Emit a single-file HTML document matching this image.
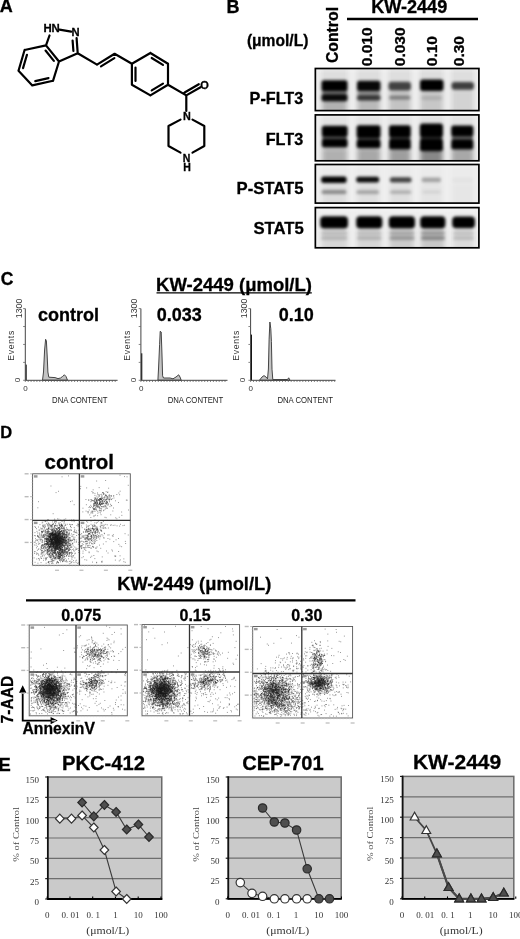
<!DOCTYPE html><html><head><meta charset="utf-8"><style>html,body{margin:0;padding:0;background:#fff;}svg{display:block;filter:blur(0.3px)}</style></head><body>
<svg width="520" height="939" viewBox="0 0 520 939">
<text x="-0.2" y="12.4" font-family="&quot;Liberation Sans&quot;, sans-serif" font-size="18" font-weight="bold" stroke="#000" stroke-width="0.3" text-anchor="start" fill="#000">A</text>
<path d="M24.6,50L46,45.4M46,45.4L59,61.5M59,61.5L53,80.8M53,80.8L32.3,85.4M32.3,85.4L18.5,70.8M18.5,70.8L24.6,50M23.05,68.07L26.96,54.76M48.49,78.11L35.25,81.06M45.54,50.56L53.86,60.86M46,45.4L49.5,35.5M59.5,29.6L71.2,31.6M76.6,38.2L77.7,53.2M72.6,40.5L73.4,51.0M77.7,53.2L59,61.5M77.7,53.2L97,64.6M97,64.6L114.6,53.8M100.99,66.37L114.37,58.16M114.6,53.8L131.9,63.7M131.9,63.7L150.4,53M150.4,53L168,63.7M168,63.7L168,84.8M168,84.8L150.4,95.4M150.4,95.4L131.9,84.8M131.9,84.8L131.9,63.7M135.5,81.0L135.5,67.5M151.7,58.0L162.96,64.85M162.97,83.62L151.71,90.41M168,84.8L186.3,95.4M186.3,95.4L200.5,87.2M184.6,92.46L198.8,84.26M186.3,95.4L186.3,111M180.5,119.6L168.5,126M168.5,126L168.5,146M168.5,146L180.5,152.6M192.5,119.6L204.3,126M204.3,126L204.3,146M204.3,146L192.5,152.6" stroke="#000" stroke-width="2.2" fill="none" stroke-linecap="round"/>
<text x="43.4" y="32.2" font-family="&quot;Liberation Sans&quot;, sans-serif" font-size="11.4" font-weight="bold" stroke="#000" stroke-width="0.3" text-anchor="start" fill="#000">HN</text>
<text x="71.5" y="36.3" font-family="&quot;Liberation Sans&quot;, sans-serif" font-size="11.2" font-weight="bold" stroke="#000" stroke-width="0.3" text-anchor="start" fill="#000">N</text>
<text x="200.3" y="88.5" font-family="&quot;Liberation Sans&quot;, sans-serif" font-size="11" font-weight="bold" stroke="#000" stroke-width="0.3" text-anchor="start" fill="#000">O</text>
<text x="183" y="119.9" font-family="&quot;Liberation Sans&quot;, sans-serif" font-size="10.8" font-weight="bold" stroke="#000" stroke-width="0.3" text-anchor="start" fill="#000">N</text>
<text x="182.7" y="161.5" font-family="&quot;Liberation Sans&quot;, sans-serif" font-size="10.5" font-weight="bold" stroke="#000" stroke-width="0.3" text-anchor="start" fill="#000">N</text>
<text x="183.2" y="171.1" font-family="&quot;Liberation Sans&quot;, sans-serif" font-size="10.5" font-weight="bold" stroke="#000" stroke-width="0.3" text-anchor="start" fill="#000">H</text>
<text x="226.5" y="12.6" font-family="&quot;Liberation Sans&quot;, sans-serif" font-size="18" font-weight="bold" stroke="#000" stroke-width="0.3" text-anchor="start" fill="#000">B</text>
<text x="246.9" y="45.6" font-family="&quot;Liberation Sans&quot;, sans-serif" font-size="15.6" font-weight="bold" stroke="#000" stroke-width="0.3" text-anchor="start" fill="#000">(&#956;mol/L)</text>
<text x="338.2" y="63.1" font-family="&quot;Liberation Sans&quot;, sans-serif" font-size="15.8" font-weight="bold" stroke="#000" stroke-width="0.3" text-anchor="start" fill="#000" transform="rotate(-90 338.2 63.1)">Control</text>
<text x="371.9" y="66.2" font-family="&quot;Liberation Sans&quot;, sans-serif" font-size="15.5" font-weight="bold" stroke="#000" stroke-width="0.3" text-anchor="start" fill="#000" transform="rotate(-90 371.9 66.2)">0.010</text>
<text x="405.4" y="66.2" font-family="&quot;Liberation Sans&quot;, sans-serif" font-size="15.5" font-weight="bold" stroke="#000" stroke-width="0.3" text-anchor="start" fill="#000" transform="rotate(-90 405.4 66.2)">0.030</text>
<text x="436.9" y="66.2" font-family="&quot;Liberation Sans&quot;, sans-serif" font-size="15.5" font-weight="bold" stroke="#000" stroke-width="0.3" text-anchor="start" fill="#000" transform="rotate(-90 436.9 66.2)">0.10</text>
<text x="464.0" y="66.2" font-family="&quot;Liberation Sans&quot;, sans-serif" font-size="15.5" font-weight="bold" stroke="#000" stroke-width="0.3" text-anchor="start" fill="#000" transform="rotate(-90 464.0 66.2)">0.30</text>
<text x="371.2" y="13.3" font-family="&quot;Liberation Sans&quot;, sans-serif" font-size="18.1" font-weight="bold" stroke="#000" stroke-width="0.3" text-anchor="start" fill="#000">KW-2449</text>
<line x1="347" y1="19.0" x2="478" y2="19.0" stroke="#000" stroke-width="2.6"/>
<text x="249.6" y="103.5" font-family="&quot;Liberation Sans&quot;, sans-serif" font-size="16.2" font-weight="bold" stroke="#000" stroke-width="0.3" text-anchor="start" fill="#000">P-FLT3</text>
<text x="265.7" y="144.9" font-family="&quot;Liberation Sans&quot;, sans-serif" font-size="16.2" font-weight="bold" stroke="#000" stroke-width="0.3" text-anchor="start" fill="#000">FLT3</text>
<text x="236.5" y="193.5" font-family="&quot;Liberation Sans&quot;, sans-serif" font-size="16.7" font-weight="bold" stroke="#000" stroke-width="0.3" text-anchor="start" fill="#000">P-STAT5</text>
<text x="253.4" y="233.9" font-family="&quot;Liberation Sans&quot;, sans-serif" font-size="16.7" font-weight="bold" stroke="#000" stroke-width="0.3" text-anchor="start" fill="#000">STAT5</text>
<defs><filter id="bl" x="-20%" y="-60%" width="140%" height="220%"><feGaussianBlur stdDeviation="1.5"/></filter><filter id="bl2" x="-30%" y="-30%" width="160%" height="160%"><feGaussianBlur stdDeviation="2.4"/></filter><filter id="bl3" x="-30%" y="-30%" width="160%" height="160%"><feGaussianBlur stdDeviation="0.8"/></filter></defs>
<svg x="315.35" y="68.5" width="163.54999999999995" height="42.099999999999994" viewBox="315.35 68.5 163.54999999999995 42.099999999999994" overflow="hidden">
<rect x="315.35" y="68.5" width="163.54999999999995" height="42.099999999999994" fill="#dedede"/>
<rect x="311.85" y="63.5" width="9.149999999999977" height="52.099999999999994" fill="#efefef" filter="url(#bl2)"/>
<rect x="348.0" y="63.5" width="8.5" height="52.099999999999994" fill="#efefef" filter="url(#bl2)"/>
<rect x="381.0" y="63.5" width="7.0" height="52.099999999999994" fill="#efefef" filter="url(#bl2)"/>
<rect x="411.5" y="63.5" width="8" height="52.099999999999994" fill="#efefef" filter="url(#bl2)"/>
<rect x="444.0" y="63.5" width="7.0" height="52.099999999999994" fill="#efefef" filter="url(#bl2)"/>
<rect x="474.5" y="63.5" width="7.899999999999977" height="52.099999999999994" fill="#efefef" filter="url(#bl2)"/>
<rect x="315.35" y="62.5" width="163.54999999999995" height="8" fill="#fafafa" opacity="0.5" filter="url(#bl2)"/>
<g filter="url(#bl2)">
<rect x="322.5" y="90" width="24.0" height="24.599999999999994" fill="#000" fill-opacity="0.2"/>
<rect x="358" y="90" width="21.5" height="24.599999999999994" fill="#000" fill-opacity="0.17"/>
<rect x="389.5" y="90" width="20.5" height="24.599999999999994" fill="#000" fill-opacity="0.12"/>
<rect x="421" y="90" width="21.5" height="24.599999999999994" fill="#000" fill-opacity="0.1"/>
<rect x="452.5" y="90" width="20.5" height="24.599999999999994" fill="#000" fill-opacity="0.05"/>
</g>
<g filter="url(#bl)">
<rect x="322" y="90" width="25" height="5" rx="1" fill="#000" fill-opacity="0.35"/>
<rect x="357.5" y="90" width="22.5" height="5.5" rx="1" fill="#000" fill-opacity="0.25"/>
<rect x="321.5" y="80.2" width="26.0" height="11.0" rx="2.5" fill="#000" fill-opacity="1"/>
<rect x="321.5" y="94.2" width="26.0" height="7.0" rx="2.5" fill="#000" fill-opacity="0.95"/>
<rect x="357" y="80.8" width="23.5" height="10.200000000000003" rx="2.5" fill="#000" fill-opacity="0.97"/>
<rect x="357" y="95.2" width="23.5" height="5.200000000000003" rx="2" fill="#000" fill-opacity="0.72"/>
<rect x="388.5" y="81.8" width="22.5" height="8.799999999999997" rx="3" fill="#000" fill-opacity="0.7"/>
<rect x="389" y="95.8" width="21.5" height="3.799999999999997" rx="2" fill="#000" fill-opacity="0.38"/>
<rect x="420" y="79.6" width="23.5" height="11.400000000000006" rx="3" fill="#000" fill-opacity="1"/>
<rect x="421" y="96" width="21.5" height="4" rx="2" fill="#000" fill-opacity="0.12"/>
<rect x="451.5" y="82" width="22.5" height="7.799999999999997" rx="3" fill="#000" fill-opacity="0.72"/>
</g>
</svg>
<rect x="315.35" y="68.5" width="163.54999999999995" height="42.099999999999994" fill="none" stroke="#000" stroke-width="1.7"/>
<svg x="315.35" y="114.9" width="163.54999999999995" height="45.900000000000006" viewBox="315.35 114.9 163.54999999999995 45.900000000000006" overflow="hidden">
<rect x="315.35" y="114.9" width="163.54999999999995" height="45.900000000000006" fill="#e2e2e2"/>
<rect x="311.85" y="109.9" width="9.149999999999977" height="55.900000000000006" fill="#efefef" filter="url(#bl2)"/>
<rect x="348.5" y="109.9" width="7.5" height="55.900000000000006" fill="#efefef" filter="url(#bl2)"/>
<rect x="381.5" y="109.9" width="6.5" height="55.900000000000006" fill="#efefef" filter="url(#bl2)"/>
<rect x="411.5" y="109.9" width="7.5" height="55.900000000000006" fill="#efefef" filter="url(#bl2)"/>
<rect x="444.0" y="109.9" width="6.5" height="55.900000000000006" fill="#efefef" filter="url(#bl2)"/>
<rect x="474.5" y="109.9" width="7.899999999999977" height="55.900000000000006" fill="#efefef" filter="url(#bl2)"/>
<rect x="315.35" y="108.9" width="163.54999999999995" height="8" fill="#fafafa" opacity="0.5" filter="url(#bl2)"/>
<g filter="url(#bl2)">
<rect x="322.5" y="148" width="24.5" height="16.80000000000001" fill="#000" fill-opacity="0.22"/>
<rect x="357.5" y="148" width="22.5" height="16.80000000000001" fill="#000" fill-opacity="0.26"/>
<rect x="389.5" y="148" width="20.5" height="16.80000000000001" fill="#000" fill-opacity="0.3"/>
<rect x="420.5" y="148" width="22.0" height="16.80000000000001" fill="#000" fill-opacity="0.4"/>
<rect x="452" y="148" width="21" height="16.80000000000001" fill="#000" fill-opacity="0.26"/>
</g>
<g filter="url(#bl)">
<rect x="321.8" y="125.8" width="25.80000000000001" height="11.000000000000014" rx="2.5" fill="#000" fill-opacity="1"/>
<rect x="321.8" y="138.8" width="25.80000000000001" height="8.599999999999994" rx="2.5" fill="#000" fill-opacity="1"/>
<rect x="356.6" y="125.2" width="24.0" height="12.799999999999997" rx="2.5" fill="#000" fill-opacity="1"/>
<rect x="356.6" y="139.4" width="24.0" height="8.799999999999983" rx="2.5" fill="#000" fill-opacity="1"/>
<rect x="389" y="125.2" width="21.80000000000001" height="12.399999999999991" rx="2.5" fill="#000" fill-opacity="1"/>
<rect x="389" y="138.8" width="21.80000000000001" height="10.599999999999994" rx="2.5" fill="#000" fill-opacity="1"/>
<rect x="419.8" y="123.6" width="23.19999999999999" height="14.0" rx="3" fill="#000" fill-opacity="1"/>
<rect x="419.8" y="138.6" width="23.19999999999999" height="12.700000000000017" rx="3" fill="#000" fill-opacity="1"/>
<rect x="451.2" y="125.4" width="22.19999999999999" height="11.199999999999989" rx="2.5" fill="#000" fill-opacity="1"/>
<rect x="451.2" y="139.2" width="22.19999999999999" height="10.200000000000017" rx="2.5" fill="#000" fill-opacity="1"/>
<rect x="322" y="136" width="25" height="3.5" rx="0" fill="#000" fill-opacity="0.55"/>
<rect x="357" y="137.5" width="23" height="2.5" rx="0" fill="#000" fill-opacity="0.6"/>
<rect x="389.5" y="137" width="21.0" height="2.5" rx="0" fill="#000" fill-opacity="0.6"/>
<rect x="420" y="137" width="22.5" height="2" rx="0" fill="#000" fill-opacity="0.6"/>
<rect x="451.5" y="136.2" width="21.5" height="3.4000000000000057" rx="0" fill="#000" fill-opacity="0.55"/>
</g>
</svg>
<rect x="315.35" y="114.9" width="163.54999999999995" height="45.900000000000006" fill="none" stroke="#000" stroke-width="1.7"/>
<svg x="315.35" y="164.5" width="163.54999999999995" height="38.599999999999994" viewBox="315.35 164.5 163.54999999999995 38.599999999999994" overflow="hidden">
<rect x="315.35" y="164.5" width="163.54999999999995" height="38.599999999999994" fill="#ebebeb"/>
<rect x="311.85" y="159.5" width="9.149999999999977" height="48.599999999999994" fill="#efefef" filter="url(#bl2)"/>
<rect x="348.0" y="159.5" width="8.0" height="48.599999999999994" fill="#efefef" filter="url(#bl2)"/>
<rect x="380.5" y="159.5" width="8" height="48.599999999999994" fill="#efefef" filter="url(#bl2)"/>
<rect x="412.5" y="159.5" width="7.5" height="48.599999999999994" fill="#efefef" filter="url(#bl2)"/>
<rect x="443.0" y="159.5" width="8.0" height="48.599999999999994" fill="#efefef" filter="url(#bl2)"/>
<rect x="474.5" y="159.5" width="7.899999999999977" height="48.599999999999994" fill="#efefef" filter="url(#bl2)"/>
<rect x="315.35" y="158.5" width="163.54999999999995" height="8" fill="#fafafa" opacity="0.5" filter="url(#bl2)"/>
<g filter="url(#bl2)">
<rect x="322.5" y="184" width="24.0" height="23" fill="#000" fill-opacity="0.06"/>
<rect x="357.5" y="184" width="21.5" height="23" fill="#000" fill-opacity="0.05"/>
<rect x="390" y="184" width="21" height="23" fill="#000" fill-opacity="0.05"/>
<rect x="421.5" y="184" width="20.0" height="23" fill="#000" fill-opacity="0.03"/>
<rect x="452.5" y="184" width="20.5" height="23" fill="#000" fill-opacity="0.02"/>
</g>
<g filter="url(#bl)">
<rect x="321.2" y="176.4" width="25.400000000000034" height="6.599999999999994" rx="2.5" fill="#000" fill-opacity="1"/>
<rect x="321.6" y="190" width="24.799999999999955" height="4" rx="1.5" fill="#000" fill-opacity="0.38"/>
<rect x="356.2" y="176.8" width="23.0" height="5.799999999999983" rx="2.5" fill="#000" fill-opacity="0.95"/>
<rect x="356.4" y="190.2" width="22.600000000000023" height="3.8000000000000114" rx="1.5" fill="#000" fill-opacity="0.28"/>
<rect x="389.8" y="177.2" width="21.80000000000001" height="5.200000000000017" rx="2.5" fill="#000" fill-opacity="0.72"/>
<rect x="390" y="190.4" width="21.399999999999977" height="3.4000000000000057" rx="1.5" fill="#000" fill-opacity="0.24"/>
<rect x="421.6" y="177.6" width="19.399999999999977" height="4.599999999999994" rx="2" fill="#000" fill-opacity="0.3"/>
<rect x="422" y="190.6" width="19" height="3.0" rx="1.5" fill="#000" fill-opacity="0.08"/>
<rect x="452" y="178" width="21" height="4" rx="2" fill="#000" fill-opacity="0.04"/>
</g>
</svg>
<rect x="315.35" y="164.5" width="163.54999999999995" height="38.599999999999994" fill="none" stroke="#000" stroke-width="1.7"/>
<svg x="315.35" y="207.6" width="163.54999999999995" height="40.20000000000002" viewBox="315.35 207.6 163.54999999999995 40.20000000000002" overflow="hidden">
<rect x="315.35" y="207.6" width="163.54999999999995" height="40.20000000000002" fill="#eeeeee"/>
<rect x="311.85" y="202.6" width="8.149999999999977" height="50.20000000000002" fill="#efefef" filter="url(#bl2)"/>
<rect x="349.0" y="202.6" width="6.5" height="50.20000000000002" fill="#efefef" filter="url(#bl2)"/>
<rect x="383.0" y="202.6" width="5.0" height="50.20000000000002" fill="#efefef" filter="url(#bl2)"/>
<rect x="415.5" y="202.6" width="4" height="50.20000000000002" fill="#efefef" filter="url(#bl2)"/>
<rect x="446.0" y="202.6" width="5.5" height="50.20000000000002" fill="#efefef" filter="url(#bl2)"/>
<rect x="475.5" y="202.6" width="6.899999999999977" height="50.20000000000002" fill="#efefef" filter="url(#bl2)"/>
<rect x="315.35" y="201.6" width="163.54999999999995" height="8" fill="#fafafa" opacity="0.5" filter="url(#bl2)"/>
<g filter="url(#bl2)">
<rect x="321.5" y="229" width="26.0" height="22.80000000000001" fill="#000" fill-opacity="0.1"/>
<rect x="357" y="229" width="24.5" height="22.80000000000001" fill="#000" fill-opacity="0.1"/>
<rect x="389.5" y="229" width="24.5" height="22.80000000000001" fill="#000" fill-opacity="0.14"/>
<rect x="421" y="229" width="23.5" height="22.80000000000001" fill="#000" fill-opacity="0.16"/>
<rect x="453" y="229" width="21" height="22.80000000000001" fill="#000" fill-opacity="0.08"/>
</g>
<g filter="url(#bl)">
<rect x="320.2" y="216.2" width="27.80000000000001" height="12.400000000000006" rx="4" fill="#000" fill-opacity="1"/>
<rect x="356.2" y="216.2" width="26.100000000000023" height="12.400000000000006" rx="4" fill="#000" fill-opacity="1"/>
<rect x="388.8" y="216.2" width="26.19999999999999" height="12.400000000000006" rx="4" fill="#000" fill-opacity="1"/>
<rect x="420.2" y="216.2" width="25.19999999999999" height="12.400000000000006" rx="4" fill="#000" fill-opacity="1"/>
<rect x="452.2" y="216.6" width="22.80000000000001" height="11.599999999999994" rx="4" fill="#000" fill-opacity="1"/>
<rect x="321" y="231.5" width="26.5" height="3.0" rx="1.5" fill="#000" fill-opacity="0.16"/>
<rect x="357" y="231.5" width="24.5" height="3.0" rx="1.5" fill="#000" fill-opacity="0.15"/>
<rect x="389.5" y="231.5" width="25.0" height="3.0" rx="1.5" fill="#000" fill-opacity="0.24"/>
<rect x="421" y="231.5" width="24" height="3.0" rx="1.5" fill="#000" fill-opacity="0.3"/>
<rect x="453" y="231.5" width="21" height="3.0" rx="1.5" fill="#000" fill-opacity="0.15"/>
<rect x="321" y="236" width="26.5" height="4" rx="1.5" fill="#000" fill-opacity="0.15"/>
<rect x="357" y="236" width="24.5" height="4" rx="1.5" fill="#000" fill-opacity="0.16"/>
<rect x="389.5" y="236" width="25.0" height="4" rx="1.5" fill="#000" fill-opacity="0.26"/>
<rect x="421" y="236" width="24" height="4" rx="1.5" fill="#000" fill-opacity="0.32"/>
<rect x="453" y="236" width="21" height="4" rx="1.5" fill="#000" fill-opacity="0.14"/>
</g>
</svg>
<rect x="315.35" y="207.6" width="163.54999999999995" height="40.20000000000002" fill="none" stroke="#000" stroke-width="1.7"/>
<text x="0.7" y="284.8" font-family="&quot;Liberation Sans&quot;, sans-serif" font-size="17.5" font-weight="bold" stroke="#000" stroke-width="0.3" text-anchor="start" fill="#000">C</text>
<text x="156.1" y="291.3" font-family="&quot;Liberation Sans&quot;, sans-serif" font-size="18.5" font-weight="bold" stroke="#000" stroke-width="0.3" text-anchor="start" fill="#000">KW-2449 (&#956;mol/L)</text>
<line x1="156.5" y1="292.9" x2="311.8" y2="292.9" stroke="#000" stroke-width="1.4"/>
<text x="38.1" y="320.5" font-family="&quot;Liberation Sans&quot;, sans-serif" font-size="18" font-weight="bold" stroke="#000" stroke-width="0.3" text-anchor="start" fill="#000">control</text>
<path d="M42.5,380.2 L43.5,372 L44.6,350 L45.6,339.3 L46.4,341 L47.2,356 L47.9,372 L48.8,377.2 L55,377.6 L58,378.6 L60.5,378 L62.5,376.5 L64.4,374.8 L66,376.5 L67.5,380.2Z" fill="#c4c4c4" stroke="#333" stroke-width="0.9" stroke-linejoin="round"/>
<rect x="25.5" y="364.6" width="1.2" height="15.699999999999989" fill="#111"/>
<line x1="25.3" y1="308.6" x2="25.3" y2="380.3" stroke="#444" stroke-width="1"/>
<line x1="25.3" y1="380.3" x2="117.6" y2="380.3" stroke="#444" stroke-width="1"/>
<line x1="23.1" y1="308.6" x2="25.3" y2="308.6" stroke="#666" stroke-width="0.8"/>
<line x1="23.1" y1="326.52500000000003" x2="25.3" y2="326.52500000000003" stroke="#666" stroke-width="0.8"/>
<line x1="23.1" y1="344.45000000000005" x2="25.3" y2="344.45000000000005" stroke="#666" stroke-width="0.8"/>
<line x1="23.1" y1="362.375" x2="25.3" y2="362.375" stroke="#666" stroke-width="0.8"/>
<line x1="23.1" y1="380.3" x2="25.3" y2="380.3" stroke="#666" stroke-width="0.8"/>
<path d="M25.3,380.3v1.6M28.2,380.3v1.6M31.1,380.3v1.6M34.0,380.3v1.6M36.9,380.3v1.6M39.8,380.3v1.6M42.7,380.3v1.6M45.6,380.3v1.6M48.5,380.3v1.6M51.4,380.3v1.6M54.3,380.3v1.6M57.2,380.3v1.6M60.1,380.3v1.6M63.0,380.3v1.6M65.9,380.3v1.6M68.8,380.3v1.6M71.7,380.3v1.6M74.6,380.3v1.6M77.5,380.3v1.6M80.4,380.3v1.6M83.3,380.3v1.6M86.2,380.3v1.6M89.1,380.3v1.6M92.0,380.3v1.6M94.9,380.3v1.6M97.8,380.3v1.6M100.7,380.3v1.6M103.6,380.3v1.6M106.5,380.3v1.6M109.4,380.3v1.6M112.3,380.3v1.6M115.2,380.3v1.6" stroke="#555" stroke-width="0.8"/>
<text x="21.6" y="318.20000000000005" font-family="&quot;Liberation Sans&quot;, sans-serif" font-size="8.8" text-anchor="start" fill="#333" transform="rotate(-90 21.6 318.20000000000005)">1300</text>
<text x="14.0" y="360.8" font-family="&quot;Liberation Sans&quot;, sans-serif" font-size="8.6" text-anchor="start" fill="#333" transform="rotate(-90 14.0 360.8)" textLength="30" lengthAdjust="spacing">Events</text>
<text x="20.1" y="382.2" font-family="&quot;Liberation Sans&quot;, sans-serif" font-size="8" text-anchor="start" fill="#333" transform="rotate(-90 20.1 382.2)">0</text>
<text x="23.3" y="390.7" font-family="&quot;Liberation Sans&quot;, sans-serif" font-size="8" text-anchor="start" fill="#333">0</text>
<text x="52.1" y="403.1" font-family="&quot;Liberation Sans&quot;, sans-serif" font-size="8.6" text-anchor="start" fill="#222" textLength="55.5" lengthAdjust="spacingAndGlyphs">DNA CONTENT</text>
<text x="156.8" y="320.5" font-family="&quot;Liberation Sans&quot;, sans-serif" font-size="18" font-weight="bold" stroke="#000" stroke-width="0.3" text-anchor="start" fill="#000">0.033</text>
<path d="M157.9,380.2 L158.5,369 L159.6,344.6 L160.2,331.3 L161.2,332 L162,355 L162.6,375.8 L163.5,378 L170,378 L173,378.8 L176,377 L178.7,374.8 L180,377 L181.2,380.2Z" fill="#c4c4c4" stroke="#333" stroke-width="0.9" stroke-linejoin="round"/>
<rect x="141.1" y="353.3" width="1.2" height="27.0" fill="#111"/>
<line x1="140.9" y1="308.6" x2="140.9" y2="380.3" stroke="#444" stroke-width="1"/>
<line x1="140.9" y1="380.3" x2="227.5" y2="380.3" stroke="#444" stroke-width="1"/>
<line x1="138.70000000000002" y1="308.6" x2="140.9" y2="308.6" stroke="#666" stroke-width="0.8"/>
<line x1="138.70000000000002" y1="326.52500000000003" x2="140.9" y2="326.52500000000003" stroke="#666" stroke-width="0.8"/>
<line x1="138.70000000000002" y1="344.45000000000005" x2="140.9" y2="344.45000000000005" stroke="#666" stroke-width="0.8"/>
<line x1="138.70000000000002" y1="362.375" x2="140.9" y2="362.375" stroke="#666" stroke-width="0.8"/>
<line x1="138.70000000000002" y1="380.3" x2="140.9" y2="380.3" stroke="#666" stroke-width="0.8"/>
<path d="M140.9,380.3v1.6M143.8,380.3v1.6M146.7,380.3v1.6M149.6,380.3v1.6M152.5,380.3v1.6M155.4,380.3v1.6M158.3,380.3v1.6M161.2,380.3v1.6M164.1,380.3v1.6M167.0,380.3v1.6M169.9,380.3v1.6M172.8,380.3v1.6M175.7,380.3v1.6M178.6,380.3v1.6M181.5,380.3v1.6M184.4,380.3v1.6M187.3,380.3v1.6M190.2,380.3v1.6M193.1,380.3v1.6M196.0,380.3v1.6M198.9,380.3v1.6M201.8,380.3v1.6M204.7,380.3v1.6M207.6,380.3v1.6M210.5,380.3v1.6M213.4,380.3v1.6M216.3,380.3v1.6M219.2,380.3v1.6M222.1,380.3v1.6M225.0,380.3v1.6" stroke="#555" stroke-width="0.8"/>
<text x="137.20000000000002" y="318.20000000000005" font-family="&quot;Liberation Sans&quot;, sans-serif" font-size="8.8" text-anchor="start" fill="#333" transform="rotate(-90 137.20000000000002 318.20000000000005)">1300</text>
<text x="129.6" y="360.8" font-family="&quot;Liberation Sans&quot;, sans-serif" font-size="8.6" text-anchor="start" fill="#333" transform="rotate(-90 129.6 360.8)" textLength="30" lengthAdjust="spacing">Events</text>
<text x="135.70000000000002" y="382.2" font-family="&quot;Liberation Sans&quot;, sans-serif" font-size="8" text-anchor="start" fill="#333" transform="rotate(-90 135.70000000000002 382.2)">0</text>
<text x="138.9" y="390.7" font-family="&quot;Liberation Sans&quot;, sans-serif" font-size="8" text-anchor="start" fill="#333">0</text>
<text x="167.70000000000002" y="403.1" font-family="&quot;Liberation Sans&quot;, sans-serif" font-size="8.6" text-anchor="start" fill="#222" textLength="55.5" lengthAdjust="spacingAndGlyphs">DNA CONTENT</text>
<text x="278.7" y="320.5" font-family="&quot;Liberation Sans&quot;, sans-serif" font-size="18" font-weight="bold" stroke="#000" stroke-width="0.3" text-anchor="start" fill="#000">0.10</text>
<path d="M259.5,380.2 L262,377 L264,375.6 L266,377 L267.5,378.8 L268.4,369 L269.1,339.2 L269.9,322 L270.8,328.8 L271.4,341.5 L272,369.2 L272.8,379.6 L287.5,379.5 L288.7,377.8 L290,380.2Z" fill="#c4c4c4" stroke="#333" stroke-width="0.9" stroke-linejoin="round"/>
<rect x="250.79999999999998" y="334.6" width="1.2" height="45.69999999999999" fill="#111"/>
<line x1="250.6" y1="308.6" x2="250.6" y2="380.3" stroke="#444" stroke-width="1"/>
<line x1="250.6" y1="380.3" x2="335.5" y2="380.3" stroke="#444" stroke-width="1"/>
<line x1="248.4" y1="308.6" x2="250.6" y2="308.6" stroke="#666" stroke-width="0.8"/>
<line x1="248.4" y1="326.52500000000003" x2="250.6" y2="326.52500000000003" stroke="#666" stroke-width="0.8"/>
<line x1="248.4" y1="344.45000000000005" x2="250.6" y2="344.45000000000005" stroke="#666" stroke-width="0.8"/>
<line x1="248.4" y1="362.375" x2="250.6" y2="362.375" stroke="#666" stroke-width="0.8"/>
<line x1="248.4" y1="380.3" x2="250.6" y2="380.3" stroke="#666" stroke-width="0.8"/>
<path d="M250.6,380.3v1.6M253.5,380.3v1.6M256.4,380.3v1.6M259.3,380.3v1.6M262.2,380.3v1.6M265.1,380.3v1.6M268.0,380.3v1.6M270.9,380.3v1.6M273.8,380.3v1.6M276.7,380.3v1.6M279.6,380.3v1.6M282.5,380.3v1.6M285.4,380.3v1.6M288.3,380.3v1.6M291.2,380.3v1.6M294.1,380.3v1.6M297.0,380.3v1.6M299.9,380.3v1.6M302.8,380.3v1.6M305.7,380.3v1.6M308.6,380.3v1.6M311.5,380.3v1.6M314.4,380.3v1.6M317.3,380.3v1.6M320.2,380.3v1.6M323.1,380.3v1.6M326.0,380.3v1.6M328.9,380.3v1.6M331.8,380.3v1.6M334.7,380.3v1.6" stroke="#555" stroke-width="0.8"/>
<text x="246.9" y="318.20000000000005" font-family="&quot;Liberation Sans&quot;, sans-serif" font-size="8.8" text-anchor="start" fill="#333" transform="rotate(-90 246.9 318.20000000000005)">1300</text>
<text x="239.29999999999998" y="360.8" font-family="&quot;Liberation Sans&quot;, sans-serif" font-size="8.6" text-anchor="start" fill="#333" transform="rotate(-90 239.29999999999998 360.8)" textLength="30" lengthAdjust="spacing">Events</text>
<text x="245.4" y="382.2" font-family="&quot;Liberation Sans&quot;, sans-serif" font-size="8" text-anchor="start" fill="#333" transform="rotate(-90 245.4 382.2)">0</text>
<text x="248.6" y="390.7" font-family="&quot;Liberation Sans&quot;, sans-serif" font-size="8" text-anchor="start" fill="#333">0</text>
<text x="277.4" y="403.1" font-family="&quot;Liberation Sans&quot;, sans-serif" font-size="8.6" text-anchor="start" fill="#222" textLength="55.5" lengthAdjust="spacingAndGlyphs">DNA CONTENT</text>
<text x="0.35" y="438.2" font-family="&quot;Liberation Sans&quot;, sans-serif" font-size="16.5" font-weight="bold" stroke="#000" stroke-width="0.3" text-anchor="start" fill="#000">D</text>
<text x="44.5" y="468.6" font-family="&quot;Liberation Sans&quot;, sans-serif" font-size="20.5" font-weight="bold" stroke="#000" stroke-width="0.3" text-anchor="start" fill="#000">control</text>
<text x="117.2" y="589.9" font-family="&quot;Liberation Sans&quot;, sans-serif" font-size="18.3" font-weight="bold" stroke="#000" stroke-width="0.3" text-anchor="start" fill="#000">KW-2449 (&#956;mol/L)</text>
<line x1="26" y1="600.4" x2="355.5" y2="600.4" stroke="#000" stroke-width="2.4"/>
<text x="61.2" y="620.5" font-family="&quot;Liberation Sans&quot;, sans-serif" font-size="16" font-weight="bold" stroke="#000" stroke-width="0.3" text-anchor="start" fill="#000">0.075</text>
<text x="179.5" y="620.5" font-family="&quot;Liberation Sans&quot;, sans-serif" font-size="16" font-weight="bold" stroke="#000" stroke-width="0.3" text-anchor="start" fill="#000">0.15</text>
<text x="291.2" y="620.5" font-family="&quot;Liberation Sans&quot;, sans-serif" font-size="16" font-weight="bold" stroke="#000" stroke-width="0.3" text-anchor="start" fill="#000">0.30</text>
<text x="13.0" y="723.4" font-family="&quot;Liberation Sans&quot;, sans-serif" font-size="15.6" font-weight="bold" stroke="#000" stroke-width="0.3" text-anchor="start" fill="#000" transform="rotate(-90 13.0 723.4)">7-AAD</text>
<text x="22.5" y="734.1" font-family="&quot;Liberation Sans&quot;, sans-serif" font-size="15.7" font-weight="bold" stroke="#000" stroke-width="0.3" text-anchor="start" fill="#000">AnnexinV</text>
<path d="M22.7,692 V720.6 H51" stroke="#000" stroke-width="1.8" fill="none"/>
<path d="M22.7,685.2 L19,692.8 L26.4,692.8Z M57.8,720.6 L50.6,716.9 L50.6,724.3Z" fill="#000"/>
<path transform="scale(0.1)" d="M0 0m1196 4752h9m-524 7h9m-74 9h9m615-2h9m17 2h9m-223 37h9m-99 5h9m307 43h9m-782 7h9m289 4h9m50 15h9m116-3h9m86 6h9m-290 5h9m117 11h9m-356 15h9m608-1h9m-291 3h9m96 10h9m28-8h9m4 7h9m-4-3h9m-528 5h9m360 4h9m-8-3h9m10 7h9m16-5h9m47-2h9m-4 2h9m144 1h9m-221 12h9m31 1h9m7-5h9m-6 6h9m-4-8h9m-100 18h9m27-5h9m-1 5h9m-2-9h9m41 3h9m-5 3h9m-3 4h9m-7-3h9m21-2h9m-8 2h9m66-7h9m19 2h9m-237 14h9m16 2h9m16-3h9m-7 0h9m28-1h9m-2 2h9m10-1h9m3 3h9m1-4h9m1 1h9m-9-1h9m12 2h9m-8-4h9m-193 17h9m21-4h9m20 2h9m23-3h9m-4 3h9m12 0h9m-6-6h9m-6 6h9m-142 8h9m18 0h9m-6 3h9m24 1h9m-1-2h9m-4 2h9m-6-5h9m-7 4h9m3-5h9m2 1h9m10 3h9m2 0h9m4-7h9m6 5h9m25 0h9m-289 15h9m78-1h9m-4-5h9m-6 0h9m-9-1h9m3 6h9m-8-3h9m18 3h9m-6-5h9m-9-4h9m-6 4h9m-9 4h9m-6-7h9m-8 7h9m-5-8h9m-1 10h9m7 0h9m-1-2h9m-8-1h9m9 1h9m-4 2h9m2-7h9m5-2h9m-4 8h9m-8-1h9m17-7h9m-243 17h9m-9-5h9m13-2h9m-6 2h9m0 5h9m7 2h9m1-5h9m9 2h9m-8 2h9m2-9h9m-2 0h9m-9 7h9m-9-3h9m4 6h9m-8-7h9m-5-3h9m-2 2h9m-5-1h9m-9 0h9m33 3h9m-2-3h9m8 1h9m0-1h9m14 0h9m-8-1h9m142 6h9m-1 1h9m-558 8h9m185-1h9m-1-3h9m2 4h9m2 1h9m-5-3h9m5 3h9m-7-2h9m-7 2h9m-3 1h9m-6-7h9m4 1h9m-4 2h9m-7 2h9m10-1h9m1-4h9m-8 1h9m4 2h9m-5 5h9m4-7h9m-3 5h9m-1 4h9m13-8h9m53 1h9m-780 9h9m312-1h9m194 1h9m29 1h9m-8 2h9m-4 5h9m-7-5h9m-6 4h9m0-5h9m22 0h9m-7 4h9m-5-6h9m-7 6h9m-6-6h9m-5 4h9m1-5h9m-6 0h9m-1 4h9m2-4h9m6 6h9m-4-2h9m-6 0h9m-5 4h9m-7 0h9m13-6h9m81 7h9m-260 9h9m-1 0h9m-5-3h9m-4-2h9m-6 1h9m-7 5h9m0-3h9m-6-5h9m-6 6h9m-7-3h9m-8-4h9m-9 6h9m9 0h9m-7 0h9m-6 1h9m-9-6h9m8 7h9m3-8h9m-4 6h9m11-3h9m0 6h9m3-6h9m-134 9h9m-6 0h9m10 5h9m-7-2h9m-8-1h9m8 3h9m-8 0h9m-4-7h9m-5 5h9m-9 3h9m-7-7h9m2 0h9m-4 4h9m-8 1h9m-8-1h9m-8-3h9m-6 0h9m-5-1h9m-2-2h9m-4 4h9m13-3h9m-9 2h9m-9 1h9m8-1h9m-2 3h9m10 2h9m-372 4h9m113 0h9m35 6h9m19-5h9m-8 6h9m-7-6h9m-1 5h9m-7-1h9m-8 1h9m0-3h9m-2-4h9m-4 9h9m6-6h9m6-1h9m-6-1h9m-9 8h9m-7-8h9m56 2h9m1 2h9m23 3h9m-158 4h9m-2 4h9m-7-2h9m-1-2h9m-3 6h9m19 1h9m9 0h9m1-7h9m0 6h9m-6-8h9m53 2h9m-236 17h9m-3-8h9m9-1h9m12-1h9m-3 2h9m5 6h9m-2-5h9m1 2h9m-7-1h9m-1 3h9m-1-1h9m0-4h9m12 0h9m0 1h9m2 3h9m5-2h9m2 1h9m26-4h9m-730 12h9m442 4h9m67-6h9m13 0h9m-6 5h9m0 4h9m4-2h9m31-4h9m-6-2h9m3 6h9m0 0h9m43 0h9m-5 0h9m54-3h9m-208 6h9m-4 6h9m-4-5h9m-4 6h9m-1 1h9m-3-3h9m24-4h9m46 2h9m-170 11h9m33-4h9m-3 2h9m-3-1h9m7 7h9m27-3h9m8-1h9m16 0h9m235 0h9m-433 11h9m52-2h9m19 6h9m16-3h9m9-7h9m4 2h9m-3 5h9m15-5h9m84 3h9m-309 9h9m39-1h9m0 0h9m17 3h9m0-2h9m-6 1h9m-2-4h9m51 5h9m217-1h9m-344 9h9m19 3h9m9 0h9m42 0h9m18-3h9m-483 8h9m357 12h9m34 6h9m6-3h9m46-5h9m88 1h9m102 6h9m-251 3h9m-77 18h9m22-9h9m101 7h9m134 0h9m-140 4h9m87 1h9m-620 13h9m20-2h9m4 2h9m44 3h9m7-5h9m502-1h9m-699 10h9m-6-1h9m50 6h9m2 0h9m47-2h9m81 2h9m9-3h9m1 4h9m4-7h9m202 3h9m56 5h9m52-1h9m-667 2h9m16 4h9m24-1h9m60 4h9m-1 2h9m53-5h9m2 1h9m85 0h9m64-4h9m-7 7h9m61-1h9m37-2h9m64 1h9m-565 9h9m17-6h9m-3 1h9m58 3h9m24 0h9m-3-1h9m66 2h9m-6-3h9m89-1h9m126 5h9m87 3h9m52-9h9m-692 18h9m62-4h9m52 0h9m55-3h9m1 9h9m20-4h9m6-4h9m339 1h9m7 3h9m38-5h9m-8 2h9m-2 2h9m-562 7h9m6 4h9m-2-4h9m-4 6h9m24 1h9m-9-1h9m-3 0h9m-7-6h9m50 2h9m13 0h9m16-1h9m7 5h9m7 0h9m13 0h9m75-3h9m-2 4h9m116-1h9m91-3h9m38 4h9m139-1h9m-815 3h9m20 5h9m3-1h9m2-1h9m14-2h9m8 4h9m1 0h9m1-2h9m-9 6h9m6-4h9m14 3h9m-1 0h9m-9-4h9m7 4h9m9-8h9m-7 7h9m0-4h9m0-1h9m-5-1h9m-9 5h9m-8-2h9m-3 2h9m-5 0h9m14 3h9m-2-1h9m37-8h9m6 1h9m-1-1h9m35 9h9m1-6h9m75 1h9m51 5h9m-3-5h9m4-1h9m-3 4h9m67 0h9m7-4h9m23-1h9m25 5h9m-3-5h9m10 6h9m9-2h9m85 1h9m-903 12h9m71-9h9m-6 8h9m8-5h9m19 0h9m-5-2h9m12 0h9m-1 2h9m-2-2h9m-8 3h9m17-2h9m-8 1h9m6-4h9m1 10h9m14-9h9m-4 5h9m-4 1h9m-6 1h9m1-8h9m-8 6h9m-6-3h9m-7 1h9m-5 5h9m70-1h9m-9-1h9m74-6h9m18 3h9m56 0h9m-8 5h9m2-8h9m29 7h9m8-4h9m-5 1h9m43 0h9m3-4h9m15 1h9m122 1h9m17 3h9m24-5h9m-883 19h9m21-5h9m34-1h9m0 0h9m0 4h9m0-5h9m22 3h9m-7 3h9m3-6h9m-1 0h9m-1 2h9m-6-5h9m0 6h9m9-5h9m-5 6h9m58-2h9m13 1h9m-7-2h9m62 6h9m60-9h9m76 2h9m54-2h9m3 1h9m10 1h9m-7 5h9m2-1h9m20-6h9m-5 7h9m17-5h9m-634 13h9m1 4h9m18-3h9m29 3h9m-4-1h9m23-5h9m10 3h9m0-5h9m21 3h9m-9 2h9m-3-3h9m-9 0h9m-7 1h9m-8 0h9m-4 3h9m-5-6h9m-8-1h9m-6 3h9m2 4h9m-3-4h9m-8-2h9m-1 6h9m4 0h9m-9-7h9m17 2h9m69-2h9m70 1h9m36 0h9m11 5h9m8 1h9m12-6h9m-6 7h9m22-1h9m54-3h9m3 2h9m-2-1h9m3-6h9m-3 9h9m16-4h9m-727 7h9m52 1h9m31 2h9m-6 4h9m2-2h9m-7 1h9m-7-8h9m1 5h9m2 3h9m-2-3h9m-3 4h9m2-7h9m-8 5h9m-1 0h9m-5-3h9m8-4h9m-7 2h9m-9 0h9m-5 1h9m-4 4h9m14-3h9m-4 4h9m-9 0h9m2-4h9m1-2h9m3 3h9m0-4h9m-8 0h9m19 9h9m-7-3h9m28 2h9m30-1h9m89-1h9m-5 0h9m10 2h9m4-1h9m-8-3h9m-5-1h9m-2 2h9m15-4h9m-4 1h9m-7-3h9m-5 2h9m-7 3h9m-3 0h9m-7 1h9m1-2h9m-6 1h9m6-4h9m-6 8h9m-6-7h9m-9 7h9m-5-7h9m16 4h9m-621 10h9m-4 0h9m8-3h9m11 2h9m-1 5h9m2-8h9m13 0h9m32 6h9m-7 0h9m-3-7h9m-5 4h9m-9 3h9m-8-3h9m2 2h9m-2-1h9m-8 0h9m-5 0h9m10-3h9m-8-2h9m-5 1h9m3 7h9m-8 0h9m-1-8h9m-8 8h9m-8-1h9m-7-7h9m20 8h9m0 0h9m-2-8h9m-3 6h9m-9-2h9m-4 0h9m-2 4h9m6-5h9m-1 3h9m-2-1h9m-8 1h9m13 1h9m65 0h9m-4-3h9m58 1h9m-9 4h9m-4-6h9m-9-1h9m-1 4h9m0-3h9m3-1h9m2 3h9m-6-1h9m-9 5h9m-8-1h9m17-4h9m-4-3h9m-7 1h9m15 6h9m-6-8h9m-7 4h9m-8-2h9m-3 4h9m-6 0h9m18 0h9m-8 2h9m-5-1h9m-653 11h9m40 0h9m7 0h9m12-3h9m-8-5h9m-8 7h9m12-3h9m-8 4h9m-8-3h9m-6-4h9m-2 7h9m19-1h9m1-1h9m-5-1h9m-2-3h9m-8-1h9m1 6h9m-6-7h9m-7 7h9m-8-2h9m-6-2h9m-4 1h9m-2-3h9m0 7h9m-8 1h9m-9-9h9m7 8h9m-8-1h9m-5 2h9m0-2h9m-9-2h9m-6 1h9m-9-4h9m-6-1h9m-5 4h9m-9 3h9m5-7h9m-8 7h9m-5-6h9m-6 2h9m-3 4h9m51-8h9m28 6h9m-9-3h9m10 0h9m97 5h9m1-1h9m-3-1h9m2-2h9m29-4h9m6 6h9m-4-2h9m17 3h9m21-2h9m-4 1h9m-612 4h9m-4 2h9m-6-3h9m-8 6h9m-9-1h9m11-2h9m16-2h9m-7 3h9m-8 6h9m-3-7h9m-5 7h9m-2-9h9m-8 5h9m2-4h9m9 6h9m-5 2h9m-7-4h9m-8 2h9m-5-1h9m-9-6h9m-5 8h9m-4-5h9m-8-3h9m3-1h9m-9 4h9m-6 4h9m-4-5h9m2 7h9m-7-3h9m-8-5h9m-5 0h9m-9 1h9m-1-2h9m-4 7h9m-7 0h9m-8-5h9m-8 5h9m-6-5h9m-2-3h9m-8 8h9m-6-5h9m-8-1h9m13 4h9m-5-2h9m4 0h9m-8 5h9m6-6h9m-5 7h9m-9-3h9m-9-2h9m-8 5h9m-7-7h9m11 2h9m34-2h9m7 5h9m3 2h9m62-5h9m-6 1h9m10-2h9m-6 1h9m-9-2h9m2 2h9m-1 1h9m-8-4h9m3-1h9m3 5h9m-2-1h9m-5 0h9m5 5h9m-6-7h9m1 0h9m2 0h9m-6 4h9m-8-1h9m4 3h9m-5-4h9m-3-3h9m-638 9h9m18 4h9m7-1h9m16 0h9m-5-3h9m23 0h9m-6 3h9m2 1h9m1 1h9m-4-1h9m4 2h9m-1 1h9m-5-2h9m-7 0h9m-7-3h9m-6 5h9m-8 1h9m-2-2h9m-8-3h9m-5-2h9m-6 0h9m-9 7h9m-8-5h9m4-2h9m-5 6h9m-7 0h9m-8 1h9m-4-5h9m-9 2h9m-8-3h9m-5-2h9m-7 7h9m-4-4h9m-8 2h9m-8-3h9m-8 4h9m-8 0h9m1-4h9m-9-2h9m-8 5h9m-8 1h9m0-3h9m-8 5h9m-8-6h9m-9-1h9m-3 6h9m-6-8h9m1 9h9m-6-4h9m-3-1h9m-7 0h9m-8-2h9m-9-1h9m-8 9h9m-6-2h9m-7 2h9m-2-7h9m-7 1h9m22 4h9m11-2h9m-8 2h9m49-7h9m9 5h9m116 3h9m-5 0h9m2-5h9m6-4h9m-8 9h9m8-8h9m-3 5h9m-1 0h9m12-3h9m6-3h9m41 7h9m-654 7h9m11 2h9m22-2h9m7-1h9m0-2h9m-3 3h9m-6 1h9m0 0h9m-9-3h9m-5 3h9m-6-5h9m-8 7h9m-6-6h9m-8 6h9m-7-1h9m-9-3h9m-6 2h9m-7 4h9m-8-2h9m-8-2h9m-9 0h9m-8 1h9m-9 2h9m-8 0h9m-4-8h9m-8 9h9m-9-6h9m-8-3h9m-9 9h9m-7-9h9m-8 7h9m-9-6h9m-7 2h9m-5 4h9m-8-4h9m-9 1h9m-8 3h9m-8-1h9m-9 3h9m-7 0h9m-5-2h9m-8 1h9m-8-2h9m-7-2h9m-8 6h9m-8-7h9m-7 1h9m-8 1h9m-8 3h9m-9-2h9m-6 4h9m-9 0h9m-8-8h9m-8 7h9m-9-6h9m-7-1h9m-4 7h9m-5-1h9m-9-3h9m-7 1h9m-7-1h9m-7 3h9m-4-4h9m-5 3h9m-8-4h9m-7 4h9m-9 1h9m-8 0h9m-8-6h9m-8 3h9m-7 0h9m-8-4h9m-5 6h9m-9 0h9m-7-4h9m-8 0h9m-7 1h9m-8-1h9m-9-2h9m-8 1h9m-8 2h9m-7 3h9m-8 0h9m2-5h9m-5 7h9m-6-6h9m-5 5h9m-4 1h9m-8-3h9m-8 2h9m-3-2h9m-8-5h9m-4 0h9m-8 4h9m-4 2h9m-7 1h9m3-1h9m-8-3h9m7-1h9m-2 3h9m-8 4h9m15-6h9m93-3h9m58 4h9m-7-1h9m-8 2h9m-6-6h9m-6 4h9m-9 1h9m23 2h9m19-5h9m32 0h9m43 0h9m196 0h9m-882 16h9m9-3h9m7-3h9m10 7h9m-6-3h9m-6-1h9m-6-3h9m-6 0h9m3-2h9m-2 4h9m-7 3h9m6 1h9m-7-5h9m2-1h9m-8 1h9m-4 3h9m-7-5h9m-6 3h9m-6 6h9m-9 0h9m-7-2h9m-2-4h9m-6 1h9m-7-3h9m-8 7h9m-9-1h9m-9-2h9m-7-2h9m-8 4h9m-9 1h9m-6-6h9m-8 6h9m-9-6h9m-6 6h9m-5-4h9m-8 2h9m-8-5h9m-8 1h9m-8 6h9m-9-2h9m-8-2h9m-6 4h9m-9 0h9m-8-1h9m-9-5h9m-7 1h9m-7-2h9m-8 0h9m-8 0h9m-6 3h9m-8 1h9m-8-4h9m-8-2h9m-6 5h9m-6 1h9m-6 2h9m-8-5h9m-9 5h9m-9 2h9m-8 0h9m-6-3h9m-4 1h9m-6-1h9m-8 1h9m-9 1h9m-8-8h9m-8 8h9m-8-5h9m-8 4h9m-9 1h9m-9-8h9m-8 3h9m-4 5h9m-3-7h9m-8 6h9m-6-6h9m-8 5h9m-8 0h9m-4-3h9m-6 0h9m-5-2h9m5 5h9m-7 1h9m-6-4h9m-7 0h9m3 2h9m-8-3h9m-6-2h9m-3 1h9m-7 7h9m-3-8h9m-8 6h9m-2 0h9m-8-4h9m-1 5h9m-6-3h9m7 3h9m20-4h9m1-4h9m39 0h9m-4 6h9m7-5h9m36 5h9m10-2h9m-4 5h9m17-8h9m2 6h9m9 0h9m-8 1h9m-6-6h9m3 5h9m-2 2h9m9-8h9m26 6h9m3-6h9m50 4h9m3-1h9m34-2h9m140 3h9m-946 6h9m0 2h9m11 4h9m-8-2h9m-4 0h9m20-2h9m-4 0h9m4 2h9m2-3h9m-3 8h9m-7-7h9m1 0h9m-4-1h9m5 0h9m-7 8h9m-8-5h9m-1-5h9m-6 6h9m-8-1h9m-7 0h9m-2 1h9m-8 3h9m-7-9h9m-6 5h9m-8 1h9m-8-4h9m-7 7h9m-6-2h9m-3-6h9m-8 6h9m-9-4h9m-2 3h9m-6-2h9m-9-4h9m-9 9h9m-8 1h9m-6-5h9m-5 0h9m-7 2h9m0-4h9m-8 4h9m-9-3h9m-7 0h9m-7-2h9m-9-2h9m-7 6h9m-9 3h9m-6-6h9m-8 5h9m-8-2h9m-9 1h9m-8-4h9m-9 1h9m-8 1h9m-9 1h9m-8 2h9m-7-2h9m-4-1h9m-5 4h9m-7-7h9m-9 7h9m-6-9h9m-9 8h9m-9-5h9m-9 3h9m-9-6h9m-9 8h9m-8-2h9m-9-5h9m-8 3h9m-9 2h9m-4 4h9m-5-6h9m-6 3h9m-9-7h9m-7 8h9m-8-2h9m-7 3h9m-6-6h9m-3 1h9m-8 0h9m-7 0h9m-8 4h9m-6-4h9m-6 4h9m-7 0h9m-9-2h9m-8 0h9m-4 2h9m-9 1h9m-9-2h9m-5-2h9m-8-5h9m5 7h9m-9-1h9m-6 0h9m2-2h9m-2 0h9m-5 3h9m0 2h9m33-3h9m37-6h9m46 4h9m-8 5h9m5-6h9m4 0h9m7-1h9m2-2h9m-2 4h9m15 3h9m-7 0h9m-3-5h9m-9 1h9m-5 7h9m9-3h9m-5-3h9m7-1h9m-2 1h9m-5 3h9m10-3h9m-9-2h9m-5 6h9m29-4h9m85-2h9m-2 6h9m-756 6h9m-5-3h9m-6 6h9m9-1h9m6-2h9m-1-1h9m-8 6h9m-5-4h9m-7 1h9m15 0h9m-3-2h9m6-1h9m-9 0h9m-6 3h9m-6-2h9m-8-4h9m-6 0h9m-8 9h9m-8-6h9m-9 0h9m-7-2h9m-6 2h9m-8-1h9m-9 1h9m-8 2h9m-6-1h9m-9 4h9m-8-2h9m-6 3h9m-2-6h9m-2 3h9m-5-4h9m-9 8h9m-7-4h9m-9 2h9m-8-3h9m-7 4h9m-8-4h9m-4 1h9m-9-1h9m-8 2h9m-9 2h9m-8-3h9m-7 0h9m-7 4h9m-9-3h9m-7-7h9m-8 7h9m-8-7h9m-9 8h9m-9-5h9m-5-1h9m-7 5h9m-8-2h9m-9 4h9m-9-1h9m-8-6h9m-7 2h9m-9 2h9m-7 3h9m-8-1h9m-9 1h9m-7-4h9m-7-2h9m-9 0h9m-9-3h9m-7 2h9m-8 7h9m-8-3h9m-6-4h9m-9 8h9m-6-2h9m-7-8h9m-8 0h9m-9 1h9m-7 4h9m-6 0h9m-8 5h9m-7-8h9m1 2h9m-9-2h9m-7 5h9m-5 2h9m-9-6h9m-8 6h9m-8-7h9m-8 4h9m-7-3h9m-7 4h9m-8-5h9m-6 7h9m-2-7h9m-7 2h9m-8-1h9m-7 1h9m-8 3h9m-2-3h9m-8 4h9m-5 0h9m-6-3h9m-7 0h9m-6 0h9m-6 1h9m-6 0h9m-2-3h9m-8 2h9m-6-3h9m-8 8h9m0-9h9m5 4h9m24-4h9m4 5h9m6 1h9m34 1h9m36-2h9m-8 0h9m5 3h9m13-8h9m-2 1h9m-9 3h9m-7-3h9m9 1h9m5-2h9m8 8h9m8-2h9m-9-2h9m5 4h9m-3-5h9m1-1h9m19-1h9m-625 9h9m1 6h9m12-7h9m17 4h9m0 6h9m-4-5h9m2-3h9m-1 8h9m-2-6h9m-7 0h9m-2-4h9m-8 3h9m-7 1h9m-5 5h9m-8-9h9m-9 5h9m-7-3h9m-7 6h9m-9-5h9m-3 1h9m-3 3h9m-7 1h9m-9-6h9m-6 4h9m-6-4h9m-8 2h9m-7 0h9m-9 2h9m-8-1h9m-8-1h9m-8 4h9m-9-6h9m-3 0h9m-9 6h9m-6-6h9m-7 1h9m-6 0h9m-7 4h9m-8-6h9m-8 4h9m-7 4h9m-9-5h9m-8 0h9m-9 3h9m-8-2h9m-8 4h9m-7-8h9m-6 0h9m-8 2h9m-7 3h9m-9-4h9m-9-1h9m-8 1h9m-5 7h9m-8-9h9m-8 9h9m-9-3h9m-8 4h9m-8-3h9m-9 2h9m-9-2h9m-8 3h9m-9-2h9m-8-4h9m-9 2h9m-9 0h9m-5-2h9m-9 5h9m-9-8h9m-8 7h9m-8-3h9m-8-4h9m-7 2h9m-7-2h9m-5 9h9m-8-4h9m-9 2h9m-8-8h9m-8 3h9m-9 3h9m-9-3h9m-7 6h9m-8-6h9m-9 5h9m-8 0h9m-9-3h9m-7 4h9m-7 1h9m-3-3h9m-9-4h9m-8-3h9m-9 9h9m-9-8h9m-9 6h9m-8 2h9m-8 0h9m-4-8h9m-7 0h9m-7 8h9m-6-1h9m-7-7h9m-6-1h9m-4 7h9m-6-2h9m-5-1h9m-6-3h9m-8 9h9m-8-10h9m-8 0h9m-3 4h9m-6 4h9m-7-5h9m-2 1h9m-7-4h9m-7 6h9m2-5h9m4 5h9m-3-5h9m-8-1h9m101 9h9m-9-3h9m3-5h9m21 7h9m2-2h9m-7-6h9m-4 9h9m-7-4h9m-5 4h9m-9-7h9m30 3h9m-9-1h9m-5-4h9m8 9h9m-3-3h9m17 0h9m11-5h9m41 1h9m-6 4h9m30 4h9m97 0h9m-839 2h9m26 6h9m8 0h9m1-2h9m18-5h9m-1 4h9m-9-3h9m-8 6h9m4-6h9m-9 6h9m-8 1h9m-9-7h9m-7-2h9m-8 4h9m-6 0h9m-6-3h9m-7 1h9m-6 1h9m-4-1h9m-9 6h9m-5 1h9m-8-6h9m-7 5h9m-8-2h9m-4 3h9m-4-8h9m-9 6h9m-8 1h9m-9-1h9m-9 1h9m-8-3h9m-8-1h9m-8 4h9m-7-2h9m-9 1h9m-7 3h9m-6-6h9m-8 4h9m-9-3h9m-8-2h9m-9-2h9m-8 6h9m-8 2h9m-8 0h9m-7 1h9m-8-3h9m-8-3h9m-9 3h9m-7-1h9m-6 2h9m-7-3h9m-8-4h9m-9 8h9m-9-3h9m-8-4h9m-8 6h9m-6 1h9m-8-8h9m-5 4h9m-8 1h9m-9-5h9m-8 0h9m-9 7h9m-9-2h9m-8 2h9m-7 0h9m-8-3h9m-8-2h9m-8 4h9m-9-3h9m-9-4h9m-7 7h9m-8 2h9m-6-4h9m-8-1h9m-8 5h9m-9-5h9m-8-4h9m-7 1h9m-8 1h9m-9 3h9m-7 1h9m-9-1h9m-9-1h9m-7-1h9m-8 7h9m-7-9h9m-7 5h9m-8 0h9m-9 2h9m-7-5h9m-8 1h9m-9 4h9m-7-4h9m-8 4h9m-9-7h9m-8 8h9m-8-2h9m-7 0h9m-8 1h9m-8 0h9m-6 2h9m-9-7h9m-8-1h9m-9 1h9m-8 3h9m-4 2h9m-8 0h9m-8-3h9m-8-3h9m-7 4h9m-7-1h9m-9 1h9m-3 4h9m-6-8h9m-7 1h9m-8 3h9m-8 2h9m-8-8h9m-7 1h9m-5 6h9m-8 1h9m-9-6h9m-5 2h9m-9 0h9m-7 4h9m-8-4h9m-6 5h9m-8-8h9m-7 3h9m3-4h9m-9 9h9m1-5h9m-7 5h9m11-6h9m-4 1h9m7-3h9m21 7h9m-1-4h9m-7 3h9m-3 2h9m35-5h9m44 3h9m-2-5h9m-5 7h9m-3-5h9m16 4h9m-6-7h9m-9 7h9m1-1h9m-7-5h9m-9 1h9m-1 5h9m-8-7h9m3 7h9m26 0h9m-3-7h9m26 4h9m92 2h9m-740 6h9m-5 7h9m-4-5h9m18-2h9m5 1h9m-1 3h9m13-6h9m8 0h9m-9 5h9m-2-2h9m-9-1h9m-9 2h9m-3 4h9m-8-9h9m-7 4h9m-4-1h9m-8 1h9m-7 4h9m1 1h9m-3-5h9m-7-3h9m-7 3h9m-6-3h9m-9 0h9m-6 4h9m-9 1h9m-8 1h9m-6 2h9m-6-8h9m-8 7h9m-9-6h9m-7 4h9m-7-3h9m-4-2h9m-7 1h9m-9-1h9m-8 2h9m-8-2h9m-2 0h9m-8 7h9m-6-7h9m-8 2h9m-4 5h9m-9 0h9m-8-8h9m-5 3h9m-9 1h9m-6 4h9m-9 1h9m-7-4h9m-9-1h9m-8 1h9m-7-5h9m-8 7h9m-7 2h9m-9 1h9m-8-5h9m-9-3h9m-8 3h9m-6-5h9m-8 4h9m-7 0h9m-9 4h9m-6-4h9m-8 1h9m-8-1h9m-9 5h9m-8-3h9m-9-4h9m-8 5h9m-7-1h9m-4-3h9m-7 3h9m-9-2h9m-8 5h9m-7-1h9m-8 1h9m-7-6h9m-8 4h9m-8-2h9m-8 4h9m-9 0h9m-8-9h9m-8 9h9m-5-1h9m-8-6h9m-8-2h9m-8 6h9m-7 0h9m-5 2h9m-7-7h9m-9 1h9m-7 4h9m-6-4h9m-6 3h9m-9 3h9m-6-3h9m-9-4h9m-8 4h9m-8-2h9m-7-3h9m-9 7h9m-7-3h9m-8-1h9m-8 4h9m-9-5h9m-8 2h9m-5 5h9m-9-3h9m-5-4h9m-9 0h9m-5 1h9m-5 6h9m-9-2h9m-5-3h9m-8 6h9m-1-2h9m-3-5h9m-3-1h9m-4 8h9m-9-9h9m-8 2h9m-1 0h9m-7 4h9m-1-1h9m-8 0h9m-2 1h9m0-1h9m-5 4h9m29-5h9m98 2h9m-4-6h9m5 8h9m-9-5h9m16 3h9m19-6h9m210 2h9m-813 10h9m37 1h9m16-1h9m10 2h9m-5 3h9m-8-1h9m0-2h9m-6 5h9m-8-3h9m-9 2h9m-8 0h9m-3-5h9m-5 4h9m-3 1h9m-6-6h9m-2 3h9m-9-4h9m-7 3h9m-9-5h9m-8 10h9m-5-8h9m-9 6h9m-9 1h9m-6-3h9m-9 2h9m-7 1h9m-5-8h9m-7 8h9m-9-8h9m-5 8h9m-9-7h9m-8 6h9m-9 2h9m-8-2h9m-9-8h9m-9 7h9m-8-6h9m-8 3h9m-9-3h9m-7 4h9m-8-2h9m-8 2h9m-9-3h9m-8-2h9m-7 2h9m-9 0h9m-6 3h9m-8 4h9m-8-1h9m-4-2h9m-7-3h9m-9 3h9m-6 3h9m-4-6h9m-9-3h9m-6 3h9m-8-3h9m-9 4h9m-7 0h9m-9 0h9m-9-3h9m-8 1h9m-9 0h9m-9 1h9m-7 6h9m-9-4h9m-8 1h9m-8-4h9m-8 2h9m-9-2h9m-8 6h9m-8-2h9m-9-6h9m-8 3h9m-9 4h9m-9 2h9m-7 1h9m-9-1h9m-8 1h9m-9 0h9m-4-9h9m-8 8h9m-9-2h9m-9-6h9m-8 5h9m-9-6h9m-8 4h9m-8-4h9m-8 8h9m-7-5h9m-9 6h9m-8 0h9m-8-8h9m-8 0h9m-9 8h9m-8-4h9m-9 1h9m-8 0h9m-8-4h9m-8 7h9m-9-5h9m-8 0h9m-8 3h9m-7-6h9m-7 9h9m-9-5h9m-9 5h9m-9-6h9m-8-2h9m-8 2h9m-9 4h9m-9-3h9m-7-2h9m-4-2h9m-9 2h9m-9 3h9m-8 0h9m-8-4h9m-9 2h9m-8-2h9m-6 2h9m-8-1h9m-7-2h9m-8 8h9m-8-3h9m-5-3h9m-9 2h9m-7 1h9m-5-2h9m-7-3h9m-9 8h9m-8-3h9m-7 0h9m1 2h9m-6-3h9m-7 4h9m-4-7h9m-7 0h9m-2 5h9m-1-3h9m-8-3h9m-9 7h9m-7-3h9m-4-5h9m12 10h9m-6-2h9m7-5h9m-4-1h9m22 1h9m66 3h9m29 1h9m-5 1h9m4 2h9m17-3h9m7-6h9m-6 0h9m0 8h9m3-8h9m-2 6h9m-1 0h9m5-7h9m276 9h9m-920 9h9m0-1h9m22-2h9m27 2h9m-5-5h9m13 5h9m14-4h9m-9 2h9m-5 2h9m0-2h9m-8-1h9m-7 2h9m-3-3h9m-7 5h9m-6-8h9m-9 6h9m-2 1h9m-4 0h9m-9-5h9m-7 6h9m-6-4h9m-9 2h9m-5 1h9m-8-5h9m-9 5h9m-6 3h9m-7-8h9m-7 7h9m-8-7h9m-8 1h9m-6 5h9m-4 1h9m-8 0h9m-9-9h9m-6 4h9m-5 2h9m-9 1h9m-7 2h9m-9-9h9m-6 1h9m-5 8h9m-9-2h9m-9-3h9m-8 2h9m-8-3h9m-7 0h9m-9-1h9m-9 2h9m-8 2h9m-9-3h9m-8 2h9m-9 3h9m-7-7h9m-8 1h9m-9 5h9m-8 1h9m-9-1h9m-9-5h9m-8 7h9m-9-8h9m-7 0h9m-9 6h9m-8-2h9m-6-2h9m-9 3h9m-8-1h9m-9 2h9m-7 3h9m-9-5h9m-7 5h9m-8-6h9m-8-1h9m-2 2h9m-8 5h9m-8-6h9m-7 6h9m-9-6h9m-8-1h9m-8 5h9m-8-3h9m-7 2h9m-8-5h9m-8 3h9m-8 2h9m-9 1h9m-8 0h9m-7-8h9m-9 7h9m-9-1h9m-5 3h9m-9-6h9m-8 7h9m-8-8h9m-7-2h9m-9 1h9m-4 3h9m-8 2h9m-7 1h9m-7-5h9m-8 1h9m-8 0h9m-4-1h9m-9 3h9m-8 1h9m-9 1h9m-9-2h9m-8 3h9m-7-2h9m-9-1h9m-6 3h9m-8 0h9m-6-1h9m-5-3h9m-8-1h9m-9 2h9m-6 1h9m-5 4h9m-8-6h9m-6 1h9m-7-3h9m-7-2h9m-9 5h9m-1 3h9m-9 2h9m-2-3h9m-8-1h9m-7-5h9m-4 3h9m-9 6h9m2-8h9m15 2h9m22 3h9m11-1h9m-6-3h9m14 6h9m-2-4h9m-3 3h9m0-8h9m13 0h9m-2 8h9m4-5h9m2-3h9m37 9h9m143-7h9m68-1h9m-748 18h9m20-8h9m12 9h9m4-1h9m-8 0h9m-2 1h9m-7 0h9m-6-10h9m-9 1h9m-5-1h9m-9 6h9m-9 3h9m-7-2h9m-3 1h9m-8-5h9m-6 7h9m3-1h9m-5 0h9m-8-6h9m-5 1h9m-7-3h9m-8 4h9m-7 2h9m-9 0h9m-7-6h9m-9 4h9m-9 0h9m-8-2h9m-9 6h9m-7-4h9m-8 2h9m-7 3h9m-8-10h9m-8 9h9m-9-1h9m-8-4h9m-7 3h9m-9-4h9m-9 2h9m-4 0h9m-8-2h9m-9 3h9m-8-2h9m-8 0h9m-7-3h9m-8 7h9m-8-2h9m-9-6h9m-8 8h9m-8-4h9m-8 4h9m-2-6h9m-8 6h9m-9-5h9m-8-1h9m-8 7h9m-8 0h9m-8-8h9m-9 2h9m-9-2h9m-8 8h9m-8-6h9m-9 0h9m-8 3h9m-8-4h9m-8 3h9m-7 4h9m-8-4h9m-6-4h9m-7 8h9m-7-8h9m-9 4h9m-8 2h9m-9-3h9m-9 0h9m-8-2h9m-9 0h9m-8 3h9m-6-1h9m-9 3h9m-9-4h9m-5 6h9m-9-9h9m-8 1h9m-9 4h9m-7 1h9m-6 2h9m-8-6h9m-8-1h9m-7-1h9m-9 9h9m-5-6h9m-9-2h9m-9 9h9m-7-3h9m-9-2h9m-7-3h9m-9 0h9m-9 7h9m-8-5h9m-4 1h9m-8 1h9m-9 2h9m-6-5h9m-8 3h9m-8 2h9m-6-7h9m-8 8h9m-7 1h9m-7-9h9m1 8h9m-7 1h9m-5-8h9m-6 4h9m-6-3h9m-8-1h9m-2 4h9m-8-3h9m-1 7h9m-9-4h9m-8-1h9m-7 5h9m-2-1h9m8-7h9m-8 0h9m1 5h9m-9 2h9m20-1h9m-7 1h9m135-4h9m12-4h9m19 9h9m9-6h9m-2 5h9m-6-5h9m299 6h9m-903 1h9m12 6h9m-2-4h9m26 7h9m7-1h9m-5-4h9m-6 1h9m-3-1h9m-8-3h9m-3 7h9m-7-3h9m-9 1h9m-6-2h9m-4 2h9m-8 1h9m-8-3h9m-7 0h9m-5 1h9m-7 1h9m3 1h9m-4-4h9m-9 2h9m-7 1h9m-7-4h9m-8 5h9m-6-3h9m-7-2h9m-8 6h9m-8-5h9m-9 4h9m-7 0h9m-9-1h9m-7 2h9m-5-9h9m-8 6h9m-7-4h9m-8 2h9m-8 4h9m-8-1h9m-7-2h9m-9 5h9m-8-1h9m-5-7h9m-7 5h9m-6-7h9m-9 3h9m-8-1h9m-7 8h9m-9-3h9m-8 0h9m-9 0h9m-7-4h9m-6 1h9m-2 2h9m-9-3h9m-6-2h9m-7 4h9m-8-2h9m-7-2h9m-8 2h9m-9-1h9m-9 4h9m-8-4h9m-8-1h9m-8 1h9m-9 4h9m-4-1h9m-8-2h9m-6 2h9m-6 3h9m-8-3h9m-9-1h9m-9 0h9m-9 1h9m-5 3h9m-8 0h9m-8-5h9m-9 6h9m-7-7h9m-5 4h9m-9 1h9m-6 2h9m-8-3h9m-7-4h9m-8 7h9m-8-2h9m-8-6h9m-8 0h9m-9 3h9m-8 1h9m-3-4h9m-7 6h9m-6-6h9m-6 3h9m-7-2h9m-7 0h9m-9 2h9m-8 4h9m-5-3h9m-9-5h9m-5 4h9m3 5h9m2-3h9m-8-6h9m-2 3h9m-8 6h9m-1-6h9m3 3h9m-7 1h9m-8-7h9m0 9h9m2-6h9m-2 4h9m9 0h9m47 1h9m30-6h9m27 0h9m0 2h9m-5-3h9m13 1h9m14 0h9m4 4h9m95-1h9m146 4h9m-851 6h9m6 2h9m45 1h9m-4-2h9m-3 2h9m5-8h9m-9 4h9m-1-2h9m0 4h9m-1 1h9m-3-4h9m-1-1h9m-7 4h9m-6 2h9m-8-6h9m-5 3h9m-9-3h9m-8 2h9m0-4h9m-4 5h9m-6-1h9m-9 6h9m-7-4h9m-3-2h9m-4 0h9m-7 5h9m-4-2h9m-9-6h9m-3 7h9m-8 0h9m-8-3h9m-9 4h9m-9-9h9m-8 9h9m-8 0h9m-8-7h9m-8-2h9m-7 1h9m-8 6h9m-5-3h9m-7 1h9m-9-4h9m-9 4h9m-6-5h9m-8 6h9m-6-1h9m-7-5h9m-7 9h9m-8-3h9m-8-1h9m-7 3h9m-9-2h9m-8 0h9m-8-6h9m-9 9h9m-8-6h9m-7 3h9m-8-3h9m-6 2h9m-8 4h9m-8-2h9m-8-1h9m-8 1h9m-6-6h9m-8 4h9m-8 2h9m-8 1h9m-9 1h9m-6-1h9m-6-6h9m-8-1h9m-8 7h9m-6-5h9m-9-1h9m-8 1h9m-6 3h9m-7-2h9m-5-1h9m-8 7h9m-7-9h9m-8 2h9m-9-1h9m-5-1h9m-9 9h9m-6-3h9m-6-1h9m-8 3h9m-5 1h9m-8-9h9m-7 1h9m-8 3h9m-8 0h9m-9 4h9m-5-9h9m-5 9h9m-6-1h9m1-2h9m-3 0h9m-9 0h9m3-3h9m-5 0h9m-6 6h9m18-2h9m-1-4h9m-9 3h9m114-6h9m18 6h9m21 3h9m97-3h9m-630 13h9m36-1h9m-7-7h9m-6 5h9m2-2h9m-7 0h9m2 6h9m-7-8h9m-1 7h9m6-3h9m4 1h9m-9-6h9m1 9h9m-6-6h9m-9 5h9m-5-1h9m-9-5h9m-5 7h9m-7-9h9m-8 5h9m-8-5h9m-3 7h9m-8-2h9m-8 1h9m2-3h9m-7 1h9m-8-4h9m-9-1h9m-8 6h9m-7 3h9m-8-3h9m-9 0h9m-6-5h9m-8 2h9m-4 3h9m-8 3h9m-7-3h9m-1-1h9m-9 5h9m-7-1h9m-9-7h9m-8 7h9m-8-9h9m-9 10h9m-9-3h9m-6 1h9m-4-5h9m-7-2h9m-8 0h9m-6 1h9m-8 2h9m-6 5h9m-6-7h9m-6 5h9m-9-3h9m-7 2h9m-2-4h9m-8-1h9m-9 8h9m-2-1h9m-7-6h9m-8 6h9m-2-5h9m8-2h9m-5 8h9m-7-8h9m-2 7h9m-8-2h9m-7-2h9m-9 2h9m-6-5h9m6-1h9m0 8h9m-6-4h9m-7 3h9m0-7h9m2 1h9m-8 0h9m-6 0h9m22 3h9m65-1h9m0 0h9m-4-2h9m-9 3h9m49-1h9m-8 1h9m14-2h9m15 7h9m265-3h9m-797 7h9m-7 4h9m21-4h9m0 6h9m-1 1h9m6-7h9m-7 0h9m-8 7h9m2-5h9m-9-2h9m-8-2h9m-6 2h9m-9-2h9m-7 6h9m-8 2h9m-9-7h9m-9 1h9m-7 5h9m-4-2h9m-8-4h9m-7 1h9m-4 0h9m-5 3h9m-3-1h9m-8 0h9m-5-3h9m-9-1h9m-9 1h9m-7 5h9m-5 2h9m-7-5h9m-9-2h9m-7 6h9m-7-4h9m-3 1h9m-8 1h9m-8 0h9m-8-1h9m-5 2h9m-7 3h9m-9-4h9m-8-4h9m-9 6h9m-4 1h9m-6-5h9m-6-2h9m-9-1h9m-8-1h9m-8 8h9m-4-1h9m-8-6h9m-8-1h9m-9 4h9m-8 4h9m-9-7h9m-6 4h9m-8 3h9m-8-1h9m-6 2h9m-4-3h9m-7-2h9m-8 5h9m-8-7h9m-5 8h9m-9 0h9m-7-9h9m-8 4h9m-9-4h9m-8-1h9m-8 5h9m-8 1h9m-2-5h9m-6 4h9m-5-4h9m-7-1h9m-9 8h9m-8-5h9m-9 5h9m-8-3h9m-6 4h9m5-6h9m8 3h9m12-5h9m-1 2h9m-5 1h9m-8 6h9m8-3h9m-6-1h9m-3-2h9m-5 4h9m20-3h9m52-3h9m-8 1h9m17 7h9m12-5h9m6 4h9m4 0h9m35-7h9m-4 3h9m-6 2h9m25-3h9m237-2h9m-860 11h9m38-3h9m-1 10h9m1-4h9m-5-4h9m-6 5h9m-7-5h9m8 6h9m-5-1h9m-2-2h9m6 4h9m-2-7h9m-7 8h9m-8-2h9m-7-3h9m3-5h9m-6 9h9m-8-4h9m-2-4h9m-4 9h9m1-9h9m-4-1h9m-2 10h9m-7-3h9m-6-3h9m-6-3h9m-8 8h9m-6-4h9m-8-3h9m-6 6h9m-9 2h9m-6-9h9m-7 1h9m-6 1h9m-9 2h9m-9 1h9m-8 0h9m-6 4h9m-7-7h9m-8 5h9m-8-3h9m-7 3h9m-6-3h9m-4 0h9m-6-3h9m-9 7h9m-4-9h9m-9 6h9m-7 2h9m-8 0h9m-8-4h9m-7 1h9m-8 5h9m-5-7h9m-6 4h9m-7 1h9m3-5h9m-5-3h9m8 5h9m-7-3h9m-8 1h9m4 1h9m-7 1h9m-7 1h9m0 1h9m-9-2h9m-8 0h9m-8 3h9m8 0h9m59-3h9m45-1h9m-2 0h9m16-3h9m4 3h9m28-4h9m5 5h9m-7 2h9m34-1h9m0 0h9m35 2h9m-633 10h9m-4-4h9m8 3h9m3-7h9m15 6h9m28 2h9m0-2h9m-9-1h9m-4 1h9m10 4h9m-2-9h9m-9 6h9m-7-5h9m0 3h9m-7-2h9m-2 2h9m-7-4h9m-8-1h9m-5 9h9m-5-3h9m-9-4h9m-6 5h9m-9-3h9m-6 3h9m-8-5h9m-7 3h9m-7-3h9m-8 1h9m-7 5h9m-7 1h9m-9-6h9m-4 4h9m-6 0h9m-7 1h9m-5-3h9m-9 0h9m-8 3h9m-9-4h9m-6 2h9m-4-3h9m-8 4h9m-7 1h9m1 0h9m-6 2h9m-9-2h9m-8-6h9m-9 1h9m-6-2h9m-9-1h9m-4 7h9m-6-3h9m-6 5h9m-9-2h9m-4 0h9m-8 2h9m-8-1h9m-5 1h9m-7-1h9m5-2h9m-7-2h9m-4 0h9m-3 4h9m-4 2h9m-8-8h9m-8 3h9m-5 2h9m-6 0h9m6-3h9m-6 1h9m-8-3h9m-1 7h9m-6-1h9m10 2h9m3-5h9m18 5h9m-9-4h9m2-3h9m8-2h9m16 0h9m18 1h9m-477 16h9m29-3h9m-3 4h9m0-1h9m11-1h9m-4 1h9m-4 1h9m-2-5h9m-3 1h9m-5 4h9m-8-4h9m-7-5h9m-7 1h9m3 6h9m-4 0h9m4 0h9m-7-2h9m-8-5h9m-4 6h9m-6 2h9m-7-5h9m-8-1h9m5 6h9m-1 1h9m-8-5h9m-6 4h9m-8-1h9m-7 0h9m-4-6h9m-9 2h9m-5 3h9m-6 1h9m9-5h9m-6 0h9m1-1h9m-7 8h9m0-7h9m-6 4h9m-9-3h9m-5-1h9m-3 3h9m-7 3h9m-9-5h9m12 3h9m-8-4h9m-8 7h9m-3 0h9m-7-6h9m-5 0h9m18 3h9m-8 4h9m-4-9h9m-8 7h9m-4-1h9m33 2h9m5-2h9m89-7h9m261 4h9m-713 10h9m-1 2h9m46 0h9m-8 0h9m-8 0h9m-8-4h9m-8 6h9m0 1h9m-7-2h9m-8-3h9m-1-3h9m-6 6h9m1-5h9m-5 5h9m-4-5h9m-9 5h9m-3-4h9m-7-2h9m-5 5h9m4-3h9m-7 6h9m-7-4h9m-7-3h9m-8-1h9m23-1h9m-3 2h9m-7 1h9m-7-3h9m-9 9h9m-7-8h9m-8 8h9m-7-7h9m-6 4h9m-6-5h9m-3 5h9m-7 3h9m-7 1h9m-4-1h9m-9-7h9m-9 3h9m-9 0h9m-3 1h9m-9-5h9m-8 3h9m-2-2h9m-6 8h9m-7-2h9m-7-6h9m-1 8h9m-9-1h9m-5-8h9m-1 7h9m16-7h9m15 4h9m64-5h9m1 8h9m25-2h9m19-6h9m102 5h9m87 0h9m51 0h9m52 5h9m-849 3h9m-5-2h9m59 7h9m7-5h9m-4 2h9m-6-4h9m10 0h9m3 9h9m-2-5h9m-9 2h9m20 2h9m-1-9h9m-3 4h9m-1 6h9m-1-3h9m-7-6h9m-9 9h9m-7-2h9m-8-6h9m-3-1h9m-8 9h9m-5-5h9m7 1h9m-8 3h9m-9-7h9m-4 0h9m-7 0h9m-9 1h9m-6 2h9m-1 2h9m-4 2h9m-6-5h9m0 6h9m0-4h9m-1-3h9m-4 4h9m-4 2h9m-8-3h9m-2-1h9m-3 2h9m-9 1h9m4-3h9m-7 4h9m-1-8h9m-6 4h9m-3 0h9m-8-4h9m7 9h9m35-8h9m37 8h9m94-6h9m82-2h9m-644 18h9m12-6h9m35 3h9m-4 0h9m-1-5h9m-5 2h9m33-1h9m-8 3h9m21-5h9m-7 3h9m3 5h9m-2-6h9m-1-2h9m-2 7h9m-8-6h9m-8 2h9m-4 5h9m-5-2h9m-5-1h9m-7-6h9m-7 6h9m-6 2h9m4-6h9m-4 5h9m-1-5h9m-8 8h9m-7-2h9m-9-5h9m-3-1h9m-9 2h9m0 1h9m-7 4h9m-7-2h9m-8-2h9m-5-1h9m-7-4h9m-2 2h9m-8 4h9m-7-5h9m-4-1h9m-1 7h9m-1-3h9m-3-1h9m-2 3h9m-7-1h9m-7 0h9m-1-3h9m-3 0h9m7 2h9m-4-1h9m-6 2h9m-6-3h9m2-1h9m-7 6h9m-5-1h9m-5 1h9m21 0h9m66 0h9m53-5h9m180 3h9m-725 12h9m0-5h9m3 4h9m36 1h9m12 0h9m9-5h9m-2 4h9m-8 3h9m0-4h9m-7 3h9m-5-1h9m-6 0h9m-7-6h9m-3 2h9m-1 5h9m1 1h9m-8-3h9m-6-6h9m-7 10h9m-6-4h9m3-5h9m9 4h9m-8-3h9m-9 7h9m-9-1h9m6-2h9m-4-5h9m-2 7h9m-9-7h9m-9 6h9m0-2h9m-8 5h9m-7-3h9m-6-7h9m-8 6h9m0-4h9m1 3h9m-3-2h9m-6 5h9m-6-6h9m-5-1h9m4 8h9m8-6h9m-6 6h9m-6-7h9m6-1h9m-7 4h9m-7-1h9m43 0h9m41-3h9m-418 17h9m15-7h9m74-1h9m7 10h9m4 0h9m-6-10h9m-5 7h9m20-7h9m-9 7h9m-3-3h9m4 5h9m-3-6h9m-5-2h9m-5 4h9m-3-4h9m-9 1h9m-5 5h9m-4-6h9m-7 6h9m-4-2h9m-9 4h9m-5 0h9m-8-3h9m-7 0h9m-7-1h9m1 4h9m2-3h9m-6-6h9m18 3h9m6 3h9m17-5h9m-302 17h9m-4-7h9m7 2h9m31 1h9m0-4h9m-1 3h9m0-3h9m-8 9h9m15-6h9m-7 5h9m-7-3h9m-6 3h9m6-5h9m-4-1h9m-3 7h9m-6-6h9m-2 5h9m-1-3h9m-7-3h9m-8-1h9m1 9h9m-7-9h9m-8 4h9m0-4h9m-7 0h9m7 1h9m24 7h9m-6-8h9m-7 1h9m12 7h9m-6-2h9m3-2h9m8-4h9m3 6h9m-4-7h9m172 7h9m12-7h9m200 5h9m-3 2h9m-5-1h9m34-3h9m-801 10h9m54 7h9m13-6h9m-4 3h9m-7-7h9m-1 7h9m-6 2h9m0-8h9m2 1h9m-7 5h9m5 3h9m-5-6h9m10-1h9m2 0h9m-5-2h9m-6 0h9m-6 1h9m-5 2h9m-8-3h9m-7 4h9m-9 3h9m-6-3h9m-8-1h9m-7 1h9m-6 3h9m-8-3h9m5 2h9m-6-7h9m-1 7h9m-4-3h9m-2 0h9m-8-3h9m61-1h9m2 7h9m97-5h9m64 6h9m107-4h9m-690 10h9m35 6h9m15-5h9m20 2h9m9-1h9m-6 1h9m-5 0h9m33-6h9m-5 5h9m15-1h9m-1 3h9m1-1h9m-7-7h9m-9 1h9m-2 2h9m0-1h9m-1 0h9m-6 6h9m-6-6h9m-2 0h9m-7 6h9m-8 1h9m-8-7h9m13 6h9m2-5h9m-8 5h9m13 2h9m58-6h9m22 0h9m62-2h9m-461 13h9m17 0h9m13-5h9m37 3h9m41 5h9m-3 1h9m-2-7h9m-6 7h9m7-8h9m-1-1h9m-6 4h9m3 1h9m5-4h9m-8 1h9m-2-1h9m-5 4h9m-9-2h9m1-1h9m-5 5h9m3-2h9m-5 0h9m1 4h9m43-6h9m26 5h9m220-7h9m281 3h9m-854 12h9m32 2h9m13-2h9m-5-5h9m79 3h9m40 5h9m-8-4h9m-7 4h9m3-8h9m13 6h9m-2-6h9m-9 2h9m14 3h9m90 1h9m76-5h9m10 4h9m277 0h9m41-2h9m-701 13h9m-1-3h9m-5-1h9m-2-2h9m-8 1h9m-1 1h9m26 6h9m30-9h9m2 3h9m-7 5h9m3-5h9m-8 3h9m13-5h9m24 8h9m4-2h9m18-6h9m14 5h9m255 1h9m162-3h9m-851 14h9m122 1h9m-7-3h9m-5-5h9m-5 0h9m8 1h9m3 0h9m37 5h9m2-4h9m18 0h9m11-1h9m20-1h9m3 2h9m3 0h9m27 7h9m-2-8h9m196 4h9m32 2h9m40-5h9m-4 4h9m209-5h9m5 6h9m-882 9h9m22-6h9m42 6h9m17-7h9m20 9h9m-2-5h9m-2 4h9m26 0h9m0-7h9m2 1h9m-9 0h9m113 5h9m23-6h9m13 0h9m4 7h9m3-4h9m171-1h9m-484 10h9m193 0h9" stroke="#1a1a1a" stroke-opacity="0.55" stroke-width="9" fill="none"/>
<rect x="32.6" y="473.8" width="97.70000000000002" height="91.49999999999994" fill="none" stroke="#555" stroke-width="0.9"/>
<line x1="79.4" y1="473.8" x2="79.4" y2="565.3" stroke="#333" stroke-width="1.3"/>
<line x1="32.6" y1="520.3" x2="130.3" y2="520.3" stroke="#333" stroke-width="1.3"/>
<rect x="24.6" y="473.1" width="4" height="1.4" fill="#bbb"/>
<line x1="30.1" y1="473.8" x2="32.6" y2="473.8" stroke="#888" stroke-width="0.6"/>
<rect x="24.6" y="495.975" width="4" height="1.4" fill="#bbb"/>
<line x1="30.1" y1="496.675" x2="32.6" y2="496.675" stroke="#888" stroke-width="0.6"/>
<rect x="24.6" y="518.8499999999999" width="4" height="1.4" fill="#bbb"/>
<line x1="30.1" y1="519.55" x2="32.6" y2="519.55" stroke="#888" stroke-width="0.6"/>
<rect x="24.6" y="541.7249999999999" width="4" height="1.4" fill="#bbb"/>
<line x1="30.1" y1="542.425" x2="32.6" y2="542.425" stroke="#888" stroke-width="0.6"/>
<rect x="55.025000000000006" y="569.5999999999999" width="4" height="1.4" fill="#c4c4c4"/>
<rect x="79.45000000000002" y="569.5999999999999" width="4" height="1.4" fill="#c4c4c4"/>
<rect x="103.875" y="569.5999999999999" width="4" height="1.4" fill="#c4c4c4"/>
<rect x="128.3" y="569.5999999999999" width="4" height="1.4" fill="#c4c4c4"/>
<path d="M31.2,473.8h1.4M31.2,476.7h1.4M31.2,479.5h1.4M31.2,482.4h1.4M31.2,485.2h1.4M31.2,488.1h1.4M31.2,491.0h1.4M31.2,493.8h1.4M31.2,496.7h1.4M31.2,499.5h1.4M31.2,502.4h1.4M31.2,505.3h1.4M31.2,508.1h1.4M31.2,511.0h1.4M31.2,513.8h1.4M31.2,516.7h1.4M31.2,519.5h1.4M31.2,522.4h1.4M31.2,525.3h1.4M31.2,528.1h1.4M31.2,531.0h1.4M31.2,533.8h1.4M31.2,536.7h1.4M31.2,539.6h1.4M31.2,542.4h1.4M31.2,545.3h1.4M31.2,548.1h1.4M31.2,551.0h1.4M31.2,553.9h1.4M31.2,556.7h1.4M31.2,559.6h1.4M31.2,562.4h1.4M31.2,565.3h1.4" stroke="#ccc" stroke-width="0.4"/>
<path d="M32.6,565.3v1.4M35.7,565.3v1.4M38.7,565.3v1.4M41.8,565.3v1.4M44.8,565.3v1.4M47.9,565.3v1.4M50.9,565.3v1.4M54.0,565.3v1.4M57.0,565.3v1.4M60.1,565.3v1.4M63.1,565.3v1.4M66.2,565.3v1.4M69.2,565.3v1.4M72.3,565.3v1.4M75.3,565.3v1.4M78.4,565.3v1.4M81.5,565.3v1.4M84.5,565.3v1.4M87.6,565.3v1.4M90.6,565.3v1.4M93.7,565.3v1.4M96.7,565.3v1.4M99.8,565.3v1.4M102.8,565.3v1.4M105.9,565.3v1.4M108.9,565.3v1.4M112.0,565.3v1.4M115.0,565.3v1.4M118.1,565.3v1.4M121.1,565.3v1.4M124.2,565.3v1.4M127.2,565.3v1.4M130.3,565.3v1.4" stroke="#ccc" stroke-width="0.4"/>
<rect x="33.9" y="475.20000000000005" width="3.6" height="2.4" fill="#999"/>
<rect x="80.7" y="475.20000000000005" width="3.6" height="2.4" fill="#999"/>
<rect x="33.9" y="521.6999999999999" width="3.6" height="2.4" fill="#999"/>
<rect x="80.7" y="521.6999999999999" width="3.6" height="2.4" fill="#999"/>
<path transform="scale(0.1)" d="M0 0m1060 6261h9m-628 13h9m643 2h9m104 12h9m-551 10h9m468 26h9m-122 9h9m-411 2h9m572 5h9m-627 10h9m518-5h9m-323 12h9m-23 12h9m114 1h9m-7 8h9m144 3h9m-161 10h9m152-1h9m-217 12h9m10-6h9m191 2h9m-177 14h9m-3-7h9m132 0h9m63 7h9m-198 10h9m-40 5h9m13 6h9m-6 1h9m13-3h9m162-4h9m-261 14h9m39-2h9m9 5h9m75-3h9m64-1h9m-262 14h9m-3-4h9m83 3h9m17-4h9m90 0h9m-4-2h9m-320 11h9m37 1h9m12-1h9m0 2h9m44 4h9m40 1h9m-6-8h9m54 4h9m-86 10h9m-5 0h9m13-4h9m71 6h9m0-3h9m27-3h9m152 7h9m-521 8h9m22-3h9m34-1h9m47 6h9m-2-5h9m1-2h9m9 1h9m12 4h9m-2-7h9m39 3h9m48 4h9m0-4h9m49 1h9m-706 10h9m436 5h9m21-2h9m33 3h9m-9-4h9m-8-3h9m5 4h9m-5 1h9m-7 2h9m7-2h9m12-3h9m11-4h9m12 2h9m9 7h9m2-4h9m-7 3h9m13-1h9m140 0h9m-413 5h9m11 6h9m19-2h9m-7-6h9m-5 0h9m-5 2h9m11 5h9m-7-2h9m-3-4h9m-3-1h9m3 3h9m7 1h9m-8 2h9m-6-1h9m6-4h9m3 5h9m-7-5h9m-1 6h9m-6-6h9m-2-1h9m-7 2h9m-7-3h9m-7 9h9m-1-7h9m-8 4h9m-6-1h9m-8 2h9m-8-2h9m-4 2h9m12 1h9m-413 2h9m221 10h9m6-2h9m15-7h9m-4 6h9m-4-2h9m-1-2h9m-5-1h9m-7 0h9m0 3h9m-7-2h9m-9 5h9m4-2h9m3-3h9m-3 2h9m-8-3h9m-2 0h9m28-2h9m8 3h9m-6 1h9m-6-2h9m-7 8h9m-3-5h9m53 2h9m6-5h9m-821 13h9m425 1h9m-3 2h9m52 0h9m26 0h9m-9-5h9m1 0h9m-1 2h9m-5-2h9m5-2h9m7 8h9m-3-4h9m-8 2h9m1-6h9m-8 0h9m-7 4h9m-5-1h9m5-3h9m9 6h9m-4-1h9m2-3h9m3 4h9m7-1h9m-4-5h9m-3 3h9m-7 4h9m-2-3h9m-3 0h9m-1 2h9m22-1h9m-4-6h9m-2 2h9m2 4h9m34-2h9m-6-2h9m66-1h9m-354 15h9m5 2h9m-2-3h9m3 4h9m1-3h9m1-1h9m-3-2h9m-5-2h9m0 2h9m-4 4h9m-2 2h9m-4-3h9m-3 0h9m0-5h9m6 5h9m4-1h9m-1 3h9m-7 1h9m-2-1h9m-4-2h9m3 2h9m0 1h9m-1-1h9m-4 2h9m-5-1h9m-1-6h9m-6-1h9m-4 1h9m-205 15h9m-8-6h9m-9 6h9m3 2h9m2-2h9m4-4h9m-6 2h9m5-4h9m-7 5h9m2 2h9m0 1h9m-8-3h9m-7 1h9m2 0h9m7 1h9m-6-7h9m7 0h9m-2 8h9m20-6h9m26 2h9m11-2h9m85-3h9m-379 11h9m34 8h9m-7-1h9m-5-1h9m19-3h9m-8 2h9m-3-5h9m1 7h9m7-5h9m8 1h9m-5-3h9m-5 8h9m-8-1h9m-5-7h9m-8 2h9m7 2h9m-6 1h9m-6-3h9m-9-1h9m-6 2h9m0 0h9m-3-2h9m10 4h9m45-2h9m-247 9h9m1 6h9m32-3h9m5-4h9m16 3h9m-8-2h9m-1 1h9m-2 1h9m-3-1h9m-8 4h9m1-4h9m-3 2h9m-6-2h9m2-2h9m-7 4h9m-5 3h9m-3-3h9m-5-2h9m-6-1h9m2 0h9m-3-1h9m-5 3h9m2 3h9m17-3h9m7-4h9m-2 4h9m56-2h9m-350 9h9m15 7h9m3-10h9m32 6h9m11 0h9m10-2h9m12-4h9m15 5h9m4 2h9m29-5h9m-8-1h9m-8 2h9m1 3h9m83-6h9m22 0h9m-845 16h9m505-2h9m-5 1h9m30-1h9m26 1h9m6 0h9m9-5h9m24 5h9m4-4h9m1 4h9m0 2h9m-8 2h9m24-6h9m-8 2h9m-5-5h9m15 1h9m-216 16h9m8-3h9m-4 0h9m17 6h9m14-4h9m-8-5h9m1 8h9m-3-9h9m-5 5h9m32 1h9m-1 1h9m-1-6h9m37 5h9m17-5h9m-5 6h9m-5-4h9m-4 6h9m-249 9h9m14-5h9m20 5h9m-4-7h9m23-1h9m32 2h9m-4 1h9m3-1h9m-8 8h9m-3-1h9m123-1h9m45 2h9m-277 0h9m46 2h9m25 6h9m19-6h9m-220 14h9m63-5h9m-4 3h9m-3 4h9m33-8h9m32 9h9m76-3h9m-155 9h9m14 1h9m20-2h9m-529 7h9m498 3h9m-7 4h9m5-1h9m36-2h9m-608 12h9m431 5h9m8 7h9m0-8h9m98 9h9m-706 4h9m254 3h9m66 9h9m283-4h9m-478 8h9m386 2h9m-538 13h9m828-4h9m-694 18h9m46-5h9m60 1h9m391-2h9m-4 2h9m-651 9h9m21 3h9m-4 0h9m120-1h9m26 3h9m37-4h9m24 4h9m56 0h9m247-2h9m-1-5h9m7 7h9m110-4h9m-765 5h9m62 10h9m5-9h9m-1 9h9m11-9h9m4 8h9m9-6h9m5 3h9m-9-4h9m7 3h9m271-5h9m18 7h9m1-6h9m123 7h9m19-4h9m1-1h9m7 3h9m-9-4h9m113 0h9m83 7h9m-8 0h9m-838 10h9m1-1h9m-8-7h9m19-1h9m17 4h9m-8 0h9m-2 2h9m1 2h9m5-1h9m43-4h9m47 1h9m62 6h9m-7-7h9m148-3h9m49 1h9m27 2h9m1 5h9m0 1h9m-3-7h9m8 3h9m-3-4h9m70 4h9m-739 8h9m5-2h9m52 1h9m-2-2h9m6 0h9m1 5h9m-8-4h9m5 8h9m16-7h9m-7 4h9m-6-1h9m5-3h9m13 3h9m72 3h9m89-4h9m139-4h9m8 2h9m3-2h9m30 10h9m0-2h9m-9-4h9m3-4h9m6 9h9m1-3h9m-5-3h9m9 5h9m-3 1h9m43 0h9m179-8h9m-921 14h9m19-3h9m-4 0h9m-1 8h9m-5-9h9m-7 8h9m11-7h9m11-2h9m-2 3h9m-7 6h9m14-5h9m-9 4h9m-8-2h9m18 0h9m-3 2h9m-6-7h9m-8 4h9m10 0h9m-3-1h9m5 1h9m-2 4h9m-6-6h9m3 7h9m15-9h9m43 2h9m9 3h9m195-1h9m98 4h9m-5-3h9m-1-5h9m-1 3h9m-8-3h9m-4 4h9m-2 2h9m8 0h9m6-2h9m-8 0h9m-6-2h9m10-1h9m-1 0h9m187-1h9m-870 10h9m8 4h9m12-2h9m6 6h9m18-4h9m-7 1h9m0-2h9m-7 2h9m-5-1h9m-8-1h9m-8-3h9m44 4h9m-7-1h9m-7 1h9m0 2h9m7 3h9m8-3h9m-5 2h9m-7 1h9m-1-4h9m-4-1h9m5-5h9m-6 9h9m132-4h9m99-1h9m48 3h9m4-6h9m-9 3h9m-2-1h9m-2-3h9m33 4h9m20-1h9m-722 14h9m-7 2h9m1-6h9m39-1h9m24 3h9m-6 4h9m9 1h9m8-10h9m-5 5h9m2-3h9m-8 0h9m0 2h9m-8 2h9m-1 1h9m-6-4h9m-9 3h9m-8-4h9m4 3h9m4 1h9m-6 1h9m-6 2h9m-8-3h9m-9-2h9m-8 3h9m-9-5h9m-7 5h9m-3 2h9m-4 0h9m-6 0h9m-2-5h9m-8-2h9m5 5h9m-5-4h9m9 5h9m14-8h9m2 3h9m37 3h9m73 0h9m60 3h9m-1-3h9m63 3h9m0-3h9m6-2h9m-7-3h9m-8 3h9m-3 4h9m-8-4h9m2-3h9m-7 6h9m4-6h9m-5 7h9m6-7h9m-4 0h9m-1 1h9m-8-1h9m2 7h9m-666 4h9m19 1h9m16 0h9m-2 5h9m37-1h9m2 0h9m-6 2h9m-8-1h9m-2-1h9m-1-5h9m-8-2h9m-6 9h9m-3-5h9m-6 5h9m-8 0h9m-4-6h9m-9-2h9m-9 5h9m-6-4h9m-7-2h9m-8 5h9m-3 1h9m-7 3h9m-1-8h9m-7 0h9m-6 8h9m9-7h9m-4 6h9m-1 1h9m-8-3h9m-8 2h9m-4 1h9m-4-7h9m-8 7h9m5 1h9m7-5h9m3-1h9m-3-1h9m6-1h9m-8 2h9m111 2h9m134-4h9m5 8h9m-6-3h9m21-1h9m0-4h9m38 4h9m52 3h9m-757 8h9m8 1h9m14 0h9m-2 2h9m16-7h9m-7-1h9m-2 0h9m-3 6h9m-5-4h9m5 2h9m1 1h9m-3-1h9m-1 0h9m1-5h9m9 6h9m-8-7h9m-7 4h9m-8 4h9m-8 1h9m-2-5h9m-8 1h9m-6-5h9m-8 8h9m-9 0h9m-9 0h9m0 1h9m-9-1h9m-8-1h9m-8-7h9m-6 7h9m-8-5h9m-7 5h9m-8-3h9m-8 6h9m-6-7h9m-9 2h9m-8 3h9m-6-4h9m-8 2h9m-7-1h9m-6 2h9m-4-1h9m-8-1h9m-8-2h9m-6 3h9m-8 0h9m-6 0h9m-8 3h9m-1-6h9m-5 6h9m-5-5h9m-8 4h9m-6 0h9m-9 2h9m-8-7h9m-8 4h9m-4-5h9m-4 8h9m-7-9h9m-6 1h9m10-1h9m13 8h9m-3-1h9m-6-7h9m0 0h9m-4 7h9m20-2h9m0-3h9m41 5h9m13-5h9m9-2h9m100 2h9m-5-2h9m5 0h9m3 0h9m-5 7h9m5-3h9m-8-4h9m-8-1h9m-8 6h9m-8-4h9m3 8h9m-2-2h9m2-2h9m-7-5h9m-3 2h9m-8 0h9m-9 3h9m0 2h9m8-2h9m2 1h9m-1 1h9m-1-8h9m-1 5h9m1 5h9m-4-3h9m-700 7h9m-8 6h9m17-7h9m11 6h9m-9-9h9m11 6h9m-5 3h9m-3-4h9m-9 2h9m-5-1h9m-8 4h9m-5-7h9m-8 0h9m-7-2h9m-7 6h9m-6-5h9m-8-1h9m-3 7h9m0-8h9m-8 8h9m0-5h9m-9-1h9m-9 1h9m-8 7h9m-6-3h9m-2-6h9m-8 0h9m-8 4h9m-8 1h9m-8-5h9m-9 2h9m-7-2h9m-9 5h9m-9 3h9m-4-5h9m-5 2h9m-5-3h9m-6 3h9m-8 1h9m-7-6h9m-7 0h9m-7 0h9m-1 0h9m-7-1h9m-7 0h9m-3 9h9m-9 0h9m-6-2h9m-9-2h9m-7-2h9m-8 2h9m-8 3h9m-7-1h9m-9-3h9m-8-4h9m-7 9h9m-4-7h9m-3 2h9m-9 0h9m-4 2h9m-2 3h9m-5-9h9m1 9h9m-8-9h9m-2 5h9m-7 2h9m-7 1h9m-5-6h9m15 4h9m-2 2h9m9-2h9m-1-2h9m22-1h9m88 6h9m29 0h9m7-6h9m0 1h9m55-4h9m-1 8h9m1-6h9m1 4h9m-8 2h9m-4-7h9m1 3h9m-8 4h9m-6-1h9m-7-5h9m-5 6h9m-7-6h9m-5-2h9m-2 2h9m-7 0h9m-7 2h9m-2 2h9m-9 3h9m-5-2h9m-8-6h9m9 1h9m0 7h9m2-5h9m1-1h9m52 6h9m21-3h9m-817 6h9m-7 0h9m-5 2h9m-3 4h9m13-2h9m5-1h9m-6 3h9m-2-6h9m-9 1h9m-1-3h9m-3 7h9m14-3h9m0 0h9m8 1h9m-1-1h9m-4-1h9m-8-2h9m-8 1h9m-6-2h9m-8 7h9m-2-4h9m-8 4h9m-4 3h9m-8-4h9m-7-6h9m-7 3h9m-7 0h9m-7 6h9m-5-3h9m-5 3h9m-7 1h9m-8-7h9m-3-1h9m-7 2h9m-3-4h9m-9 0h9m-5 4h9m-8 2h9m-9 2h9m-9-1h9m-6-5h9m-5 0h9m-9 2h9m-4-2h9m-8 8h9m-7 0h9m-5-8h9m-5 2h9m-7 5h9m-9-4h9m-8-3h9m-5 0h9m-3 0h9m-9 0h9m-1 0h9m-3 0h9m1 4h9m-8 0h9m-4-5h9m-9 4h9m-9 3h9m-8-6h9m-3 6h9m-9-7h9m-6 2h9m-5 1h9m-1 3h9m-3-5h9m-4 1h9m3-1h9m7 4h9m20 0h9m46 1h9m41-5h9m-7 2h9m55 1h9m-3 4h9m1 0h9m28 0h9m-7 0h9m-6-3h9m-1 3h9m-7 0h9m-6-4h9m-1-4h9m-9 2h9m-8-2h9m-6 3h9m-8 0h9m-9-1h9m-5 5h9m-9-5h9m-9-2h9m5 2h9m-8 5h9m11 1h9m-8-6h9m7-1h9m-9 4h9m-7-5h9m-6 4h9m11 4h9m17 0h9m5-8h9m106 7h9m91-3h9m0-2h9m-953 11h9m-1 0h9m-4-4h9m1 7h9m14-2h9m0-4h9m17 7h9m-9 1h9m7-9h9m-6 0h9m-7 8h9m-6-2h9m-9-5h9m-4 5h9m-6-6h9m-8 3h9m-1 6h9m-5 0h9m-9-4h9m-3 1h9m-5 4h9m-8-9h9m-8 8h9m-6-2h9m-5-1h9m-8-5h9m-7 3h9m-8-1h9m-9-3h9m-7 9h9m-8-6h9m-6 0h9m-3-2h9m-5 3h9m-9-3h9m-9 4h9m-7-3h9m-4 4h9m-8 4h9m-7-1h9m-7-8h9m-8 4h9m-6 1h9m-9 4h9m-6-5h9m-7-1h9m-9 0h9m-2-1h9m-6 1h9m-9-3h9m-6 7h9m-7-5h9m-8 5h9m-9 2h9m-8-8h9m-6-1h9m-8 1h9m-3 2h9m-1-1h9m-7-3h9m-8 4h9m-6-2h9m-8 2h9m-9 6h9m-8-7h9m4-1h9m-4-1h9m-9 2h9m-9 7h9m-2-2h9m-6-6h9m-8 4h9m0 2h9m-7 0h9m-6-7h9m-9 3h9m-7-2h9m12 6h9m-9 0h9m2 1h9m15-7h9m-1-1h9m8 7h9m55-8h9m60 7h9m-1 2h9m17-6h9m7 5h9m-3-6h9m-8 6h9m-6 1h9m-6-8h9m-4 9h9m7-8h9m0-1h9m3 7h9m1-7h9m-8 4h9m-6-2h9m-6 3h9m-4-3h9m-5 1h9m-1 6h9m-9-3h9m-3-5h9m-3 4h9m-8 3h9m2 0h9m-5-6h9m-6-2h9m-8 2h9m5 4h9m-2-3h9m-3-1h9m0 3h9m-4 3h9m-7-5h9m-3 0h9m-5 3h9m3 2h9m-4-4h9m57-3h9m-1 0h9m-801 14h9m5-2h9m-5 0h9m7-3h9m2 0h9m2 6h9m-9-7h9m-4 4h9m0 0h9m-3-1h9m-9 3h9m-3-2h9m-1-2h9m-6 6h9m-9-5h9m-7-1h9m-8 4h9m-6 4h9m-5 0h9m-5-5h9m-9-4h9m-7 2h9m-5-1h9m-7 0h9m-6 2h9m-7 5h9m-3-3h9m-7 2h9m-7-4h9m-7-2h9m-8 0h9m-8 0h9m-4-1h9m-7 3h9m-5 1h9m-9 0h9m-8-3h9m-6 7h9m-7 0h9m-9-3h9m-4 3h9m-8 0h9m-8-8h9m-7 9h9m-9-7h9m-8-1h9m-8 5h9m-9-5h9m-7 6h9m-7 0h9m-9 0h9m-8-3h9m-7 1h9m-7-4h9m-9 7h9m-7-5h9m-9-3h9m-9 8h9m-8-5h9m-8 3h9m-9-1h9m-7-1h9m-8 3h9m-7-1h9m-5 0h9m-9 0h9m-7-1h9m-8-3h9m1 3h9m-9-2h9m-7 1h9m-7-3h9m-8 7h9m-3-4h9m-8-4h9m-2 5h9m-8 0h9m-8-6h9m-8 9h9m-7-2h9m-8-1h9m-7 2h9m-7 1h9m-8-1h9m-9-2h9m-7-1h9m-6 2h9m-8-6h9m-9 1h9m-7 5h9m-7 0h9m-9-2h9m-5-2h9m-2-3h9m5 4h9m-4 0h9m-5 4h9m-9-2h9m-7-5h9m-7 4h9m-4 2h9m-1 1h9m-6-3h9m15-2h9m-7-1h9m11 4h9m5-2h9m-5-3h9m-1 2h9m-1 0h9m62-3h9m30 8h9m0 2h9m11 0h9m13-6h9m-8-3h9m-5 8h9m-8-6h9m2 1h9m6-2h9m-2 5h9m-4-6h9m-6-1h9m-5 1h9m-2 3h9m-7-2h9m-8-2h9m-5 6h9m1 0h9m7-3h9m2 0h9m-8 0h9m-3 1h9m-6-1h9m9 6h9m1-5h9m-698 14h9m-6-6h9m35 6h9m-6-2h9m33 2h9m-7-6h9m0 4h9m-7-1h9m-2-5h9m-7 9h9m-9-6h9m-8-2h9m-1 0h9m-2 9h9m-4-4h9m-4 0h9m-8 1h9m-7-4h9m-8-1h9m-9 8h9m-6-7h9m-6-1h9m-6 3h9m-6 1h9m1-3h9m-9 2h9m-8-5h9m-7 3h9m-9-2h9m-7 0h9m-8 8h9m-8 0h9m-9-6h9m-8 5h9m-9-3h9m-9 0h9m-8 4h9m-9 0h9m-9-2h9m-6-3h9m-9 4h9m-9-1h9m-8 3h9m-8-5h9m-9-2h9m-7-1h9m-9 1h9m-7 6h9m-8-6h9m-8 4h9m-6 2h9m-8-2h9m-7-1h9m-9-1h9m-8 4h9m-9-3h9m-8-5h9m-8-1h9m-8 7h9m-9 3h9m-8-4h9m-9 0h9m-6-4h9m-9 7h9m-9-1h9m-7-3h9m-9-4h9m-6 4h9m-2 3h9m-9-4h9m-8 2h9m-5-1h9m-5-5h9m-4 5h9m-6 4h9m-9 0h9m-4-5h9m-8-4h9m-5 1h9m-8 4h9m-5-5h9m-9 1h9m-8 4h9m-6 0h9m-4-2h9m-4 2h9m-8-4h9m-9 5h9m-9-1h9m-1 4h9m5-9h9m-6 10h9m-3-1h9m-5-8h9m-1 7h9m-8 1h9m43 1h9m0-3h9m-6 0h9m1-7h9m-1 4h9m-5-4h9m8 6h9m22-1h9m73-3h9m3 2h9m-6-1h9m13 6h9m-1-8h9m1 6h9m-1-2h9m-1 4h9m-5-1h9m-8-5h9m-9 0h9m1 6h9m5-4h9m-7-3h9m-9-1h9m-9 0h9m0 8h9m4 0h9m0-2h9m-7 2h9m-9-8h9m-6 0h9m28 6h9m-9-3h9m8-2h9m52 6h9m124 0h9m-872 11h9m-5-3h9m4 2h9m-7-1h9m18-6h9m-7 8h9m-9-1h9m-8-3h9m-2-4h9m-8 0h9m-5 0h9m-5 5h9m-5-3h9m-7 6h9m-8-5h9m-3 3h9m-8-2h9m-6 4h9m-4-1h9m-6 2h9m-5-5h9m-8 0h9m-8 3h9m-9-7h9m-8 4h9m-9 3h9m-7 1h9m-8-1h9m-6 2h9m-8-3h9m-9-5h9m-8-1h9m-5 5h9m-9-6h9m-7 4h9m-9 3h9m-5-3h9m-9 0h9m-8 2h9m-7-5h9m-8 9h9m-8-5h9m-6 4h9m-9-7h9m-9 8h9m-8-3h9m-7-1h9m-9 3h9m-9-5h9m-7 3h9m-9-2h9m-9-2h9m-9 4h9m-7 1h9m-7-5h9m-6-1h9m-6 4h9m-9-3h9m-6 2h9m-8 2h9m-9-4h9m-8 7h9m-7-7h9m-8 5h9m-9 2h9m-8-6h9m-8-1h9m-9 5h9m-8 0h9m-5 1h9m-8 1h9m-6-10h9m-8 4h9m-8 1h9m-9 1h9m-8-1h9m-9-1h9m-8 3h9m-8-2h9m-9 4h9m-7 0h9m-9-5h9m-8 5h9m-8-8h9m-9 2h9m-7 5h9m-8-6h9m-8 5h9m-7-2h9m-7 0h9m-9 0h9m-8 2h9m-9-1h9m-6-1h9m-8 4h9m-8-3h9m-8-3h9m-8 4h9m-7-2h9m-9 1h9m-8 2h9m-9 1h9m-7-8h9m-8 4h9m-6-3h9m-7 6h9m-8 1h9m-6 1h9m-5-4h9m-8-2h9m-9 0h9m-8 0h9m-5 3h9m-7-1h9m-9-1h9m-7-4h9m-7 8h9m-9-1h9m-7-3h9m-8 2h9m-8-7h9m-8 6h9m-8-4h9m-7 0h9m-9 0h9m-8 3h9m-2 4h9m-6-5h9m-6-1h9m-6 1h9m-7 3h9m-9-2h9m-8 2h9m-8-4h9m-7 5h9m-8-6h9m-9 5h9m-2 2h9m-7 0h9m-7-4h9m-4 1h9m-3 3h9m-7 0h9m-8-3h9m4-2h9m0-1h9m-2 2h9m40 1h9m-7 3h9m33-4h9m-4 0h9m-9 2h9m12-4h9m48 3h9m34-4h9m-3 5h9m-9-2h9m11-4h9m-4 0h9m-6 8h9m7-1h9m-8-8h9m-7 5h9m-9-4h9m-6 1h9m5-1h9m-5 6h9m0-7h9m-3 9h9m-5-1h9m-7-5h9m-4 2h9m-8 0h9m12 3h9m-5-7h9m39 6h9m198-2h9m-913 7h9m4-1h9m-6 8h9m-6-3h9m-8-4h9m-7 6h9m10-8h9m-8 8h9m2-8h9m-8 5h9m-8 0h9m0-3h9m-3-1h9m-7 8h9m-4-2h9m-9-1h9m-9-2h9m-5 0h9m-8 0h9m-8 4h9m-9-8h9m-6 7h9m-7 3h9m-9-8h9m-7 1h9m-9 5h9m-8 1h9m-7-6h9m-9 2h9m-5-1h9m-8 6h9m-7-7h9m0 7h9m-6-1h9m-9-7h9m-8 3h9m-9-1h9m-6 0h9m-5-1h9m-5 2h9m-8 0h9m-8-1h9m-9-2h9m-8 0h9m-6 6h9m-8-1h9m-9 1h9m-8-7h9m-7 6h9m-5 3h9m-6-3h9m-8-5h9m-5 0h9m-9-2h9m-7 2h9m-9 8h9m-8-4h9m-9 0h9m-8-2h9m-9 3h9m-8-1h9m-9-3h9m-9 4h9m-7-5h9m-7 3h9m-9-2h9m-7 3h9m-7 1h9m-9 0h9m-6-2h9m-8 2h9m-8-3h9m-7 2h9m-9 0h9m-7-1h9m-9-1h9m-9 5h9m-8-2h9m-9 1h9m-8-6h9m-8 0h9m-9 0h9m-9 1h9m-6 1h9m-8 5h9m-9-2h9m-8-2h9m-9 3h9m-7-1h9m-9-4h9m-9-1h9m-5 5h9m-8-6h9m-9 6h9m-8-5h9m-9 1h9m-7 4h9m-9-1h9m-9 1h9m-6-4h9m-9-2h9m-5 3h9m-8 2h9m-7-4h9m-9 1h9m-8 1h9m-7 4h9m-7-1h9m-6-5h9m-8 0h9m-8 8h9m-7-8h9m-8 8h9m-8-8h9m-1 2h9m-8 5h9m-8-2h9m-7-5h9m-4 0h9m-7 2h9m-2 0h9m1 2h9m9 2h9m-7-4h9m7 1h9m1 3h9m10-4h9m0 2h9m7-3h9m81 0h9m22 7h9m-1-2h9m0-1h9m10-4h9m14 0h9m-9 3h9m-6-5h9m5 5h9m-1 2h9m0-6h9m-4 0h9m4 1h9m-3 4h9m-3 2h9m5 0h9m-5 0h9m-7-7h9m-1 1h9m28 3h9m-3-2h9m-698 14h9m1-2h9m32-2h9m-5-2h9m-1 4h9m-8-6h9m-6 8h9m-2-4h9m6 1h9m-6 4h9m-7 1h9m-9-4h9m-8 0h9m-9-5h9m-3-1h9m-8 4h9m-8 1h9m5 3h9m0-8h9m-5 6h9m-9 1h9m-8-1h9m-8-5h9m-8 4h9m-7-2h9m-8 5h9m-4-4h9m-8-2h9m-9-1h9m-8 4h9m-9-4h9m-8 8h9m-7-4h9m-9 0h9m-4 3h9m-7 0h9m-9-1h9m-3-2h9m-9-1h9m-9-1h9m-7 1h9m-8 2h9m-9 3h9m-8-5h9m-7-1h9m-8 6h9m-9-5h9m-9 4h9m-8-8h9m-9 9h9m-8 1h9m-9-9h9m-9 5h9m-7 1h9m-7-1h9m-8 1h9m-7 3h9m-9-3h9m-9-2h9m-8 3h9m-7-2h9m-8-2h9m-8 3h9m-8 0h9m-8-2h9m-9 4h9m-8-3h9m-9-2h9m-8 3h9m-9-2h9m-8-3h9m-6 0h9m-6 1h9m-7 6h9m-8-8h9m-4 8h9m-8-4h9m-4 5h9m-5-4h9m-9 1h9m-8-5h9m-9-2h9m-8 3h9m-9-1h9m-8 8h9m-9-4h9m-9-2h9m-7 5h9m-9-1h9m-8-8h9m-9 7h9m-8 0h9m-8-3h9m-8-1h9m-8 1h9m-7 3h9m-7-3h9m-8 3h9m-8-1h9m-9-4h9m-9 8h9m-7-4h9m-8-2h9m-8 5h9m-8-4h9m-8-3h9m-3 0h9m-8-1h9m-5 7h9m-5-7h9m-9 6h9m-7-1h9m-8 0h9m-6 1h9m-9 0h9m-7-2h9m-7 4h9m-8-6h9m-9-1h9m-8 5h9m-6-5h9m-9 2h9m-8 0h9m-8 6h9m-9-6h9m-8 0h9m-8 4h9m-9-6h9m-4 0h9m-9 1h9m-7-2h9m-5 8h9m-4-8h9m-6 6h9m-7 3h9m-9-8h9m-6 5h9m-7-7h9m-8 5h9m-5 1h9m-7-2h9m1 4h9m-7 0h9m3 0h9m6-4h9m-7 4h9m19-1h9m12 2h9m62 0h9m63-6h9m6 4h9m-4 3h9m0-1h9m1-2h9m30-3h9m-7-3h9m1 6h9m-4 3h9m2-9h9m-8 2h9m-7 1h9m9 4h9m-3-7h9m192-1h9m-820 15h9m-3 5h9m25-4h9m-5-6h9m-7 4h9m-3 0h9m-8-3h9m-7 4h9m-2 4h9m-8-6h9m-1 0h9m-2-1h9m-9 1h9m-9 6h9m-5-4h9m-8 2h9m-8-2h9m-8 3h9m-9 1h9m-8-5h9m-9 4h9m-8-5h9m-3 2h9m-9-2h9m-9 4h9m-4-5h9m-8 5h9m-8-5h9m-9 3h9m-8-3h9m-9 7h9m-7-8h9m-8 3h9m-9 3h9m-9-1h9m-8 3h9m-9-6h9m-7-2h9m-6-1h9m-8 7h9m-9-4h9m-8 2h9m-7-4h9m-8 0h9m-8 5h9m-8 0h9m-7 3h9m-6-3h9m-8-4h9m-9 0h9m-8 3h9m-7-5h9m-7 6h9m-8-4h9m-9 6h9m-6-3h9m-9-1h9m-9-2h9m-8 5h9m-9-6h9m-7 4h9m-8 2h9m-9 2h9m-9-8h9m-8 5h9m-9 0h9m-7-4h9m-7-2h9m-8 7h9m-8-4h9m-9 5h9m-9-1h9m-7-6h9m-9 3h9m-9 5h9m-9-6h9m-8 4h9m-5 0h9m-9 2h9m-2-7h9m-9 7h9m-9-6h9m-8 5h9m-9 0h9m-6-8h9m-8 6h9m-8-6h9m-8 3h9m-9 3h9m-9 3h9m-6-4h9m-9-2h9m-9-2h9m-9 7h9m-7 0h9m-7 1h9m-9 1h9m-7-6h9m-8 1h9m-9-4h9m-5 0h9m-9 8h9m-9-3h9m-7-3h9m-8 0h9m-7 2h9m-9 2h9m-8-1h9m-6-5h9m-7 0h9m-9 5h9m-9-3h9m-8 6h9m-8-8h9m-7 1h9m-7 6h9m-7-1h9m-3 2h9m-8-6h9m-9-2h9m-4 8h9m-7-1h9m-8-6h9m-9-2h9m-7 4h9m-8-1h9m-8 3h9m-7 1h9m-9-3h9m-1 0h9m-4-2h9m-5 3h9m-5 3h9m0-4h9m-5 5h9m16-1h9m0-2h9m-1 1h9m5 2h9m5-6h9m51-1h9m13 3h9m74-1h9m8-3h9m-8 2h9m-7 1h9m27 0h9m-8 4h9m-4 0h9m6-7h9m-2 5h9m7 2h9m-1 0h9m-3-5h9m30-3h9m1 10h9m-9-1h9m12-4h9m79-2h9m-804 13h9m-2 2h9m-2-8h9m-4 2h9m-1 1h9m0-3h9m-2 1h9m-8 1h9m0 6h9m-4 0h9m-7-7h9m6 2h9m-5 3h9m-7-4h9m-9 4h9m-5-4h9m-8-1h9m0 6h9m-4-3h9m0-2h9m-8 1h9m-9 3h9m-7 3h9m-4-6h9m-4-1h9m-7 3h9m-5-2h9m-7-3h9m-9 0h9m-7 2h9m-8 6h9m-8-3h9m-6 2h9m-5-2h9m-9-2h9m-8 3h9m-8 1h9m-8 2h9m-7-6h9m-9 0h9m-8-2h9m-7 2h9m-8 5h9m-9-7h9m-8-1h9m-6 7h9m-9-4h9m-7 6h9m-9-6h9m-8 0h9m-8 1h9m-8 0h9m-9-1h9m-9-3h9m-8 0h9m-8 7h9m-7-4h9m-9 6h9m-6-8h9m-9 3h9m-8 2h9m-8 0h9m-9-2h9m-8 4h9m-8-2h9m-9 3h9m-7-8h9m-9 0h9m-8 4h9m-9 1h9m-7-5h9m-8 6h9m-9 1h9m-9-7h9m-8 9h9m-8-4h9m-7-6h9m-9 0h9m-8 0h9m-8 8h9m-9-6h9m-9 3h9m-8 0h9m-8 2h9m-9 0h9m-5-3h9m-9 6h9m-9-6h9m-7 1h9m-8 4h9m-8-6h9m-9-2h9m-5 0h9m-9 0h9m-8 5h9m-7-6h9m-8 5h9m-8-2h9m-8 6h9m-7-7h9m-7 5h9m-8-7h9m-2 7h9m-6 0h9m-9 2h9m-8-6h9m-8 5h9m-7-5h9m-7-1h9m-8 4h9m-9-4h9m-8 6h9m-8 1h9m-6-8h9m-8 3h9m-8 1h9m-5-4h9m-1 4h9m-4 2h9m-9-6h9m-7 6h9m-8 3h9m-8-1h9m-2-8h9m-8 3h9m-7-1h9m-9 6h9m-7-6h9m-8-3h9m-6 5h9m-8 4h9m-3 1h9m-4-5h9m17-2h9m-3 7h9m-9-4h9m-9-2h9m41-1h9m-4-3h9m28 6h9m60 0h9m58 3h9m3-9h9m14 1h9m7 7h9m20-1h9m38-2h9m-8-2h9m229-2h9m-903 18h9m17-2h9m-7-4h9m-8 3h9m2-1h9m13-1h9m-6-2h9m-8 2h9m-5 5h9m-5-6h9m-4 5h9m-6 2h9m-5-1h9m-7-9h9m-3 7h9m-8-6h9m-6 4h9m-9 3h9m-5-3h9m-8-3h9m-4-1h9m-7 7h9m-6 2h9m-7-8h9m-8 6h9m-7 2h9m-8-3h9m-8-7h9m-6 7h9m-9 1h9m-6-6h9m-5 2h9m-9 1h9m-7-2h9m-8-1h9m-6 7h9m-8 0h9m-9-4h9m-7-4h9m-9 0h9m-4 6h9m-9-4h9m-8 4h9m-8-2h9m-8 3h9m-9 0h9m-4 2h9m-8-4h9m-8-2h9m-8-2h9m-6 6h9m-6-8h9m-7 3h9m-9 5h9m-7 1h9m-9-7h9m-9 5h9m-7-1h9m-6 3h9m-9-6h9m-9 5h9m-8-3h9m-9 3h9m-8 0h9m-9-6h9m-4 0h9m-7-1h9m-6 9h9m-8-4h9m-8-2h9m-9-1h9m-5-2h9m-7 5h9m-8-3h9m-6 5h9m-9-6h9m-9 4h9m-7-4h9m-8-1h9m-7 8h9m-8-7h9m-8 1h9m-7 3h9m-4 4h9m-7-8h9m-8 2h9m-8-2h9m-9-2h9m-1 4h9m-8-2h9m-8 6h9m-8-6h9m-6 6h9m-5 0h9m-4-4h9m-5 2h9m-5-6h9m-6 5h9m-5-3h9m-8 5h9m-7-2h9m-5-2h9m-8 3h9m-7 3h9m-8-3h9m-8 2h9m-8-3h9m-3 2h9m-5-5h9m4 4h9m-6 0h9m-6-2h9m3-3h9m2 0h9m6 0h9m133 6h9m53 0h9m48-5h9m5 5h9m9 2h9m-648 10h9m4 0h9m-6-7h9m-1 4h9m1 1h9m-8-3h9m-3-3h9m-8 5h9m-9 4h9m-6-8h9m14 6h9m-7 2h9m-7-2h9m-8-5h9m-3-1h9m-7 7h9m-8-1h9m-2-5h9m-7 0h9m-7 0h9m-1 6h9m-9-6h9m-6 1h9m-6-1h9m-2 0h9m-3 2h9m-9-5h9m-8 2h9m-3 2h9m-5 5h9m-4-3h9m-6-5h9m-8 2h9m-6 0h9m-8-2h9m-9 1h9m-5 1h9m-8 4h9m-5-2h9m-9-4h9m-9 1h9m-8 0h9m-8 3h9m-4-2h9m-8-1h9m-9-1h9m-6 0h9m-5 8h9m-5 1h9m-8-7h9m-8 0h9m-7 6h9m-9-1h9m-8 0h9m-6-3h9m-9 2h9m-9-6h9m-7 0h9m-8 8h9m-9-8h9m-8 5h9m-8 2h9m-8-4h9m-9 3h9m-6-2h9m-9 4h9m-9-4h9m-7-3h9m-6 1h9m-8 0h9m-1 0h9m-8 0h9m-3 4h9m-6-4h9m-8 0h9m-9 3h9m-7 4h9m-9-3h9m-6-4h9m-8 0h9m-9-3h9m-6 9h9m-7-3h9m0-2h9m-9 2h9m-7-6h9m-8 8h9m-6-6h9m-9 7h9m-6-6h9m-5 7h9m-6-1h9m-6-8h9m-5 7h9m-6-2h9m-8-2h9m-9 1h9m-9-4h9m-8 4h9m-7-2h9m-4 2h9m-8-3h9m-7 4h9m-8-6h9m-6 1h9m-5 0h9m-6 3h9m-4 0h9m-8 5h9m25-6h9m26 6h9m108-7h9m94 2h9m132 1h9m204 0h9m-949 9h9m-5-2h9m8 4h9m5 4h9m1-8h9m19 6h9m2-3h9m-6 3h9m-6-6h9m-8-1h9m-4 8h9m-6-8h9m-7 8h9m-9-1h9m-5-5h9m-6 6h9m-9-7h9m-8 4h9m-7 2h9m-7 0h9m-6-1h9m-7-6h9m-8 8h9m-7-3h9m-8 1h9m-9-6h9m-6-1h9m-8 1h9m-9 7h9m-6-7h9m-7 3h9m-9 4h9m-8-7h9m-5 2h9m-9 5h9m-7-2h9m-7 0h9m-9 2h9m-8-7h9m-6 0h9m-9 8h9m-6-7h9m-9 5h9m-8-3h9m-4 2h9m-7 3h9m-8-5h9m-8 5h9m-9-7h9m-9 2h9m-8-3h9m-9 1h9m-8 0h9m-8 6h9m-8 1h9m-4-1h9m-7-5h9m-9-3h9m-8 7h9m-5 0h9m-9-5h9m-7 2h9m-8 2h9m-9 3h9m-6 1h9m-9-3h9m-8 1h9m-8-3h9m-9 2h9m-8-2h9m-8-1h9m-8-2h9m-7 4h9m-6 3h9m-9-7h9m-7 3h9m-8 5h9m-7-8h9m-8 6h9m-8-5h9m-8 6h9m-7-2h9m-8 2h9m-8-5h9m-9-3h9m-8 0h9m-5 6h9m-7 2h9m-9-4h9m-7 3h9m-9-6h9m-9 3h9m-3 2h9m-8-4h9m-8 1h9m-8-1h9m-6 0h9m-9 3h9m-7-4h9m-8 7h9m-7 0h9m-8-6h9m-9-3h9m-8 10h9m-8-6h9m-9-1h9m-8-2h9m-9-1h9m-9 5h9m-8 2h9m-9-6h9m-9 2h9m-9 3h9m-8 1h9m-7-7h9m-6 1h9m-9 0h9m-8 2h9m-6 6h9m-3-2h9m-6 3h9m-7-9h9m-2 7h9m-8-5h9m-4-1h9m-7 0h9m-7 0h9m-1 1h9m8 4h9m-1 2h9m-2-2h9m-2-4h9m-7 1h9m-8 1h9m-4 2h9m-8-3h9m-2-2h9m-3 7h9m1-5h9m6-3h9m-4-1h9m81 4h9m119-3h9m-8 3h9m63-3h9m248 7h9m15 0h9m-887 11h9m-9 0h9m-1-3h9m-5-3h9m-8 7h9m-4-9h9m-5 0h9m-2 7h9m-8-5h9m-5-3h9m1 0h9m-7 8h9m-8 0h9m-8 1h9m-4 1h9m-8-4h9m-7 2h9m-6-2h9m-6-1h9m-8 5h9m-7-5h9m-6 0h9m-5-1h9m1 1h9m-7-3h9m-7 1h9m-7 4h9m-9-5h9m-5-1h9m-5 3h9m-8 5h9m-8-5h9m-9 5h9m-9-5h9m-7-1h9m-9 1h9m-6-3h9m-9 2h9m-5 1h9m-7 0h9m-7-1h9m-9 4h9m-8 1h9m-7-4h9m-9-1h9m-8-1h9m-6-1h9m-9 1h9m-7 4h9m-7-4h9m-5-1h9m-8 0h9m-7 5h9m-8-4h9m-8 8h9m-9-7h9m-6-1h9m-8-2h9m-4 9h9m-7-6h9m-9 1h9m-9 5h9m-8-7h9m-4 1h9m-8 4h9m-9-6h9m-7 7h9m-9-4h9m-8 3h9m-8-6h9m-8 2h9m-7 1h9m-8 2h9m-7-5h9m-8 2h9m-7 3h9m-8 2h9m-6-5h9m-6-1h9m-6 4h9m-9-1h9m-8 3h9m-8-8h9m-9 2h9m-7 5h9m-6-5h9m-5 8h9m-9-8h9m-8 4h9m-8-5h9m-6 4h9m-7 4h9m-6 0h9m-8 0h9m-6 0h9m-6-6h9m-7 3h9m-9 2h9m-9-4h9m-7 5h9m-4-7h9m-9 4h9m-5-5h9m-8 0h9m9 7h9m-8-3h9m-8-2h9m0 4h9m-5-6h9m4 8h9m-7-3h9m-7-2h9m9 5h9m7-9h9m52 7h9m53-1h9m94-2h9m10 5h9m5-2h9m52-2h9m-659 5h9m14 9h9m34-5h9m-8 3h9m-8-4h9m1-3h9m-6 2h9m-6 6h9m-7-2h9m-6-3h9m-4-2h9m-9 0h9m-6 7h9m-9-3h9m-7 1h9m-8 1h9m-3-5h9m-6 0h9m-5-2h9m-6 5h9m-3 3h9m-7-8h9m-6 8h9m-3-2h9m-5-2h9m-5 4h9m-9 0h9m-4-3h9m-8 4h9m-8-3h9m-7 1h9m-5-4h9m-9 4h9m-9-7h9m-7 2h9m-7 0h9m-9 8h9m-6-5h9m-4 2h9m-9 3h9m-8 0h9m-9-1h9m-7-5h9m-7 1h9m-9 1h9m-9-4h9m-8-1h9m-6 7h9m-5-6h9m-7 4h9m-8 0h9m-8-3h9m-8 4h9m-5 1h9m-8-7h9m-9 6h9m-7-6h9m-7 7h9m-8-1h9m-7-4h9m-7 4h9m-6-2h9m-8 2h9m-6-1h9m-4-2h9m-8 2h9m-1-3h9m-6 7h9m-9-1h9m2 0h9m-8-5h9m-5 3h9m-6-4h9m-6-1h9m-9 7h9m-7 0h9m6-5h9m-7 0h9m-4 6h9m-6 0h9m-7-8h9m-8 2h9m2 0h9m0 5h9m3-8h9m-8 1h9m-8 0h9m-9 2h9m-9 0h9m62-3h9m-6 3h9m119-3h9m-492 10h9m-6 6h9m-6-5h9m-5 8h9m-1-4h9m10-1h9m-3 3h9m-9-5h9m-8 6h9m-9-5h9m-5-2h9m-1 3h9m-3 1h9m-9-5h9m-8 1h9m-8 7h9m-8-2h9m-4-4h9m-6 1h9m-4-2h9m-6 3h9m-4 3h9m-9-1h9m-8-6h9m-6 2h9m-4 2h9m-8 2h9m1-4h9m-8 4h9m-8 0h9m-9-5h9m-9 7h9m-6-7h9m-2 7h9m-5-7h9m-9 7h9m-3-6h9m-8 6h9m-8-5h9m-9-2h9m-7 6h9m-4-7h9m-8 3h9m-9 5h9m-8-7h9m-7 6h9m-1-3h9m-8 5h9m-5-5h9m-8 3h9m-7-4h9m-9-2h9m-8 1h9m-8-2h9m-6 0h9m-9 7h9m-9-7h9m-8 0h9m-8 1h9m-3 7h9m-9 1h9m-4-9h9m-2 4h9m-3-4h9m-6 0h9m-7 0h9m-4 4h9m-9 3h9m1-6h9m-5 2h9m-5-1h9m-3-2h9m-8 1h9m-6 8h9m-4-6h9m-9 2h9m-1-5h9m-6 6h9m-8-3h9m4 2h9m-6 2h9m18 2h9m4-1h9m4-5h9m-8 6h9m12-2h9m25 1h9m150-5h9m56 5h9m239-5h9m-902 16h9m5-3h9m8-1h9m-6 1h9m-3 3h9m-2-7h9m3 1h9m-3 1h9m-3 0h9m14-1h9m-5 1h9m-2-2h9m-6 2h9m-1 4h9m-5-8h9m-9 6h9m-8-7h9m-2 5h9m0 2h9m-6-7h9m-9 7h9m-9 2h9m-2-6h9m-7-2h9m-8 7h9m-9 1h9m-8-2h9m-6 3h9m-8-5h9m-8 5h9m-4-7h9m-9 1h9m-6 6h9m-8-7h9m-8-3h9m-9 8h9m-8-3h9m-9-1h9m-7 3h9m-9 3h9m-8-4h9m-5-2h9m-9 0h9m-8 2h9m-9-3h9m-7 5h9m-6-3h9m-8 5h9m1-1h9m-6 0h9m2-4h9m-6 4h9m-3-9h9m-5 9h9m-8-7h9m-4 5h9m-3 0h9m-7-2h9m-4-1h9m-1-2h9m-7 1h9m-6-2h9m-1 6h9m4 0h9m1 0h9m-3 0h9m-9-7h9m-8 8h9m-7-3h9m-9-2h9m-8 1h9m13 2h9m-3-2h9m-3 1h9m-1-2h9m-8 1h9m219 0h9m297 2h9m-881 9h9m57 4h9m11 0h9m2-5h9m-6 4h9m2-4h9m-1 0h9m-2 1h9m-5 1h9m-9-5h9m-2 5h9m-9-3h9m4-2h9m4 5h9m-7-1h9m-5 0h9m-6-4h9m-8 5h9m-9-2h9m-9 3h9m-7-6h9m-9 4h9m-8-4h9m-4 5h9m-5-6h9m-7 3h9m-8 1h9m-8 4h9m-8 0h9m-9-1h9m-7-3h9m-8 5h9m-8-4h9m-9 3h9m-3-7h9m0 7h9m-5-6h9m-8 1h9m-8 0h9m-5-1h9m-4 1h9m-2 1h9m-6-3h9m-9 4h9m-2-1h9m-6 4h9m-7-4h9m-9-3h9m-6 2h9m-7 6h9m-9-4h9m-5 2h9m-2 3h9m-6 0h9m-8-8h9m-6-1h9m-5 4h9m-8 0h9m-4 4h9m-8-1h9m-9-7h9m1 7h9m0 1h9m5-6h9m-6 3h9m30 0h9m20-3h9m9-2h9m27 3h9m-447 11h9m16-3h9m17 1h9m6 1h9m-3-3h9m-2 8h9m0-1h9m18 0h9m-9-4h9m1-2h9m-5 3h9m-8 2h9m-8 1h9m-4-4h9m-5 3h9m-3-2h9m-8-2h9m-2 5h9m-3-2h9m-7 1h9m-7 0h9m10 0h9m-7 0h9m-3 3h9m-2-9h9m-7 0h9m-7-1h9m-9 8h9m-7-1h9m-6-3h9m-7 3h9m-6-4h9m-7 5h9m-9-4h9m-4 0h9m2 0h9m-7 2h9m11 3h9m0-1h9m-9-1h9m-8 2h9m-9-2h9m-2-6h9m2 3h9m-5-2h9m-7-1h9m-9 4h9m-4 5h9m9-6h9m-8 0h9m-7-2h9m13 0h9m2 0h9m4 3h9m253-3h9m17-1h9m-614 15h9m2-5h9m-3 3h9m-7 0h9m8 3h9m-6 0h9m12 3h9m-7-6h9m-4-3h9m-1 2h9m10 5h9m4-4h9m-4-3h9m-4 0h9m-6 3h9m-8 1h9m-6-1h9m-7-3h9m-9 9h9m-1-1h9m-8-4h9m-8-1h9m-2 2h9m-9-2h9m4 2h9m-7-1h9m-5 0h9m-8-2h9m8 2h9m-9 4h9m-8-8h9m-7 6h9m-6 2h9m-8 0h9m-8-3h9m-1 1h9m-7 1h9m3-2h9m-6-1h9m-4 0h9m-7 0h9m-5-3h9m-4 1h9m-5-3h9m-4 4h9m-6-3h9m-7 4h9m-7 4h9m14 1h9m-9-1h9m-8-6h9m12 5h9m54-3h9m105-3h9m218 8h9m105-5h9m39 1h9m-908 8h9m-5 0h9m15 0h9m19-2h9m-6 6h9m-3 2h9m13 0h9m1-5h9m9-2h9m2 0h9m-6 4h9m-8-3h9m-9 2h9m-9-4h9m-9 5h9m-7-3h9m-7-3h9m10 8h9m-9 1h9m-7-6h9m-2-4h9m-3 1h9m-8 2h9m-6-1h9m-9-1h9m-4 9h9m-8-3h9m-3-2h9m1 5h9m-6-1h9m-8-8h9m3 8h9m-3-8h9m-5 2h9m-8 2h9m2 2h9m-1 0h9m-3-2h9m-6 0h9m-1 4h9m-6-8h9m-7 1h9m-3 1h9m-3-2h9m1 8h9m2-3h9m347 3h9m-619 4h9m10 6h9m25-1h9m-6-8h9m10 1h9m5 8h9m-4-6h9m-3 4h9m2-3h9m-6 5h9m-5-9h9m0 3h9m-7 7h9m-9-4h9m-6-1h9m-3-5h9m7 9h9m-9-2h9m11 0h9m-5-2h9m-6 4h9m-7 1h9m-4-8h9m-8 0h9m8 7h9m-2-3h9m-3 4h9m10-9h9m-9 4h9m-8 4h9m11 0h9m15 0h9m36-4h9m466 5h9m-844 6h9m9-4h9m5-2h9m13 1h9m-2 4h9m15-1h9m8-1h9m-7 1h9m7-1h9m-1 1h9m-3 0h9m-5-4h9m-6 2h9m1 2h9m2 2h9m-6 1h9m-2-5h9m-4 4h9m-3 1h9m-6-4h9m-9 1h9m1-1h9m-8 7h9m-4-3h9m-6-1h9m-7-1h9m9 1h9m-1 4h9m-7-2h9m-6-1h9m7-2h9m-6-2h9m10-2h9m1 0h9m-5 9h9m4-5h9m-8-5h9m19 0h9m-5 5h9m-4-4h9m-8 1h9m-2 7h9m15-6h9m24 5h9m215 0h9m43 0h9m-693 3h9m45 1h9m-4 4h9m24-3h9m14 2h9m17-2h9m-6 1h9m-5 6h9m-6-4h9m-2 1h9m-5 0h9m-8-3h9m-8-2h9m-6 7h9m-8-5h9m-4 3h9m2-7h9m4 3h9m-7 5h9m-8-5h9m-8 4h9m-4-4h9m-9-2h9m-3 1h9m-3-1h9m-8 7h9m3-6h9m0 0h9m-9 0h9m-6-2h9m8 8h9m-5-2h9m-6 4h9m53-2h9m83-1h9m3-4h9m42 0h9m178 6h9m156 0h9m-851 10h9m58-6h9m-7 0h9m-5 3h9m21-4h9m24 3h9m1 2h9m-9 3h9m-7-3h9m3-6h9m5 1h9m-1 6h9m0-2h9m4 0h9m3 4h9m-3-9h9m-3 0h9m-8 3h9m32-2h9m-5 2h9m1 4h9m-2-2h9m-5 3h9m-5-9h9m1 3h9m40-2h9m77 1h9m-4 5h9m15 3h9m417-8h9m17 2h9m-851 15h9m11 0h9m0 0h9m-6 1h9m25-5h9m13-1h9m2 2h9m4-1h9m15-5h9m-8 1h9m7 4h9m-4 4h9m70-4h9m17 1h9m-6-1h9m1-2h9m159-1h9m11 5h9m101-6h9m122 4h9m-783 8h9m-6 5h9m31-5h9m26 2h9m54 0h9m-7-3h9m10-2h9m-1 2h9m-8 2h9m-9-3h9m0 2h9m-8 4h9m-5-2h9m-3 4h9m-5-7h9m0 2h9m-2 3h9m-2 2h9m0-6h9m-5-1h9m-4 7h9m1-6h9m20-1h9m9 6h9m50-5h9m62 1h9m2 6h9m46-2h9m68 2h9m279-8h9m-4 1h9m-877 8h9m8-1h9m2 5h9m17-2h9m-3 7h9m5-3h9m-6-1h9m-5 1h9m36-4h9m7-2h9m-2 8h9m30 0h9m0-3h9m6-3h9m2 6h9m2-8h9m-4 3h9m-7 0h9m22 0h9m31 1h9m66 0h9m301-1h9m58-3h9m43 7h9m-712 11h9m0-3h9m23 2h9m17-6h9m-1 3h9m19 4h9m3-1h9m8-6h9m9 3h9m-6-4h9m97 3h9m130 0h9m195 3h9m12 3h9m163-3h9m-888 10h9m27-5h9m39 0h9m-4 7h9m32-1h9m3-5h9m-2 5h9m3-7h9m17 7h9m44-6h9m-9 6h9m14-4h9m6 3h9m48 2h9m183-3h9m257 0h9m100-1h9m-948 6h9m12 3h9m-9-1h9m79-3h9m16 1h9m-2 6h9m15 2h9m29-4h9m-2 2h9m0-2h9m43-1h9m33-3h9m-2 5h9m-6 4h9m-1-4h9m85 2h9m-5-2h9m-2-4h9m55 1h9m161 4h9m53-3h9m-591 14h9m19-2h9m2 2h9m-8 0h9m7 1h9m16-8h9m7 0h9m157 3h9m28-3h9m7 4h9m333 5h9m-765 1h9m148 0h9m7 8h9m36-3h9m4 4h9m-5-1h9m27 1h9m60-5h9m49 0h9m-463 10h9m49-2h9m21-2h9m16-1h9m48 4h9m47-3h9m29 0h9m186 5h9m346 1h9" stroke="#1a1a1a" stroke-opacity="0.55" stroke-width="9" fill="none"/>
<rect x="29.2" y="625" width="98.1" height="90.79999999999995" fill="none" stroke="#555" stroke-width="0.9"/>
<line x1="76" y1="625" x2="76" y2="715.8" stroke="#333" stroke-width="1.3"/>
<line x1="29.2" y1="672" x2="127.3" y2="672" stroke="#333" stroke-width="1.3"/>
<rect x="21.2" y="624.3" width="4" height="1.4" fill="#bbb"/>
<line x1="26.7" y1="625.0" x2="29.2" y2="625.0" stroke="#888" stroke-width="0.6"/>
<rect x="21.2" y="647.0" width="4" height="1.4" fill="#bbb"/>
<line x1="26.7" y1="647.7" x2="29.2" y2="647.7" stroke="#888" stroke-width="0.6"/>
<rect x="21.2" y="669.6999999999999" width="4" height="1.4" fill="#bbb"/>
<line x1="26.7" y1="670.4" x2="29.2" y2="670.4" stroke="#888" stroke-width="0.6"/>
<rect x="21.2" y="692.3999999999999" width="4" height="1.4" fill="#bbb"/>
<line x1="26.7" y1="693.0999999999999" x2="29.2" y2="693.0999999999999" stroke="#888" stroke-width="0.6"/>
<rect x="51.724999999999994" y="720.0999999999999" width="4" height="1.4" fill="#c4c4c4"/>
<rect x="76.25" y="720.0999999999999" width="4" height="1.4" fill="#c4c4c4"/>
<rect x="100.77499999999999" y="720.0999999999999" width="4" height="1.4" fill="#c4c4c4"/>
<rect x="125.3" y="720.0999999999999" width="4" height="1.4" fill="#c4c4c4"/>
<path d="M27.8,625.0h1.4M27.8,627.8h1.4M27.8,630.7h1.4M27.8,633.5h1.4M27.8,636.4h1.4M27.8,639.2h1.4M27.8,642.0h1.4M27.8,644.9h1.4M27.8,647.7h1.4M27.8,650.5h1.4M27.8,653.4h1.4M27.8,656.2h1.4M27.8,659.0h1.4M27.8,661.9h1.4M27.8,664.7h1.4M27.8,667.6h1.4M27.8,670.4h1.4M27.8,673.2h1.4M27.8,676.1h1.4M27.8,678.9h1.4M27.8,681.8h1.4M27.8,684.6h1.4M27.8,687.4h1.4M27.8,690.3h1.4M27.8,693.1h1.4M27.8,695.9h1.4M27.8,698.8h1.4M27.8,701.6h1.4M27.8,704.4h1.4M27.8,707.3h1.4M27.8,710.1h1.4M27.8,713.0h1.4M27.8,715.8h1.4" stroke="#ccc" stroke-width="0.4"/>
<path d="M29.2,715.8v1.4M32.3,715.8v1.4M35.3,715.8v1.4M38.4,715.8v1.4M41.5,715.8v1.4M44.5,715.8v1.4M47.6,715.8v1.4M50.7,715.8v1.4M53.7,715.8v1.4M56.8,715.8v1.4M59.9,715.8v1.4M62.9,715.8v1.4M66.0,715.8v1.4M69.1,715.8v1.4M72.1,715.8v1.4M75.2,715.8v1.4M78.2,715.8v1.4M81.3,715.8v1.4M84.4,715.8v1.4M87.4,715.8v1.4M90.5,715.8v1.4M93.6,715.8v1.4M96.6,715.8v1.4M99.7,715.8v1.4M102.8,715.8v1.4M105.8,715.8v1.4M108.9,715.8v1.4M112.0,715.8v1.4M115.0,715.8v1.4M118.1,715.8v1.4M121.2,715.8v1.4M124.2,715.8v1.4M127.3,715.8v1.4" stroke="#ccc" stroke-width="0.4"/>
<rect x="30.5" y="626.4" width="3.6" height="2.4" fill="#999"/>
<rect x="77.3" y="626.4" width="3.6" height="2.4" fill="#999"/>
<rect x="30.5" y="673.4" width="3.6" height="2.4" fill="#999"/>
<rect x="77.3" y="673.4" width="3.6" height="2.4" fill="#999"/>
<path transform="scale(0.1)" d="M0 0m1440 6258h9m301 5h9m248 2h9m235 0h9m-733 18h9m540 4h9m235 2h9m-413 18h9m400 5h9m-851 7h9m148 1h9m555 8h9m116 21h9m-219 18h9m-584 15h9m627-6h9m-84 17h9m-653 4h9m449 1h9m166 2h9m-125 12h9m21 0h9m340 1h9m-407 9h9m-297 7h9m302 2h9m84-6h9m43 9h9m-184 1h9m43 9h9m0-2h9m37-6h9m-452 11h9m274-1h9m10 8h9m2-7h9m9 0h9m36 8h9m39-3h9m-3 2h9m44-3h9m-7 0h9m-161 14h9m33-5h9m13 2h9m9-4h9m-4 7h9m-124 0h9m4 8h9m33-5h9m17 4h9m-4-5h9m2-1h9m10 4h9m17-4h9m-197 10h9m94 9h9m-7-6h9m-6-4h9m-5 8h9m7-5h9m-8 4h9m3-1h9m-4 0h9m-2 2h9m-6-4h9m-9 3h9m-5 1h9m-6-2h9m14 1h9m3-5h9m5 2h9m249-3h9m-395 16h9m24 3h9m37-7h9m-7-2h9m-6 2h9m2 7h9m-1-5h9m5-1h9m-8 4h9m-7-6h9m0 7h9m0 0h9m28-5h9m-227 7h9m9 6h9m-6-4h9m5 5h9m6-6h9m5-2h9m-3 2h9m12 6h9m2-3h9m-5 2h9m14-2h9m-8 1h9m-8 2h9m-6-1h9m-9-7h9m-5 6h9m18 2h9m17-6h9m0 3h9m25 1h9m-240 10h9m12 4h9m36-6h9m-7-3h9m5 1h9m-8 0h9m-9 6h9m-5-3h9m-5-2h9m4 4h9m-2 3h9m7-4h9m-5 1h9m0 2h9m1 1h9m-7-7h9m-8 0h9m-7 1h9m22 5h9m40-5h9m-4 0h9m-239 10h9m14 5h9m34-5h9m0 1h9m6-4h9m-2 3h9m7 0h9m-9 0h9m-1 0h9m-3-3h9m-2 1h9m-2 3h9m7-3h9m-8 8h9m-3 0h9m11-1h9m53-2h9m-3-5h9m89 6h9m-481 7h9m120 0h9m35-4h9m-8 3h9m-6 3h9m2-1h9m6-6h9m-3 5h9m-5-3h9m-3 6h9m-5-7h9m-2 5h9m-9 0h9m-4-3h9m1 4h9m-4-2h9m7-2h9m-2 2h9m-3 1h9m30 2h9m-6-5h9m51 3h9m24 0h9m-322 12h9m66-8h9m21 6h9m1 0h9m-3 2h9m-7-1h9m4-2h9m-8-1h9m-6-2h9m3 4h9m-8 3h9m-4-6h9m-6 5h9m-8-7h9m-6 5h9m8 3h9m8-1h9m12 1h9m-5-6h9m2-1h9m16 5h9m-5-3h9m-198 15h9m3-1h9m-8-5h9m20-2h9m-6 4h9m7-4h9m30 0h9m6 1h9m73 4h9m10-3h9m163 4h9m-601 8h9m107-2h9m41 3h9m-7 0h9m33 4h9m4-9h9m-6 3h9m1 5h9m4-5h9m1-2h9m-7 7h9m-8-3h9m-9 2h9m-3-3h9m28-4h9m-6 2h9m41 5h9m-187 2h9m31 9h9m-2-8h9m20-1h9m5 4h9m4 4h9m-8-3h9m6 1h9m-1 3h9m64-1h9m-263 4h9m76 8h9m3-6h9m24-4h9m-3 4h9m-6-4h9m219 8h9m-358 6h9m3 0h9m34-2h9m19-2h9m18 5h9m10-1h9m22 2h9m43-4h9m-8 8h9m211-3h9m-895 7h9m467 1h9m117-3h9m-8-2h9m0 3h9m-117 7h9m60 10h9m26 0h9m64-5h9m-117 13h9m-1-6h9m6 1h9m52 0h9m-178 8h9m359 6h9m-334 8h9m322 4h9m-302 3h9m13 4h9m-339 8h9m178 6h9m38-2h9m163-6h9m-225 14h9m294-3h9m-282 8h9m175 6h9m39 3h9m-2 7h9m24-5h9m-778 12h9m210 2h9m82 3h9m176-3h9m145 2h9m119 0h9m11-5h9m-641 13h9m10-1h9m-3-1h9m6 2h9m2 2h9m278-4h9m83-1h9m24 2h9m39 0h9m13-1h9m24 3h9m0-7h9m-3 9h9m-9 1h9m9-4h9m-3 1h9m-762 12h9m36-5h9m29-3h9m49 5h9m-5 0h9m94 2h9m359-1h9m4 0h9m2 1h9m-2-1h9m-8 3h9m120-1h9m-781 4h9m105 4h9m-6-5h9m-6 2h9m2-1h9m2 6h9m33-2h9m-2-2h9m11-2h9m10 7h9m-2-6h9m119 0h9m72 2h9m126-5h9m8 5h9m23 3h9m0-1h9m4-1h9m17 1h9m-1-7h9m3 3h9m-7-2h9m-5-1h9m41 4h9m-714 7h9m-9 1h9m-4 2h9m11-5h9m11 2h9m22 3h9m6 0h9m2-4h9m-2 2h9m47 3h9m-3-2h9m14 1h9m-4 0h9m41-2h9m72 3h9m-8-5h9m159 8h9m3-7h9m48 4h9m-1-1h9m9 4h9m10-5h9m26 5h9m5 0h9m-4-2h9m22 2h9m2-7h9m-683 15h9m19 2h9m-3-4h9m21-1h9m-3 5h9m-4 0h9m11 0h9m-2-7h9m4-1h9m23 9h9m-3 0h9m2-9h9m-6 9h9m-7-1h9m-8-8h9m34 8h9m-3-6h9m60-1h9m99 5h9m21-1h9m10-2h9m-7 2h9m23-2h9m2 2h9m-3 1h9m-7 0h9m5-1h9m8-5h9m-7 4h9m-8 0h9m1 1h9m25 2h9m46-7h9m35 0h9m-711 15h9m-1 0h9m4 2h9m8 1h9m-7-1h9m-7-5h9m14 0h9m-6 6h9m2-2h9m-9-2h9m2-2h9m-4 2h9m6 3h9m-4-2h9m33 0h9m69-3h9m5 6h9m-3-1h9m13-7h9m0 2h9m18 4h9m102 0h9m34-5h9m25 5h9m-7 0h9m-3 1h9m-4-2h9m-2 1h9m21-5h9m4 4h9m8 4h9m6-7h9m18 6h9m14-1h9m17-2h9m19-6h9m-1 1h9m-7 3h9m-796 10h9m43-2h9m38 6h9m2-5h9m-3 1h9m15-2h9m-1 7h9m-8-4h9m-8 0h9m-5-1h9m-6-3h9m-8 7h9m0-4h9m17-2h9m-6 3h9m-6 2h9m0-5h9m-6 8h9m23-10h9m8 6h9m86-3h9m49-3h9m45 2h9m7-1h9m96-1h9m6 0h9m-3 7h9m-1 2h9m-8-6h9m14-1h9m-8-1h9m-4 2h9m12-3h9m-5 5h9m-7-4h9m-5 3h9m-4 0h9m3-2h9m0-1h9m20 8h9m46-6h9m85 5h9m-823 3h9m3 1h9m-7 4h9m-8-1h9m-5-4h9m0 1h9m-5 6h9m-5-3h9m-9 2h9m-2 0h9m14 2h9m-6 0h9m-5-2h9m-5-4h9m-5 2h9m1 4h9m-7-6h9m-6 6h9m-4-7h9m4-1h9m-3 4h9m-6 1h9m-8-6h9m-9 3h9m-5 4h9m1 2h9m-4-2h9m-8-4h9m-4 6h9m-9-1h9m-7-3h9m-3-3h9m8 7h9m4-3h9m13-4h9m-7-1h9m-7 8h9m61-7h9m19 7h9m1-8h9m-4 6h9m69-3h9m11 5h9m-7-4h9m40 0h9m0 5h9m-9-3h9m7-2h9m-3 0h9m-8 0h9m2-1h9m-9 0h9m1 6h9m8-7h9m-7 6h9m-9-7h9m-6 6h9m-8-2h9m-7 1h9m-4-4h9m1-1h9m12-1h9m1 8h9m12-3h9m-8 0h9m-5-4h9m35-2h9m-1 1h9m18 3h9m14 2h9m-9 2h9m76-4h9m-875 11h9m-4 5h9m17-3h9m3-5h9m-8 8h9m-5-3h9m-8-2h9m4-1h9m-8-4h9m16 8h9m1 0h9m-8-2h9m0-4h9m-6 6h9m-1 2h9m2 0h9m2-3h9m-3-3h9m-5 5h9m-7-3h9m1 2h9m-8-7h9m-9 7h9m-7 2h9m-9-3h9m-8-5h9m-7 0h9m-3-1h9m-9 8h9m-7-4h9m-8-4h9m-9 2h9m-9 0h9m-8-2h9m-6 6h9m3-7h9m-7 7h9m-1-5h9m-7 1h9m4 3h9m-8-6h9m-2 6h9m-3-5h9m14 4h9m-9 1h9m1-2h9m93 3h9m84-6h9m21 5h9m19-2h9m-4 4h9m9 0h9m1 1h9m9-2h9m2 0h9m-7-5h9m-9 4h9m-7-4h9m-4 6h9m-7-2h9m-4-1h9m-6 1h9m-1 0h9m14-5h9m6 2h9m-9 5h9m-6-3h9m-5 4h9m-2 1h9m-5-5h9m3-1h9m61 5h9m101-3h9m1-5h9m-836 16h9m0-3h9m15 5h9m-9-1h9m9-2h9m-4-1h9m-5 2h9m-8-2h9m-7 2h9m-3 2h9m5-3h9m0-4h9m-5 8h9m-7-8h9m2 5h9m-4-3h9m-8-2h9m-8 0h9m-8 4h9m-7-5h9m-8 3h9m-8 3h9m-1-2h9m-4 4h9m-4-8h9m1 6h9m-1-5h9m5 6h9m15-2h9m-6-3h9m7 4h9m-9 3h9m15-3h9m25-1h9m19 3h9m29 0h9m55-9h9m-7 1h9m5 4h9m1 0h9m-4 5h9m-4-6h9m-5-1h9m4 6h9m-4 0h9m27 0h9m-6-5h9m-4 5h9m7-6h9m-5 0h9m0 0h9m-7 2h9m-4 4h9m-9-3h9m-7 3h9m13-3h9m-2 4h9m-6-5h9m-8 5h9m1-3h9m-6-2h9m-9 3h9m-8-4h9m-6-1h9m-4 2h9m-8 1h9m-6 3h9m-9-2h9m-6 0h9m-4 1h9m-5-2h9m11 0h9m-2-6h9m-3 2h9m0 4h9m-5 4h9m-5-1h9m8-3h9m-3-5h9m0 5h9m-7-1h9m7 4h9m-9-7h9m33 4h9m41-5h9m30 7h9m-931 6h9m20-1h9m1 1h9m23 5h9m4-3h9m4-3h9m-2 4h9m-6-3h9m-6 2h9m-9-3h9m-4 4h9m-7-1h9m-8-5h9m-4 5h9m-1-4h9m-7 8h9m1-2h9m-2-6h9m7 2h9m-7 1h9m-8-4h9m-9 6h9m-4-3h9m14-3h9m-7 7h9m-8-4h9m-1 5h9m-5-7h9m-9 3h9m-7 3h9m-1-1h9m-4-2h9m-8-1h9m-9-1h9m-2 6h9m-3 1h9m-5-2h9m-3-2h9m-7 4h9m0-5h9m-6 0h9m-7 1h9m-4 0h9m14 2h9m-7-6h9m-5 0h9m0 0h9m2 1h9m232-3h9m-3 10h9m8 0h9m-7-3h9m1 0h9m-8-3h9m-8 5h9m-5-3h9m-7 3h9m-6-3h9m-9 4h9m1-6h9m-7-3h9m-3 3h9m-3 3h9m-5-5h9m-3 5h9m-7-5h9m-8 7h9m-4-5h9m-2 6h9m-6-9h9m-9 4h9m-4 3h9m1-5h9m-6 0h9m2 0h9m-3-1h9m-8 3h9m11 1h9m14-4h9m-8 3h9m-1 3h9m14 2h9m1-4h9m32-4h9m-790 15h9m-7 1h9m-7-6h9m-1-1h9m-3 2h9m7 4h9m11-6h9m1 0h9m4 5h9m9-2h9m0 3h9m-1-3h9m-3-4h9m-8 4h9m-6 6h9m-6-7h9m0 2h9m-5-4h9m-7-1h9m-9 7h9m-3-6h9m-5 8h9m-9 0h9m-4-8h9m-8 3h9m-2 4h9m-9-5h9m-8 4h9m-8-2h9m-8 3h9m-7-4h9m-9-4h9m-8 0h9m-4 3h9m-8 6h9m-6-8h9m-5 8h9m1-4h9m-1-3h9m-2 4h9m-8-4h9m-6 8h9m-7 0h9m6-1h9m5-1h9m-4-4h9m-8 2h9m25-5h9m-4 4h9m20-2h9m8 7h9m-1-10h9m125 6h9m21-3h9m-9 5h9m1-5h9m-9 2h9m-1 4h9m-2-4h9m-8 0h9m-6-2h9m-5 3h9m-6 2h9m-1 2h9m-6-5h9m-8-2h9m-6-2h9m-4 6h9m11-2h9m-7 2h9m20-6h9m11 2h9m-7 1h9m15 1h9m0-2h9m1-1h9m-8 1h9m-9 1h9m-9 6h9m2 0h9m28-4h9m65-1h9m-791 14h9m1-2h9m-8 1h9m-6-8h9m-9 8h9m-5-4h9m16 3h9m-3-2h9m-9 2h9m-7-3h9m-8 4h9m-9-8h9m-9 2h9m-6-2h9m-4 3h9m-8-1h9m-8 2h9m-8-3h9m-5 0h9m-8-1h9m-4 10h9m-9-5h9m-9 4h9m-3 0h9m-8-1h9m-8-3h9m5 4h9m-8-4h9m-9-4h9m-8 8h9m-1-4h9m-6 4h9m-9-3h9m-4-3h9m-6 2h9m-4 3h9m-9-3h9m-9-2h9m-7 6h9m-9-8h9m-7 1h9m-8 3h9m-6 1h9m-7-3h9m-8 4h9m-7 2h9m-9-8h9m-7 7h9m-6 1h9m3-2h9m-6-1h9m-7-5h9m-8 2h9m-1 2h9m-5 5h9m-8 0h9m-5-8h9m3 7h9m-8-5h9m-7 3h9m-5-3h9m-7-4h9m-5 6h9m-4 2h9m-4 0h9m13-4h9m1-4h9m-1 5h9m-5 4h9m-7-9h9m-7 8h9m-8 0h9m-2-2h9m6 2h9m-8-6h9m33 4h9m-4 3h9m95 0h9m-2-2h9m10 1h9m-6-2h9m24-3h9m10-1h9m1-2h9m-1 3h9m-1 5h9m-9-6h9m-6 3h9m-8-4h9m-9 1h9m-8 6h9m-9 0h9m-7-3h9m9 2h9m-8-4h9m-5-2h9m-8 6h9m-3-6h9m-4 6h9m0-3h9m-8 1h9m-1-1h9m3-1h9m1 1h9m11-4h9m-3 9h9m1-5h9m-5-3h9m1 0h9m-2 0h9m-726 14h9m26 1h9m10 1h9m-2-6h9m10 4h9m-4 4h9m-8-2h9m-3 1h9m-2-7h9m-5 3h9m-7 5h9m-7-1h9m-9-5h9m-6 6h9m-6-7h9m-8 0h9m-6 3h9m-2-3h9m-9 6h9m1-3h9m-8 4h9m3-3h9m-8-5h9m-9 9h9m-8-6h9m-4 2h9m-9 4h9m-8-10h9m-8 7h9m-5-2h9m-8-4h9m-8 5h9m-4 0h9m-4-1h9m-7-2h9m-8-1h9m-2 4h9m-8 0h9m-8-2h9m-3 2h9m-8 2h9m-8-4h9m-9-1h9m-7-2h9m-3 2h9m-8-1h9m-8 7h9m-6-6h9m-6 3h9m-1 2h9m-4 1h9m-6-3h9m-7 2h9m-2-7h9m-8 6h9m-5 1h9m-8-5h9m-6 1h9m-2 5h9m-7 1h9m-1-3h9m-7 0h9m-7-2h9m-3 3h9m3-1h9m-7-3h9m-7 5h9m-2-2h9m-3 0h9m-8 2h9m10-5h9m30 5h9m33 0h9m31-2h9m-2-5h9m8 3h9m3-4h9m5 4h9m2 3h9m6-7h9m9 2h9m8 7h9m-4-9h9m-5 4h9m3-2h9m-4 5h9m2-4h9m-6 3h9m-1-1h9m-3 2h9m-8-1h9m-4-3h9m15-3h9m4 5h9m20 0h9m1 0h9m5-6h9m1 1h9m55 0h9m-785 15h9m14-4h9m15 0h9m-9 8h9m-6-1h9m6-3h9m-7 4h9m-8-6h9m-2 1h9m-3-3h9m-4 0h9m-8 7h9m-6 1h9m-4-3h9m-5 1h9m-6-8h9m-5 1h9m-6 0h9m-8 3h9m-5 5h9m-6-1h9m-9-5h9m-5-2h9m-9 8h9m-8-6h9m1 7h9m-6-9h9m-6 0h9m-7 0h9m-6 0h9m-9 5h9m-5 0h9m-9-2h9m-9 0h9m-8-3h9m-8 5h9m-7 0h9m-3-1h9m-7-2h9m-4 0h9m-9 2h9m-9 2h9m-8-3h9m-5-2h9m-7 8h9m-4-6h9m-8-4h9m-9 4h9m-6-3h9m-6-1h9m-8 5h9m-8-2h9m-7 1h9m-8 3h9m-8 1h9m-7-3h9m-7-3h9m-8 2h9m-9-2h9m-5 1h9m-9-3h9m-9 2h9m-8 1h9m-7 5h9m-7-7h9m-8 2h9m-9 0h9m-5 1h9m-7-1h9m-8 4h9m-9-2h9m-7 4h9m-5-3h9m-8-6h9m-8 2h9m-9 8h9m1-7h9m-8 5h9m-2-2h9m6 0h9m-9-3h9m-7 2h9m-9-1h9m8-1h9m6-2h9m-8 6h9m-5 0h9m21-4h9m-7 2h9m-7-2h9m15 5h9m-8 0h9m-5-1h9m-2-3h9m82-1h9m0 6h9m13-5h9m0-2h9m19 6h9m-2-1h9m-7-7h9m31 3h9m10 6h9m-7-1h9m-7 1h9m-4-3h9m-1-3h9m8-3h9m-1 7h9m-9 0h9m0-3h9m-8-3h9m28 6h9m1-1h9m2-2h9m73 5h9m-754 2h9m-6 0h9m0 5h9m-4-1h9m-8-2h9m-9 5h9m-3-6h9m0 1h9m-3 2h9m-9 1h9m-5 0h9m-9-3h9m-7-1h9m-3 5h9m-6-1h9m0 2h9m-5-8h9m-9 9h9m-7 0h9m-7-7h9m-3 5h9m-5-2h9m-9-1h9m-7 0h9m-8-3h9m-9 6h9m-7-2h9m-7-4h9m-8 0h9m-8 0h9m-3 3h9m-2 4h9m-8 1h9m-9-8h9m-6 9h9m-8-5h9m-7-3h9m-7 0h9m-5-1h9m-6 0h9m-9 6h9m-7-3h9m-9 3h9m-7-4h9m-6 3h9m-8-4h9m-8 4h9m-4-4h9m-4 6h9m-8-7h9m-8 1h9m-9 3h9m-8-2h9m-7 2h9m-9 2h9m-8-1h9m-8 2h9m-9-2h9m-6-1h9m-9 0h9m-6 1h9m-9-2h9m-9 4h9m-9-5h9m-8 5h9m-6-4h9m-9 1h9m-7 3h9m-8-3h9m-8 5h9m-8-8h9m-7 8h9m-3-8h9m-7 0h9m-9 6h9m-8 0h9m-8-6h9m-5 6h9m-4 1h9m-8-8h9m-4 0h9m-7 0h9m-9 0h9m-7-1h9m-8 4h9m-8 0h9m-9 0h9m-8 4h9m-7-3h9m-4-3h9m-7-2h9m-9 4h9m-7-2h9m-4 0h9m-7 3h9m-8 5h9m11-6h9m-7-4h9m-5 6h9m-2 4h9m36-5h9m-4 3h9m-7-7h9m73 5h9m12-2h9m0 1h9m36-1h9m-7-1h9m-5 1h9m10 4h9m-9-4h9m-6 3h9m21 3h9m0-4h9m-6 0h9m6 3h9m0-4h9m-5-1h9m-6-1h9m19 2h9m-1 2h9m10 0h9m-3 1h9m14 0h9m21-5h9m138 3h9m-868 12h9m-6-2h9m-9-4h9m7 4h9m14 2h9m-9-2h9m-7 2h9m-5-3h9m-7-4h9m-1 8h9m-7-5h9m-7-2h9m5 6h9m-4-6h9m-6 4h9m-4-1h9m1-4h9m-5 0h9m-5 0h9m-8 7h9m-9-6h9m-6 1h9m-7 3h9m-5-3h9m-8 3h9m-7 4h9m-8-7h9m-4 2h9m-8 0h9m-9-2h9m-5-1h9m-9 6h9m-7-2h9m-9-6h9m-8 3h9m-5 4h9m-8-1h9m-7-1h9m-8 4h9m-4-5h9m-8-2h9m-8 0h9m-9 4h9m-6 4h9m-8-6h9m-5-1h9m-8-1h9m-8 5h9m-9-2h9m-4-1h9m-8 5h9m-8-6h9m-8 5h9m-8-4h9m-7-1h9m-9 5h9m-7-7h9m-6 9h9m-9-2h9m-7-3h9m-8 4h9m-7 0h9m-9-1h9m-6 1h9m-8-6h9m-8-1h9m-9 3h9m-8-3h9m-9 0h9m-6 2h9m-6 0h9m-6-4h9m-8 1h9m-9 1h9m-4 1h9m-9-1h9m-7 4h9m-8 1h9m-9 3h9m-6-9h9m-6 7h9m-9-1h9m-6 2h9m-7-3h9m-6-3h9m-7 6h9m-9-4h9m-6 0h9m-5-1h9m-8-1h9m-1-2h9m-8 3h9m-8 0h9m-8-3h9m-6 6h9m-9-1h9m-9-2h9m-8-3h9m-8 2h9m-8 0h9m-7-1h9m-2 1h9m-5 1h9m-4 0h9m-7 2h9m-5-1h9m-9 4h9m-8-2h9m-8-7h9m-1 6h9m-4-4h9m-7 6h9m-5-5h9m-3-3h9m-1 6h9m-1 2h9m4 0h9m-3-2h9m129 3h9m21-7h9m-4 5h9m14-4h9m34 4h9m4 0h9m0 2h9m-2-3h9m-6-4h9m16 3h9m61 2h9m26-5h9m77 7h9m75-8h9m-913 18h9m-4 1h9m-7-1h9m-8-8h9m-6 5h9m-5 1h9m-8 3h9m32-3h9m-8-3h9m-5-2h9m-7 5h9m-1 2h9m-5 0h9m-2-7h9m-8 4h9m-9-4h9m-8 6h9m-6-7h9m-8 3h9m-5 0h9m-7-1h9m-8 0h9m-8 6h9m-7-1h9m-7 0h9m-9-4h9m0-2h9m-8 6h9m-6-7h9m-7 3h9m-9 5h9m-8-1h9m-9-2h9m-7-6h9m-5 5h9m-7-3h9m-7 1h9m-8 3h9m-5 1h9m-9-5h9m-6 2h9m-6 4h9m-8 2h9m-9 0h9m-8 0h9m-8-2h9m-6-3h9m-9 1h9m-9-3h9m-7 2h9m-6 1h9m-8 0h9m-9-1h9m-8 2h9m-8-4h9m-8 2h9m-7-4h9m-9 1h9m-9-2h9m-9 7h9m-8 1h9m-5 1h9m-8-2h9m-8-3h9m-6 4h9m-9-3h9m-8 1h9m-8 2h9m-9-7h9m-9 4h9m-7-5h9m-6 3h9m-9-1h9m-8 8h9m-8-4h9m-6 2h9m-7-4h9m-8 2h9m-7-3h9m-9 0h9m-8-2h9m-9 4h9m-9-5h9m-7 5h9m-7 4h9m-8 0h9m-8-8h9m-8 1h9m-6-2h9m-8 8h9m-9-1h9m-9-4h9m-8-1h9m-6 1h9m-8 6h9m-9-3h9m-8-4h9m-9 5h9m-8-3h9m-7-3h9m-7 1h9m-3 1h9m-8 4h9m-8-5h9m-8 2h9m-5-4h9m-8 5h9m-9-2h9m-7 1h9m-6 0h9m-8 4h9m-3-7h9m-8 0h9m-9 7h9m-9 1h9m-8 1h9m-5-9h9m-5 4h9m-8-3h9m-8 5h9m-9-4h9m-6 6h9m-9-5h9m-8 6h9m-8-6h9m-7 6h9m-5-2h9m-6-5h9m-6 0h9m5 5h9m-4-3h9m-8-2h9m-9 5h9m-8 0h9m-5-5h9m-5 2h9m2 4h9m-9-2h9m-6 1h9m2-6h9m46 0h9m22 5h9m1 1h9m28-8h9m11 9h9m8 0h9m-7-1h9m-6-1h9m7-2h9m26-2h9m19 7h9m1-8h9m21 6h9m-2-3h9m18 5h9m4-7h9m-7-3h9m-6 9h9m60-8h9m-745 15h9m-8-4h9m17 5h9m-8-4h9m-7-2h9m6 8h9m1-2h9m3 3h9m-8-7h9m-7-1h9m-2-1h9m-8 0h9m-2 6h9m-8 1h9m-3 0h9m-7-8h9m-8 1h9m-3 1h9m-7-1h9m-6 2h9m-9 7h9m-8 0h9m-8-3h9m-9-1h9m-3 0h9m-8-3h9m1-3h9m-9 1h9m-3 1h9m-6 7h9m-5-8h9m-7 0h9m-8 1h9m-9-2h9m-9 3h9m-7 2h9m-7-4h9m-8 4h9m-7-2h9m-8 3h9m-9-6h9m-7 6h9m-7-4h9m-8 4h9m-8-1h9m-8-5h9m-9 1h9m-7 3h9m-8-1h9m-8 3h9m-5 0h9m-9 4h9m-9-4h9m-9 4h9m-9 0h9m-8-9h9m-9-1h9m-9 5h9m-6 0h9m-8-4h9m-9 7h9m-8 0h9m-9-2h9m-8 3h9m-6-4h9m-8-2h9m-9 4h9m-8 0h9m-9 2h9m-6-8h9m-9 0h9m-8 1h9m-8-1h9m-8 1h9m-7 3h9m-8-2h9m-8 5h9m-8-4h9m-7 3h9m-8-7h9m-9 1h9m-7 1h9m-9-1h9m-5 2h9m-9-1h9m-7 6h9m-7-5h9m-8-2h9m-7 0h9m-9 4h9m-9-3h9m-5 5h9m-8 0h9m-9-4h9m-8 5h9m-8-1h9m-9 1h9m-6-2h9m-8 0h9m-9-1h9m-8 0h9m-6 3h9m-9-5h9m-7 2h9m-8-2h9m-8-1h9m-9 1h9m-7-2h9m-8 1h9m-6-1h9m-9 5h9m-9-5h9m-8 5h9m-6-4h9m-7 7h9m-9 1h9m-7-3h9m-8-3h9m-6-1h9m-6 7h9m-7-9h9m-4 7h9m-8-2h9m-8-4h9m-6 4h9m-8 2h9m-7 1h9m-6-5h9m-7-4h9m-5 7h9m-8-1h9m-8 1h9m-8-1h9m-3-5h9m-4 6h9m0-3h9m-8-4h9m13 1h9m21 5h9m36 4h9m107-8h9m60-1h9m-2 8h9m-6-7h9m19 7h9m15-1h9m-3-7h9m13 8h9m-643 8h9m3-4h9m5 1h9m-4-4h9m-6 10h9m-6-10h9m-8 5h9m-4-5h9m-8 7h9m-8 3h9m-5-9h9m-7 5h9m-6-1h9m-6 0h9m-8 3h9m-7-6h9m-7 0h9m-8 0h9m-8 7h9m-5 0h9m-9 1h9m-2-7h9m-8 0h9m-6 5h9m-8-5h9m-8 1h9m2 1h9m-9-4h9m-7 4h9m-8 3h9m-8-2h9m-8-3h9m-8 5h9m-9-2h9m-7-4h9m-5 5h9m-8-5h9m-9 4h9m-9-6h9m-8 6h9m-4-4h9m-8 2h9m-9 4h9m-8-4h9m-6 4h9m-9-8h9m-8 5h9m-8 4h9m-6-2h9m-9-3h9m-8 5h9m-6-6h9m-3-3h9m-8 6h9m-8 2h9m-5-4h9m-6-4h9m-8 8h9m-8-4h9m-9 4h9m-7-1h9m-8-5h9m-8 1h9m-9 1h9m-9 1h9m-7 5h9m-8-1h9m-8-4h9m-4 3h9m-8-3h9m-9 0h9m-9 5h9m-8-5h9m-9 5h9m-9 0h9m-8-3h9m-6-7h9m-9 3h9m-8-2h9m-8 8h9m-8 1h9m-6-8h9m-8 3h9m-9-5h9m-7 5h9m-9-3h9m-7 4h9m-9 2h9m-8-6h9m-5 0h9m-8 6h9m-6-1h9m-9 1h9m-9-5h9m-9 0h9m-2 1h9m-9-3h9m-6 3h9m-8-2h9m-6 2h9m-9 5h9m-8-2h9m-7 0h9m-8 1h9m-9 0h9m-5-6h9m-7 2h9m-6-3h9m-9 6h9m-9-6h9m-6 7h9m-8-1h9m-8 1h9m-6-1h9m-9 1h9m-8-6h9m-7 5h9m-8-5h9m-7 7h9m-2-2h9m-9-6h9m-7 4h9m-8-3h9m-8 5h9m-4-5h9m-7 5h9m-7-2h9m-3-4h9m-8 5h9m-5 1h9m-9 1h9m-7-1h9m-4 1h9m2-7h9m-5 7h9m-4-8h9m0 7h9m-1 2h9m0-6h9m-9 5h9m2-7h9m2 6h9m10-6h9m-4 4h9m34 3h9m10-4h9m1 0h9m61 2h9m24-5h9m1 1h9m37 4h9m36 2h9m-3-7h9m32 1h9m50 0h9m-776 13h9m19 4h9m1 0h9m-1-2h9m-7-1h9m6 1h9m-5-3h9m-4 1h9m2 1h9m-4-5h9m-8 8h9m-9 1h9m-5-1h9m-7-6h9m-3 6h9m-7-7h9m-4 3h9m-3 5h9m-3-10h9m-9 3h9m-3 7h9m-8-10h9m-2 7h9m-8-2h9m-8 0h9m-8-5h9m-8 4h9m-6-1h9m-8 3h9m-8 0h9m-8-2h9m-8-3h9m-7 0h9m-8 3h9m-9-2h9m-8 1h9m-7 2h9m-7 0h9m-6 1h9m-8 2h9m-8 2h9m-9-7h9m-8 6h9m-7-5h9m-9 4h9m-8 2h9m-9-2h9m-7-7h9m-6 1h9m-9 5h9m-8-1h9m-7-5h9m-8 7h9m-9-3h9m-9-1h9m-8 4h9m-8 0h9m-8-1h9m-7-1h9m-9 1h9m-8-4h9m-9 3h9m-9-4h9m-8 5h9m-8-4h9m-7-2h9m-7 0h9m-8 3h9m-9 2h9m-6 0h9m-8-5h9m-9 2h9m-8 0h9m-7 0h9m-9 0h9m-8-1h9m-4 6h9m-5-7h9m-7 4h9m-4-2h9m-9 3h9m-6 3h9m-9-1h9m-9-7h9m-7 5h9m-9 2h9m-8-6h9m-9 7h9m-7-9h9m-8 3h9m-7 7h9m-9-4h9m-8 2h9m-9-6h9m-8 3h9m-6 0h9m-5-4h9m-9 9h9m-8-1h9m-6-8h9m-6 5h9m-7-5h9m-7 2h9m-8 7h9m-7-8h9m-8 8h9m-6-7h9m-8 4h9m-9-2h9m-7 4h9m-4-9h9m-9 5h9m-7-1h9m-9 1h9m-8 4h9m-2 1h9m-7-5h9m-6-4h9m-7 1h9m-8-1h9m-6 5h9m-8 3h9m-9-4h9m-2 4h9m-9-2h9m-8-6h9m-7 2h9m-3 7h9m-6-3h9m3 1h9m-1-3h9m-2-4h9m-5 5h9m4-5h9m-7 8h9m-5-2h9m42 1h9m115 1h9m-527 1h9m-6 4h9m7 4h9m2-8h9m7 6h9m-7 0h9m-2-6h9m2 6h9m-3-2h9m0 4h9m-8 0h9m-9-8h9m-7 4h9m-6 0h9m-4 5h9m-7-8h9m-4 5h9m-9 2h9m0-5h9m-7-3h9m-4 10h9m-5-5h9m-7-1h9m-7 2h9m-6-1h9m-5-2h9m-8 1h9m-8-3h9m-2 1h9m-8 2h9m-4 4h9m-9-5h9m-8 2h9m-8-3h9m-8 2h9m-8-2h9m-9 2h9m-8 6h9m-7-4h9m-9 1h9m-8 1h9m-6-8h9m-5 3h9m-7 0h9m-8-2h9m-9 8h9m-9-4h9m-7 3h9m-7 0h9m-9-2h9m-8 1h9m-8-3h9m-9 5h9m-8-1h9m-8 0h9m-9 1h9m-9-8h9m-8 7h9m-8-7h9m-9-1h9m-8 5h9m-8 4h9m-9-6h9m-9 5h9m-7-4h9m-7 1h9m-8-1h9m-8 0h9m-9-2h9m-9 4h9m-8 3h9m-9-4h9m-7 4h9m-8-3h9m-7-2h9m2 1h9m-9-1h9m-4 0h9m-7-4h9m-7 7h9m-6-7h9m-9 1h9m-7 6h9m-8-1h9m-7-2h9m-7-3h9m-7 8h9m-8-9h9m-8 9h9m-6-1h9m-4-8h9m-7 3h9m-8 7h9m-7-6h9m-8-4h9m-7 2h9m-9-1h9m-4 6h9m-8-1h9m-2-5h9m-6 3h9m-1 0h9m-4 1h9m-6-1h9m-8 4h9m-6-8h9m-7 4h9m-8 0h9m-9 1h9m-8-1h9m-8 1h9m-9-2h9m0-3h9m-8 7h9m0-2h9m0 3h9m-5-2h9m12-3h9m-6-2h9m87 1h9m9 4h9m113-4h9m81 0h9m242 7h9m-895 10h9m9-1h9m-7 1h9m2-4h9m-2 4h9m7-7h9m-9 7h9m-3-7h9m-6 1h9m-9-1h9m1 5h9m-7-1h9m-8-3h9m-7 4h9m-7-2h9m-6 0h9m-9-2h9m-7 6h9m-3-4h9m-3-1h9m-4 6h9m-6-1h9m-8-7h9m-9-1h9m-8 6h9m-6-5h9m-8 7h9m-6-8h9m-4 2h9m-8-2h9m-8 1h9m-8 2h9m-2-1h9m-7 1h9m-7-1h9m-5 6h9m-8-5h9m-9 6h9m-9-9h9m-9 6h9m-7-2h9m-9-3h9m-7-2h9m-9 2h9m-7 0h9m-5 8h9m-9-1h9m-8-2h9m-7-2h9m-9-2h9m-9-2h9m-8 1h9m-4 5h9m-8 1h9m-9-1h9m-5 0h9m-5 3h9m-9 0h9m-8-5h9m-9-3h9m-9-1h9m-8 1h9m-9 3h9m-8-3h9m-8 1h9m-8-2h9m-5 3h9m-9 1h9m-8 5h9m-8-5h9m-4 0h9m-7 0h9m-8 4h9m-7-4h9m-8-5h9m-8 4h9m-8-1h9m-8 0h9m-7 0h9m-9 6h9m-5 0h9m-8-3h9m-8 3h9m-8-3h9m-4-3h9m-9 1h9m-9 4h9m-8-4h9m-9 5h9m-7-4h9m-6-2h9m-7 0h9m-8 6h9m-6 0h9m-8-2h9m-9-4h9m-6 2h9m-8 0h9m-9-2h9m-3-3h9m-8 7h9m-5-5h9m-8 5h9m-8-2h9m-9 0h9m-8-4h9m-4 5h9m-9-5h9m-8 3h9m11 4h9m-4-6h9m-5 6h9m-8-7h9m31 5h9m10-3h9m-8 1h9m1-2h9m95 2h9m1 2h9m27 2h9m11-7h9m71 0h9m58 1h9m27 5h9m132-2h9m-817 8h9m-8 3h9m11 4h9m-1-3h9m3-7h9m-8 0h9m-9 8h9m-8-4h9m-7-3h9m6 8h9m-1-4h9m-8 2h9m-7 1h9m-8 2h9m-7-6h9m-9-4h9m-4 9h9m-3-2h9m-4-1h9m-9 2h9m-8-5h9m-9 3h9m-8 3h9m-9-5h9m-6-1h9m-8 6h9m-9 0h9m-8 1h9m-9-9h9m-9 2h9m-8-1h9m-8 3h9m-9-1h9m-6 4h9m-6-6h9m-9 1h9m-9 2h9m-6-1h9m-6-2h9m-8-1h9m-8 2h9m-7 0h9m-9 6h9m-8-7h9m-9-1h9m-6 4h9m-9-3h9m-9-1h9m-8 0h9m-9 6h9m-9-3h9m-7 1h9m-8 0h9m-8-4h9m-8 6h9m-7-5h9m-8 3h9m-8 2h9m-9-5h9m-8 2h9m-9-1h9m-8 1h9m-9-1h9m-6 5h9m-8-7h9m-4 3h9m-8 0h9m-9 4h9m-8 1h9m-9-3h9m-8-2h9m-9 3h9m-8-4h9m-9-1h9m-8 0h9m-9 5h9m-7-1h9m-7-5h9m-9 1h9m-9 0h9m-9 5h9m-8-2h9m-6-5h9m-7 0h9m-7 1h9m-7 4h9m-7-5h9m-9 10h9m-9-1h9m-8-2h9m-7 1h9m-9 1h9m-8-8h9m-7-1h9m-9 8h9m-9-1h9m-8-7h9m-6 9h9m-4-9h9m-8 4h9m-8-2h9m-1 1h9m-7 6h9m-8 0h9m-5-4h9m-8 0h9m-7 0h9m-7 1h9m24-1h9m4 0h9m-8-4h9m-6 0h9m-7 2h9m-7 2h9m-8 1h9m-5 1h9m-6 0h9m-9-6h9m32-1h9m3 5h9m36-4h9m3 0h9m100 8h9m43-8h9m6-1h9m10 9h9m44-1h9m17 0h9m183-5h9m-901 11h9m8 5h9m16-4h9m-1-2h9m4 6h9m-5-3h9m-7-3h9m5-1h9m-5-1h9m6 9h9m0-5h9m0 3h9m-8 1h9m-8-7h9m-9 5h9m-4-6h9m-5 0h9m-7 3h9m-8 6h9m-8-3h9m-6-6h9m-9 0h9m-7 0h9m-4 7h9m-5-2h9m-8 2h9m-8 0h9m-3-1h9m-5-3h9m-9 6h9m-5-9h9m-8 5h9m-5 2h9m-8 0h9m7-6h9m-8 3h9m-3 4h9m-9-4h9m-8-1h9m-9 5h9m-8-1h9m-6-5h9m-7 2h9m-7 5h9m-9-6h9m-8 2h9m-9 0h9m-6-3h9m-8-2h9m-8 3h9m-3 0h9m-8 5h9m-8-3h9m-8 1h9m-7 1h9m-7-3h9m-8-3h9m-9 8h9m-9-9h9m-8 7h9m-7 1h9m-8 1h9m-8-2h9m-8-1h9m-5-3h9m-7 5h9m-9-5h9m-7 4h9m-6 1h9m-8 0h9m-4-8h9m-4 2h9m-7 1h9m-9-1h9m-7 7h9m-3-2h9m-8-3h9m6-2h9m-9 2h9m-7 3h9m0-5h9m-5 4h9m8 3h9m-5-8h9m-6 1h9m-4 4h9m-4 0h9m-1 0h9m-4-6h9m-5-1h9m-6 7h9m57 3h9m182-7h9m23-2h9m196 5h9m21-2h9m-844 12h9m-3 1h9m0-2h9m6-5h9m-7 6h9m-1 3h9m-2 1h9m-3-6h9m-3-2h9m-7 3h9m3 4h9m-5 0h9m-6-4h9m-3 4h9m-8 1h9m-8-1h9m-6-5h9m-7-2h9m-8-1h9m-1 6h9m-9-2h9m-8 2h9m-7-1h9m-9-6h9m1 10h9m-5-7h9m-9 1h9m-7-3h9m-8 3h9m-8-2h9m-5 5h9m-2-1h9m-9-1h9m-9 2h9m-8 1h9m-9 1h9m-7-5h9m-8-2h9m-8 2h9m-8 3h9m-8-5h9m-7 0h9m-9 4h9m-6 0h9m-5-6h9m-9 3h9m-8-1h9m-6 8h9m-7-8h9m-8 2h9m-8 0h9m-7-2h9m-6 7h9m-8-5h9m-8 2h9m-5 3h9m-9-7h9m-8 3h9m-8 2h9m-8-2h9m-7 0h9m-8-3h9m-7 7h9m-7-2h9m-7 0h9m-7-1h9m-7 1h9m-7 2h9m-6 0h9m-6-3h9m-9-4h9m-9 2h9m-9 5h9m1-9h9m5 7h9m-3 2h9m-6 0h9m-9-6h9m-5 7h9m-7-9h9m-6 4h9m-7 4h9m-5-5h9m-3 4h9m-8 0h9m-7-3h9m-9-1h9m-2 1h9m0 1h9m-5-6h9m-5 10h9m-6-3h9m3 0h9m-7 0h9m-6 2h9m28-6h9m31-2h9m52 3h9m106-1h9m86 6h9m-661 8h9m0-1h9m-7-3h9m13-2h9m-6 5h9m-1 1h9m12 1h9m-8-5h9m-5-3h9m10 2h9m-3-1h9m-3 6h9m-8-4h9m-8 2h9m-6-5h9m-7 4h9m-8 6h9m-6-8h9m-8 5h9m-5-4h9m-9 5h9m-7 1h9m-5-8h9m-5 0h9m-8 3h9m-6-1h9m-6-1h9m-9 1h9m-8 4h9m-7 2h9m-3-2h9m-7-6h9m-3 8h9m-7-7h9m-9 1h9m-4 5h9m-6-6h9m-6 3h9m-8-3h9m-8 7h9m-3-5h9m-7 1h9m-5 0h9m-4-1h9m-7-4h9m-9 3h9m-6 4h9m-9 2h9m-9-9h9m-8 3h9m-8 4h9m-3 1h9m-8-3h9m-8-3h9m-5 4h9m-9 0h9m-7-4h9m-3-2h9m-5 5h9m-9-1h9m-6-2h9m7 4h9m-1-5h9m-5 2h9m-1 0h9m23 7h9m-6 0h9m16-6h9m181 3h9m96 2h9m-628 4h9m4 7h9m13-3h9m13 0h9m19 2h9m-3-3h9m-7 3h9m1-2h9m-3 3h9m-3-2h9m-7-5h9m-8 6h9m-7 1h9m-9-3h9m-8 1h9m-7-2h9m-6-3h9m-9 2h9m-6-1h9m-9-2h9m1 5h9m-6-1h9m-8-2h9m-7 1h9m-8-5h9m-4 0h9m1 7h9m-9 1h9m-5 2h9m-8-9h9m-9 1h9m-9 0h9m-3 8h9m1-3h9m-4 0h9m-7-7h9m0 6h9m-4 3h9m-5-7h9m-6-1h9m-7 7h9m-9 2h9m2-5h9m-2-1h9m-4 6h9m-6-6h9m-5 3h9m-7-4h9m-5-3h9m-3 10h9m-3-4h9m-8-1h9m-6 2h9m-7-2h9m-5-5h9m13 6h9m-7 1h9m-5-5h9m-7 2h9m-4 1h9m65-1h9m-4 3h9m41-5h9m297 4h9m56-5h9m10 1h9m-820 15h9m-4-3h9m31 6h9m-7-3h9m-5-6h9m15 4h9m-7-3h9m-7 8h9m0-9h9m-2 1h9m-8 6h9m-8-7h9m-2 2h9m-8 4h9m-7-4h9m3 7h9m-7-7h9m-6 5h9m-6-5h9m-7 6h9m-8-1h9m-9-2h9m-4 0h9m-6 1h9m-5-2h9m-4 1h9m-6-5h9m-6 2h9m-8 4h9m-8-5h9m-5 5h9m-7-2h9m-7 0h9m-9-2h9m-5 3h9m-8-1h9m-6 1h9m-6-4h9m-8 3h9m-9 2h9m-6-6h9m-7 9h9m-9-6h9m-3 6h9m-9 0h9m-7-1h9m-3-7h9m-5-1h9m-8 5h9m-8 0h9m-9-3h9m-8 3h9m-8-5h9m-8 4h9m-8-5h9m-7 5h9m-6-3h9m-7 0h9m-6 0h9m-6 0h9m-7-1h9m-8 0h9m-4 2h9m-9-2h9m-8 0h9m-4 4h9m-3-2h9m-1 5h9m-6-2h9m-5-5h9m-9 6h9m-7 1h9m-5-8h9m-6 7h9m14 2h9m-8-7h9m6 6h9m-8-7h9m-4 0h9m21 7h9m-1-7h9m13 2h9m20 7h9m100-8h9m184 1h9m125-2h9m-839 11h9m10-1h9m-3 4h9m-8 0h9m-6 0h9m-6-4h9m5 5h9m-8-5h9m-1-1h9m5 5h9m-6 3h9m-5-1h9m-7-5h9m-1 7h9m-7-6h9m-7 2h9m-5 5h9m-1-6h9m-3 1h9m2-4h9m2 5h9m-8-4h9m-8 4h9m-3-6h9m-8 0h9m-7 8h9m-5-3h9m-2 3h9m-6-2h9m-6 0h9m-3-6h9m-8 8h9m-8-6h9m-4 7h9m-1-6h9m-4 7h9m-9-6h9m5 5h9m-8-3h9m1 1h9m-4-4h9m-7 6h9m-1-7h9m-8 6h9m-4 1h9m-6-5h9m-9-3h9m-7 1h9m-8-1h9m-7 8h9m-6-7h9m-6 5h9m2 0h9m-7 2h9m6-1h9m2 0h9m-4 1h9m3-6h9m0 2h9m1-1h9m314 4h9m61-5h9m114-1h9m-871 15h9m12-5h9m-4 5h9m12 1h9m-9-3h9m7-1h9m2 1h9m-1-3h9m9 7h9m-8-5h9m-8-1h9m2 0h9m-6 0h9m-2 0h9m-8 7h9m-5 0h9m-9-9h9m4-1h9m8 4h9m-4-2h9m4 3h9m-4-1h9m-7-3h9m-1 0h9m-5 4h9m-6 1h9m2-3h9m-3 0h9m-7-2h9m7 6h9m0-4h9m-8 1h9m-5 0h9m-8-2h9m3 1h9m-6 1h9m-8 5h9m-7 0h9m-5-9h9m-3 5h9m3 0h9m-6 1h9m1 4h9m2-10h9m72 4h9m55 5h9m56-7h9m116 8h9m-652 1h9m4 0h9m-3 1h9m29 4h9m16 0h9m8-2h9m-5 6h9m-9-4h9m0 4h9m10-6h9m4 4h9m-2 1h9m-9-8h9m-8 2h9m7 0h9m-7 1h9m-9-1h9m-8 3h9m-5 1h9m-7 2h9m-8-9h9m-9 10h9m-7-6h9m-8 4h9m-5-2h9m-8-1h9m-7 2h9m-9-5h9m-7 0h9m-3 3h9m8-4h9m-8 2h9m-5 3h9m0-3h9m-3-1h9m-9-1h9m-7 6h9m-7 1h9m5-2h9m-8 1h9m28-1h9m-9-1h9m-5-2h9m8 4h9m10 3h9m3-6h9m1 2h9m3-3h9m67 1h9m207-1h9m104 3h9m-733 8h9m21 4h9m7-2h9m-7 2h9m-1 1h9m-9-3h9m-5 1h9m-2 2h9m-3-8h9m0 2h9m-1 0h9m-8 2h9m-4-3h9m4 2h9m-7-4h9m1 4h9m-6-2h9m3 5h9m-7-2h9m1-2h9m-8 6h9m-8-1h9m0 2h9m-7-7h9m-8 5h9m11-5h9m-6 5h9m-7-2h9m-7 0h9m-6 1h9m-8 3h9m-5-8h9m-5 8h9m-8-6h9m-9 3h9m9 1h9m-7-3h9m6 3h9m-3-7h9m-9 2h9m-1 7h9m6-3h9m10-2h9m0 2h9m-7-3h9m-2 2h9m-1 2h9m37 2h9m21-6h9m-8-1h9m-443 8h9m41 6h9m2-2h9m12 4h9m-3 1h9m-4-9h9m-7 2h9m37 1h9m1-4h9m-1 6h9m0 1h9m-9 0h9m4 1h9m-8-1h9m-9-1h9m-4 0h9m-8 4h9m-6-7h9m-8-1h9m-4 0h9m-7 7h9m-5 1h9m4-2h9m-7-6h9m-5 0h9m-2 1h9m-6 6h9m-7-7h9m-4 7h9m-7-2h9m-3-2h9m-2-1h9m3-3h9m-1 0h9m6 2h9m-1 1h9m-7 6h9m-5-2h9m-7-4h9m-6 4h9m3-2h9m-6-4h9m26 6h9m-7-5h9m39 6h9m28-7h9m235 0h9m159-1h9m-7 9h9m75-1h9m-7-3h9m-947 5h9m17 7h9m19-4h9m14 1h9m-1-2h9m0-1h9m6 1h9m-9-1h9m-4 4h9m1 2h9m4-4h9m3 1h9m-4 3h9m-2-2h9m8 0h9m-1-1h9m-7-1h9m-8 3h9m-1-3h9m-3-1h9m-7 1h9m-2 1h9m-7 3h9m-5-6h9m6 1h9m8 5h9m-8-2h9m-4-4h9m-8-2h9m2 2h9m34 6h9m5 0h9m-7-7h9m1 4h9m44-3h9m9 7h9m119-3h9m193-1h9m101 0h9m-852 12h9m103-6h9m4 5h9m-8-6h9m-7 1h9m1 0h9m-6 0h9m-3 5h9m-8 1h9m-6-6h9m-3 6h9m14-7h9m-7 10h9m-6-4h9m-6-1h9m-7 0h9m8 2h9m-8-6h9m-2-1h9m-7 5h9m0 2h9m-5 0h9m25-5h9m-4 5h9m32-1h9m2 3h9m6-4h9m-5-2h9m15 3h9m6-5h9m114 3h9m405-3h9m-900 14h9m28-4h9m10 5h9m-1-6h9m-8 10h9m77-7h9m-6 1h9m-4-2h9m11 4h9m10-4h9m-6 6h9m-5-1h9m4-4h9m3 2h9m7 3h9m9-4h9m29-3h9m-8 4h9m6 1h9m25 1h9m203-7h9m148 7h9m-1-6h9m60 5h9m68-3h9m-914 10h9m-1 1h9m44 2h9m14-4h9m-8 2h9m-7-1h9m-9 1h9m14 4h9m59 1h9m-4-3h9m2-2h9m-5 0h9m-1 3h9m7-3h9m19-2h9m0 1h9m4 5h9m-5-1h9m6-2h9m8-4h9m45 1h9m30 6h9m337 1h9m35 0h9m-3-8h9m-813 9h9m97 8h9m28 1h9m-3-3h9m-4-1h9m-3-1h9m-5 2h9m1-2h9m3-1h9m-3 0h9m-5-2h9m-2 1h9m-6-1h9m38 3h9m159 2h9m67 1h9m54-6h9m131 4h9m218 0h9m-755 10h9m18 4h9m-3-3h9m54-5h9m-2 1h9m-5 6h9m18-6h9m18 1h9m14-2h9m27 3h9m328 3h9m191-3h9m-928 11h9m13 2h9m22-2h9m42-4h9m-6 3h9m6-1h9m-7 4h9m10-6h9m10 2h9m86-1h9m2 6h9m50-1h9m24-2h9m21 4h9m46-2h9m1 0h9m215-3h9m167-4h9m-778 15h9m79 4h9m297 0h9m103-8h9m20 7h9m25-4h9m8-1h9m138 6h9m32-6h9m-745 16h9m5-1h9m22 2h9m22-1h9m2-7h9m6 2h9m45-1h9m-2 2h9m114-2h9m283 4h9m-706 9h9m5-1h9m-8-4h9m147 6h9m161-6h9m-7 6h9m13-3h9m-1-3h9m31 4h9m39-4h9" stroke="#1a1a1a" stroke-opacity="0.55" stroke-width="9" fill="none"/>
<rect x="142" y="624.6" width="97.6" height="91.19999999999993" fill="none" stroke="#555" stroke-width="0.9"/>
<line x1="189.5" y1="624.6" x2="189.5" y2="715.8" stroke="#333" stroke-width="1.3"/>
<line x1="142" y1="672" x2="239.6" y2="672" stroke="#333" stroke-width="1.3"/>
<rect x="134" y="623.9" width="4" height="1.4" fill="#bbb"/>
<line x1="139.5" y1="624.6" x2="142" y2="624.6" stroke="#888" stroke-width="0.6"/>
<rect x="134" y="646.6999999999999" width="4" height="1.4" fill="#bbb"/>
<line x1="139.5" y1="647.4" x2="142" y2="647.4" stroke="#888" stroke-width="0.6"/>
<rect x="134" y="669.5" width="4" height="1.4" fill="#bbb"/>
<line x1="139.5" y1="670.2" x2="142" y2="670.2" stroke="#888" stroke-width="0.6"/>
<rect x="134" y="692.3" width="4" height="1.4" fill="#bbb"/>
<line x1="139.5" y1="693.0" x2="142" y2="693.0" stroke="#888" stroke-width="0.6"/>
<rect x="164.4" y="720.0999999999999" width="4" height="1.4" fill="#c4c4c4"/>
<rect x="188.8" y="720.0999999999999" width="4" height="1.4" fill="#c4c4c4"/>
<rect x="213.2" y="720.0999999999999" width="4" height="1.4" fill="#c4c4c4"/>
<rect x="237.6" y="720.0999999999999" width="4" height="1.4" fill="#c4c4c4"/>
<path d="M140.6,624.6h1.4M140.6,627.5h1.4M140.6,630.3h1.4M140.6,633.1h1.4M140.6,636.0h1.4M140.6,638.9h1.4M140.6,641.7h1.4M140.6,644.5h1.4M140.6,647.4h1.4M140.6,650.2h1.4M140.6,653.1h1.4M140.6,656.0h1.4M140.6,658.8h1.4M140.6,661.6h1.4M140.6,664.5h1.4M140.6,667.4h1.4M140.6,670.2h1.4M140.6,673.0h1.4M140.6,675.9h1.4M140.6,678.8h1.4M140.6,681.6h1.4M140.6,684.4h1.4M140.6,687.3h1.4M140.6,690.1h1.4M140.6,693.0h1.4M140.6,695.8h1.4M140.6,698.7h1.4M140.6,701.5h1.4M140.6,704.4h1.4M140.6,707.2h1.4M140.6,710.1h1.4M140.6,712.9h1.4M140.6,715.8h1.4" stroke="#ccc" stroke-width="0.4"/>
<path d="M142.0,715.8v1.4M145.1,715.8v1.4M148.1,715.8v1.4M151.2,715.8v1.4M154.2,715.8v1.4M157.2,715.8v1.4M160.3,715.8v1.4M163.3,715.8v1.4M166.4,715.8v1.4M169.4,715.8v1.4M172.5,715.8v1.4M175.6,715.8v1.4M178.6,715.8v1.4M181.7,715.8v1.4M184.7,715.8v1.4M187.8,715.8v1.4M190.8,715.8v1.4M193.8,715.8v1.4M196.9,715.8v1.4M199.9,715.8v1.4M203.0,715.8v1.4M206.1,715.8v1.4M209.1,715.8v1.4M212.1,715.8v1.4M215.2,715.8v1.4M218.2,715.8v1.4M221.3,715.8v1.4M224.3,715.8v1.4M227.4,715.8v1.4M230.4,715.8v1.4M233.5,715.8v1.4M236.6,715.8v1.4M239.6,715.8v1.4" stroke="#ccc" stroke-width="0.4"/>
<rect x="143.3" y="626.0" width="3.6" height="2.4" fill="#999"/>
<rect x="190.8" y="626.0" width="3.6" height="2.4" fill="#999"/>
<rect x="143.3" y="673.4" width="3.6" height="2.4" fill="#999"/>
<rect x="190.8" y="673.4" width="3.6" height="2.4" fill="#999"/>
<path transform="scale(0.1)" d="M0 0m2767 6295h9m471-4h9m-243 10h9m335-6h9m-6 28h9m-95 18h9m-322 15h9m469 5h9m-847 11h9m375 0h9m-189 11h9m326 24h9m124 2h9m105 4h9m-282 10h9m75-8h9m196 3h9m-678 15h9m167-2h9m231 1h9m40-6h9m-540 14h9m475-3h9m1 8h9m-8-6h9m-491 14h9m428 2h9m-6-3h9m-1 1h9m58 0h9m-9 1h9m71 10h9m-190 10h9m23-6h9m1 6h9m-98 9h9m88-7h9m54 7h9m97 1h9m-229 9h9m56-5h9m0 3h9m-9-2h9m16-1h9m-66 15h9m8-2h9m12 3h9m83-2h9m-138 5h9m16 3h9m1-2h9m-6 1h9m-2 0h9m-9 6h9m-6-1h9m-7-5h9m6 0h9m15 2h9m-187 7h9m9 3h9m22 0h9m5 4h9m44-5h9m-9 0h9m2 3h9m-7-4h9m4 2h9m179-3h9m13 7h9m-525 3h9m-7-1h9m72 4h9m88-5h9m49 4h9m28 4h9m-8-4h9m-6-2h9m-312 13h9m23-1h9m20-5h9m35 2h9m6 5h9m52-3h9m74 3h9m0-6h9m-6 6h9m-4-5h9m-7 5h9m-7-4h9m-4 7h9m6-4h9m-6 0h9m17-5h9m7 8h9m-7 0h9m18-4h9m19-1h9m-490 14h9m328-6h9m-5 4h9m11 1h9m-4 1h9m-6-1h9m14 2h9m3 1h9m-9-5h9m-8-5h9m-7 1h9m20 2h9m-3 6h9m3 0h9m-7-2h9m-8 2h9m-344 9h9m90-2h9m34-2h9m4-1h9m36 6h9m24-6h9m4 4h9m-1 1h9m-6-3h9m10-5h9m-6 4h9m3 2h9m-9 4h9m-4-1h9m-3 1h9m-9-9h9m6 6h9m-7-3h9m75-3h9m14 1h9m126 5h9m-718 10h9m11-1h9m79 3h9m95-6h9m3 5h9m132-7h9m7 7h9m-9-6h9m-7 8h9m4-6h9m-7 0h9m7 3h9m-8-5h9m18 3h9m19-1h9m-400 10h9m55 4h9m11 1h9m-5-6h9m117 6h9m41-5h9m-8-2h9m1 3h9m3 2h9m2-6h9m-5 1h9m-5 4h9m-1 0h9m-7-2h9m-4 5h9m-8-6h9m7-2h9m5 8h9m-6-4h9m-5-1h9m0-2h9m-411 9h9m12 0h9m30 6h9m109-6h9m39 2h9m52-2h9m31-1h9m-8 3h9m-5 1h9m-6-1h9m-2-1h9m-8 4h9m-5 3h9m-7-8h9m-9 4h9m8 2h9m10 1h9m-3-2h9m-9 2h9m-9-3h9m-2 0h9m-7-5h9m-6 4h9m-6 5h9m-7-6h9m22 7h9m181 0h9m-621 6h9m89 1h9m104-2h9m81 4h9m9-7h9m-8 4h9m6-1h9m2 5h9m-6-6h9m-8-4h9m-4 7h9m-7 0h9m3 1h9m-4-1h9m-7 2h9m6-3h9m-7 4h9m-7-6h9m8-1h9m205 6h9m-707 2h9m200-1h9m33 8h9m85-3h9m12 1h9m10-5h9m-4 0h9m3 4h9m25 1h9m20 3h9m28-2h9m-464 9h9m43 1h9m41-4h9m12 2h9m34 2h9m80 0h9m69-1h9m-2-5h9m0 1h9m9-2h9m1 1h9m-9 0h9m-8 0h9m-3 6h9m4-1h9m-6-2h9m-2 5h9m-4-2h9m-5-4h9m-7 0h9m0-2h9m17 1h9m140-1h9m-659 13h9m44-2h9m157 5h9m153-2h9m10 0h9m18-1h9m-6-2h9m-7-1h9m-7 0h9m-6-1h9m2 8h9m2-2h9m-7 2h9m-7-5h9m-1 7h9m-8-1h9m-623 2h9m342-1h9m-7 6h9m21-6h9m7 6h9m100 0h9m9 1h9m-7-2h9m0-4h9m-5 6h9m-2-4h9m-6 4h9m6 1h9m6-1h9m-6-3h9m-6-2h9m-5 3h9m-7-3h9m-7 3h9m-5 1h9m1-3h9m98-3h9m-546 15h9m35-2h9m33-3h9m1 3h9m1 5h9m84-6h9m11 7h9m-8-3h9m20 4h9m30 0h9m16-2h9m6-7h9m4 6h9m-7-6h9m-2 4h9m3-3h9m-7-2h9m4 6h9m-2-2h9m-7 2h9m-9 2h9m-6-2h9m2-5h9m11 3h9m-7-1h9m54 3h9m-627 13h9m169-6h9m24 1h9m59 0h9m-9 6h9m133-3h9m40-6h9m4 1h9m-2-1h9m5 9h9m8-9h9m6 0h9m1 1h9m-8 0h9m22 4h9m-458 12h9m20-3h9m17 1h9m24 1h9m9-4h9m65 0h9m30 2h9m9 0h9m3 1h9m76-1h9m1-3h9m-6 8h9m-5-9h9m8 9h9m6-4h9m-6-3h9m7 5h9m-8-2h9m-7-2h9m31 4h9m-533 6h9m13 0h9m12 6h9m-5-9h9m89 3h9m3 1h9m108 4h9m69-1h9m59 1h9m-5-3h9m-8 2h9m0-5h9m11-1h9m15 8h9m-5-9h9m24 8h9m-5-5h9m-662 10h9m70-3h9m196 7h9m34-7h9m-9 3h9m56-3h9m-3 2h9m27-1h9m-5 7h9m163 1h9m-4-1h9m0-7h9m6 5h9m26-2h9m-596 13h9m37-1h9m171-6h9m33 7h9m1-1h9m131-1h9m24-4h9m19 0h9m24-2h9m32 7h9m7-3h9m-9-3h9m16 3h9m3-3h9m3 9h9m-636 7h9m-7-4h9m-2 5h9m59-1h9m27-6h9m158 5h9m-9-1h9m191-1h9m-8 6h9m-1-3h9m-2-6h9m47 0h9m3 4h9m-5 0h9m78 3h9m-648 11h9m6 0h9m89-2h9m24-5h9m11-2h9m127 6h9m48-5h9m24 4h9m56 5h9m1-7h9m4-1h9m5 4h9m22 0h9m-8-1h9m28-1h9m-600 10h9m13 4h9m10 0h9m-5-6h9m60 5h9m8 2h9m89 1h9m236-9h9m-6 8h9m74-1h9m-6-6h9m-4 4h9m-653 5h9m35 4h9m27-3h9m3 7h9m22 0h9m45-9h9m-6 0h9m5 0h9m3 5h9m28-3h9m33-2h9m-1 5h9m-5 0h9m34 1h9m-4-6h9m11 1h9m135 2h9m30 1h9m18 3h9m6-4h9m5-1h9m69 4h9m6-3h9m-8-1h9m60 2h9m30 3h9m126-5h9m-873 10h9m6 3h9m51-1h9m17 3h9m-8-5h9m9 1h9m-2 5h9m-2-2h9m-5 1h9m-8 1h9m5-7h9m12 7h9m66-3h9m1 1h9m87 3h9m31-4h9m-8-4h9m45 8h9m35 0h9m-8-5h9m-5 6h9m-1-4h9m4 3h9m12-2h9m-1 0h9m-1-3h9m-3 5h9m-4-8h9m-4 1h9m17 1h9m45 6h9m15-6h9m-7-1h9m139 0h9m-861 8h9m-6 5h9m58 2h9m16 1h9m22 1h9m-5-7h9m86-2h9m36 9h9m14-6h9m57 7h9m6-1h9m29 0h9m37-8h9m24 6h9m33-4h9m4 2h9m-4 1h9m-8 3h9m-5-5h9m16 2h9m-4 1h9m-7 1h9m-2-4h9m-2 3h9m-5 0h9m31-5h9m0 1h9m-6 1h9m7 5h9m13-7h9m-2 1h9m57 0h9m99 4h9m-910 11h9m7-4h9m14 4h9m2-2h9m6 0h9m-7-4h9m2 5h9m15 1h9m-5-4h9m-1-4h9m1 6h9m-1 3h9m6 0h9m-5-4h9m-3-1h9m4 4h9m-6-8h9m-9 2h9m2 7h9m-7 0h9m15-3h9m-9-4h9m12 3h9m36-1h9m72 4h9m-3-5h9m62 5h9m6-3h9m35-3h9m14-2h9m1 9h9m-2-2h9m-2 1h9m2-5h9m-2 6h9m1-6h9m-1 3h9m-9 4h9m-2-9h9m-9 4h9m-3-1h9m-7 2h9m-3 0h9m-8-2h9m-7-1h9m-7-1h9m3 6h9m-5 0h9m-3-7h9m-2 7h9m-4-1h9m-2 2h9m-5-7h9m-4 0h9m-9 1h9m-2-1h9m-1 8h9m2-3h9m-7-4h9m12 5h9m-8 1h9m7-4h9m43 1h9m19 3h9m-814 2h9m-8-1h9m4 9h9m14-4h9m29 3h9m-3-3h9m11 2h9m-6-3h9m14 6h9m-9-5h9m7-3h9m-6 6h9m0-6h9m7 7h9m-7 0h9m-6 1h9m12-6h9m10-1h9m8 3h9m0-5h9m-9 0h9m-6-1h9m-8 2h9m22 6h9m-3 1h9m21-1h9m25-6h9m144-1h9m24 4h9m8-5h9m-8 1h9m-9 3h9m-9-2h9m-5 0h9m-8 2h9m-5 1h9m-8 2h9m-9-3h9m-5-4h9m-4 1h9m-2 8h9m-1-8h9m-4 6h9m-6-4h9m-8 6h9m0-1h9m-6-5h9m3-3h9m-1 9h9m-8-2h9m-9-4h9m1 3h9m-8 2h9m1-1h9m-8 3h9m-1-7h9m2-1h9m2 3h9m-7-1h9m4 5h9m-5-8h9m10 1h9m0-2h9m-5 4h9m29-3h9m-793 16h9m14-6h9m36 8h9m9 1h9m14-9h9m-7 0h9m6 2h9m10 1h9m-4 1h9m8-4h9m6 1h9m-1 5h9m-9-2h9m37-3h9m11 5h9m2-3h9m6-2h9m12 3h9m4 1h9m6-2h9m-2-2h9m-6 8h9m17-7h9m-1 6h9m107-9h9m18 2h9m-7-2h9m2 4h9m-8-2h9m-7 3h9m6-3h9m-7 2h9m2 4h9m-4 2h9m-5-4h9m-8-1h9m-3-2h9m-6 0h9m-8-1h9m10-2h9m-8 2h9m-3 1h9m-8 1h9m-8 3h9m-6-2h9m-8 0h9m-7 4h9m-6-7h9m-6 0h9m0 0h9m-8 2h9m-8-2h9m-4 0h9m-4 5h9m-8-5h9m-9 5h9m-7 3h9m-9-1h9m-4-6h9m-8-2h9m-9 0h9m-4 4h9m-4 4h9m-4 0h9m-7 1h9m-7 0h9m-7-9h9m-5 0h9m-4 0h9m1 0h9m3 3h9m1 0h9m-6 0h9m1-3h9m9 5h9m6 4h9m25-9h9m-806 15h9m41-5h9m-3 4h9m10 4h9m43-5h9m-1 3h9m0 2h9m-3-7h9m-9 5h9m10 1h9m-8-2h9m-3-4h9m29 6h9m2-1h9m18-3h9m-8 0h9m-7-2h9m-5 4h9m-8 1h9m1 1h9m25 2h9m-7-8h9m46 4h9m2 0h9m134-1h9m-1-2h9m10 0h9m-7 7h9m-8-6h9m5-3h9m9 1h9m-6 6h9m-5-4h9m2 5h9m-3-9h9m-8 5h9m-7-5h9m-8 9h9m-4-9h9m-8 9h9m-7-3h9m-3-1h9m-6 4h9m-4-7h9m-9-1h9m-6-1h9m-7 5h9m-7-1h9m-3 5h9m-8-4h9m-6 0h9m-9-1h9m-5 1h9m-8 1h9m-8-2h9m-8 2h9m-6 0h9m-9 2h9m-3-5h9m-6 4h9m-8 2h9m-7-7h9m-9 0h9m-7 5h9m-9-6h9m-8 1h9m-6 6h9m-5-4h9m3 0h9m2-3h9m-4 0h9m-3 5h9m-6 0h9m-8 3h9m0 0h9m11-1h9m0-3h9m-4 5h9m-787 9h9m14 0h9m15-6h9m-3 1h9m-8 5h9m14 0h9m9-2h9m-6-7h9m31 2h9m-6 1h9m-3 2h9m2-4h9m-8 1h9m-5 1h9m13 2h9m-1-1h9m-5-2h9m-9-1h9m4 1h9m-2-2h9m24 10h9m-8-4h9m-9-2h9m-3-2h9m-9-2h9m0 1h9m-6 5h9m3-6h9m-7 9h9m15-2h9m-3 2h9m-7-5h9m33 4h9m13-1h9m-6-2h9m18 0h9m81 4h9m3-6h9m-3 5h9m-7-7h9m12 6h9m-8-4h9m-6 6h9m4 0h9m2 0h9m-6-9h9m-6 7h9m-6 0h9m0 0h9m7 0h9m-5-2h9m-8 1h9m-9 0h9m-7-2h9m-8 0h9m-4-2h9m-9 7h9m-6-3h9m-3-1h9m-6 4h9m-7-6h9m-3 4h9m-3-2h9m-9 3h9m-9-2h9m-8-5h9m-8 4h9m-8 0h9m-9 2h9m-9-5h9m-8 8h9m-9 0h9m-7-2h9m-9-2h9m-8-2h9m-9 1h9m-8-5h9m-7 1h9m-8 8h9m-8 0h9m-9-1h9m-6-8h9m-7 1h9m-9 2h9m-8 5h9m0-3h9m-8 1h9m-7-4h9m-7 6h9m-7-4h9m-7 3h9m-7-5h9m-6 5h9m-8 1h9m-5-5h9m-6 2h9m-8-4h9m-7 8h9m-4 1h9m-9-7h9m-3 2h9m-8-2h9m-8 3h9m-8-5h9m-4 2h9m1 1h9m-6 4h9m-4 0h9m-7-1h9m-8-5h9m18 6h9m-8-4h9m-6 4h9m9 2h9m-773 7h9m-8-7h9m8 4h9m-6-3h9m-1 7h9m13 0h9m-9-5h9m-4 5h9m-4-1h9m11-3h9m0 5h9m-6-6h9m4 6h9m-6 0h9m-7-2h9m21-1h9m-9 2h9m7-1h9m-8-3h9m-3-3h9m-2 6h9m-8-2h9m10 0h9m-6-3h9m2 3h9m-5 0h9m9 4h9m-7 0h9m3 0h9m6-7h9m-8 4h9m-3 0h9m2 4h9m-7-4h9m-1-2h9m3 4h9m35-5h9m108-1h9m2 1h9m-8 6h9m0 0h9m10-2h9m2 3h9m-6-9h9m-3 4h9m-9 0h9m12-1h9m0 2h9m-8 4h9m-1-10h9m-4 8h9m0-3h9m-8 1h9m-5-2h9m-4 2h9m-5-1h9m-6 0h9m-8 1h9m-5-2h9m-5 0h9m-8 1h9m-8 2h9m-7-4h9m4 6h9m-7-2h9m-9-5h9m-8 5h9m-8 1h9m-8-1h9m-9-1h9m-7-5h9m-5 2h9m-8 6h9m-5-4h9m-8-4h9m-9 4h9m-8 5h9m-9-6h9m-6-3h9m-7 8h9m-7-6h9m-8 2h9m-8 5h9m-8-2h9m-8-1h9m-8-6h9m-7 7h9m-4-4h9m-7 5h9m1-9h9m-5 2h9m-7 8h9m-7-5h9m-3 0h9m-8 1h9m-7 2h9m-9 0h9m-4-3h9m-9 0h9m-9-5h9m-5 1h9m-8 6h9m-7-2h9m-8 4h9m-4-1h9m4-8h9m-5 4h9m-8-2h9m-3 0h9m6 3h9m-8-2h9m-2 5h9m-2-2h9m-5 2h9m-1-1h9m29 0h9m58-1h9m17 1h9m41-3h9m-962 11h9m-3-1h9m-3 6h9m5-9h9m13 8h9m20-7h9m-5 1h9m-2 6h9m11-4h9m-3-1h9m-8-4h9m-8 6h9m-6-5h9m17 7h9m-5-7h9m-3 8h9m-5-4h9m-8 4h9m1-7h9m-1 2h9m-7 3h9m-6-4h9m-7 6h9m-9-2h9m-7-4h9m-7 2h9m-5 4h9m-3 0h9m0-4h9m9 3h9m-5-5h9m7 1h9m15 4h9m-9-3h9m8 0h9m0-5h9m8 5h9m9 2h9m8 1h9m96-3h9m16 3h9m4-5h9m20 0h9m-1 5h9m-3-4h9m-7 4h9m-4-5h9m-4-2h9m-5 2h9m-8 6h9m-7-3h9m-3 2h9m-7-5h9m-5-2h9m-9 4h9m-8-3h9m-7 4h9m-7 3h9m-7-2h9m-8-1h9m3 4h9m-7-3h9m-8 0h9m-9-1h9m-9 3h9m-6-3h9m-6 1h9m-8-3h9m-8-3h9m-9 8h9m-8-8h9m-8 0h9m-8 7h9m-8-5h9m-7 7h9m-8-2h9m-7 1h9m-7-8h9m-8 7h9m-6-2h9m-8-4h9m-7 1h9m-8 6h9m-9-7h9m-8 4h9m-5-1h9m-6 4h9m-8 0h9m-7-3h9m-7-6h9m-7 8h9m-8-7h9m-8 0h9m-8-1h9m-9 9h9m-5-7h9m-5 1h9m-7 5h9m-8 1h9m-6-8h9m-4 4h9m-8-5h9m-7 4h9m-8 3h9m-3-5h9m-6 5h9m-7-6h9m-8-1h9m-6 3h9m-7 4h9m-8-3h9m-9-1h9m-9 3h9m-9 0h9m-8-4h9m-6 3h9m-6-1h9m-2 3h9m-5 1h9m-5 0h9m-5-2h9m-8-1h9m-2-4h9m-7 8h9m-3 0h9m-9-4h9m-1 1h9m-1 2h9m-8 1h9m-2 1h9m-7-7h9m4 2h9m-2 1h9m63-2h9m-798 8h9m0 2h9m7-3h9m-1 0h9m-3 3h9m28 3h9m-4 3h9m-4-8h9m4 2h9m-5 2h9m-3 3h9m-4 1h9m-7-1h9m-7-7h9m-7 0h9m-4 4h9m-7 0h9m-6-2h9m-9 2h9m-9 3h9m-6-3h9m-7-5h9m0 2h9m-9 2h9m0-2h9m-5 7h9m-8-2h9m-9-6h9m-4 0h9m-8 6h9m-7 1h9m3 0h9m-7-1h9m-8-4h9m-2 1h9m-9 0h9m-7 2h9m-3-2h9m-6 1h9m-5 0h9m6-2h9m-4-1h9m7 2h9m-4 1h9m5-6h9m-5 2h9m-8 7h9m-8-8h9m-7 3h9m-6-3h9m-8 5h9m1 0h9m4 1h9m21-5h9m-5 0h9m41 0h9m55-2h9m46 3h9m-9 1h9m0 4h9m-4-3h9m-2-4h9m-8 4h9m-7-4h9m-7 0h9m-3 8h9m-8-3h9m-6 3h9m-8-8h9m-6 8h9m-4-6h9m-3 4h9m-4-4h9m-8-1h9m-7-2h9m-5 1h9m-4-1h9m-7 10h9m-7 0h9m-8-4h9m-6-2h9m-7-3h9m-6 4h9m-7 4h9m-4-4h9m-9 3h9m-8-5h9m-8 1h9m-8-2h9m-9 0h9m-5 0h9m-7 7h9m-8-1h9m-6 0h9m-8 2h9m-9-6h9m-8 2h9m-7-6h9m-7 2h9m-4 5h9m-8-5h9m-9 5h9m-8 2h9m-8-2h9m-7 2h9m-7-9h9m-9 5h9m-6-2h9m-9 4h9m-8 0h9m-3-7h9m-9 7h9m-6-4h9m-4 5h9m-8-8h9m-6 3h9m-6 3h9m-8-4h9m-8-2h9m-7 10h9m-3-7h9m-9 5h9m-9-3h9m-6 4h9m5-7h9m-2 6h9m-5-5h9m-6 6h9m-8-1h9m-6 1h9m-9-8h9m-6 9h9m3-4h9m3-6h9m109 8h9m3 1h9m-814 6h9m-8 2h9m-7-3h9m9 1h9m-8-1h9m-4-4h9m3 4h9m-6 2h9m-2-1h9m-6 5h9m-8-6h9m-2 2h9m-2 1h9m-9-6h9m1 0h9m-7 3h9m-3-1h9m-9 7h9m-7-3h9m-8 2h9m-5-1h9m-4 1h9m-8-7h9m1 6h9m-2-3h9m-2 3h9m-4-4h9m-3-1h9m-8 4h9m2 2h9m20-2h9m-7 2h9m-6 1h9m0-3h9m-6-2h9m5 0h9m-4 3h9m-5 1h9m8-7h9m-7 6h9m-5 0h9m4-7h9m-8 6h9m-5-5h9m6 3h9m-3-2h9m8 3h9m13 3h9m18-3h9m-7-3h9m3 2h9m-6-3h9m75 5h9m2-5h9m1 0h9m-4 0h9m-2-1h9m-4 1h9m-5 7h9m-4 0h9m-8-9h9m-6 1h9m-7 0h9m-6 5h9m1-4h9m1 5h9m-8-7h9m-8 7h9m-4-3h9m-9 2h9m-7 3h9m-8 0h9m-8-6h9m-7 6h9m-3-4h9m-6 4h9m-7-3h9m-6-2h9m-9 0h9m-5 5h9m-8 0h9m-8-3h9m-7 4h9m-9-7h9m-6 5h9m-9-1h9m-9-5h9m-8 7h9m-8-2h9m-6 0h9m-6-3h9m-7 4h9m-7 2h9m-8-9h9m-8 8h9m-8-2h9m-8 0h9m-8-3h9m-2 4h9m-5-5h9m-5 0h9m-5 4h9m-6-7h9m1 1h9m-6 6h9m-8-4h9m-8 4h9m-4-5h9m-6 1h9m0 0h9m-9 1h9m2-1h9m-8 6h9m-1-8h9m-6 4h9m17 1h9m-9 2h9m-6-6h9m3 6h9m25-3h9m64-2h9m37 2h9m-924 7h9m24-2h9m5 2h9m-2 8h9m-9-9h9m-5 2h9m14 4h9m3 0h9m-9-2h9m18 1h9m-5 4h9m-3-1h9m-5-7h9m-7 0h9m-4 6h9m-5-1h9m4 0h9m-8 1h9m-7-6h9m-8 4h9m-6 3h9m-7-9h9m-6 2h9m4 5h9m-8 2h9m-1-4h9m-9-1h9m-6-3h9m-8 3h9m-9-1h9m-8 6h9m-6 1h9m-6-5h9m0-3h9m-1 7h9m-6 0h9m-9-1h9m-7-7h9m-8 2h9m8 1h9m4-2h9m-6 4h9m-9-5h9m3-1h9m-5 5h9m-1-4h9m-3-1h9m-3 1h9m-7-1h9m-1 9h9m14 0h9m187-7h9m-8-1h9m3 0h9m-5 6h9m6-3h9m-4 2h9m-8-2h9m7-2h9m-4 8h9m-8-3h9m-7-4h9m-9 2h9m-8 1h9m-3-3h9m-6 2h9m-7 4h9m-6 0h9m-6-6h9m-7 3h9m-8-3h9m-7 1h9m-8 4h9m-8-4h9m-6-3h9m-8 4h9m-5 2h9m-9-2h9m-8 3h9m-9-1h9m-8 0h9m-6 2h9m-3-4h9m-7 3h9m-5-7h9m-9 6h9m-9-1h9m-2-5h9m-5 6h9m-6-1h9m-8-3h9m-5 1h9m-9-2h9m-8 7h9m-8-5h9m-5-2h9m-5-1h9m-6 1h9m2 0h9m-8 2h9m20-1h9m-9-2h9m-7 1h9m15 1h9m6 0h9m43 0h9m18 0h9m51-2h9m2 4h9m-893 12h9m3-1h9m12 0h9m-6-3h9m-7 3h9m-4-3h9m7 7h9m-8-1h9m-6-3h9m-3-4h9m11 1h9m-8-1h9m-2-1h9m-4 9h9m-8-3h9m-3-4h9m-6-2h9m-4 8h9m-8 0h9m-3-8h9m-3 0h9m-8 1h9m4 4h9m-8-4h9m-8 0h9m-7 5h9m-7-4h9m-1 3h9m-4 2h9m-7-4h9m-8 4h9m-7-2h9m-9 2h9m-4-5h9m-8 2h9m-9-3h9m-8 5h9m-1 0h9m-6-6h9m-2 8h9m-5 0h9m-7-3h9m-9-4h9m-7 2h9m-7 0h9m-6 2h9m-5-4h9m-1 7h9m-3-1h9m-6-2h9m-7-2h9m-8-2h9m7 4h9m-7-5h9m5 3h9m6-2h9m1-2h9m14 2h9m-8 4h9m5-5h9m-1 0h9m-8-1h9m12 4h9m37 0h9m7-1h9m29 1h9m-3 2h9m1-5h9m-8 2h9m8 1h9m22-3h9m-5 5h9m5-2h9m3-3h9m-4 2h9m-5 4h9m-9-6h9m-9 3h9m-5 5h9m2-5h9m-8-3h9m-9 2h9m-6 0h9m7 2h9m-8 0h9m-8 3h9m-5-4h9m3 1h9m-9-5h9m2 4h9m-7 2h9m-1-1h9m-1 4h9m-9-4h9m-7-4h9m-1 2h9m-8 3h9m0-5h9m-4 5h9m-4 2h9m-8-5h9m-6 5h9m1 0h9m4-7h9m-9-1h9m-6 5h9m2 0h9m-9 2h9m-8-6h9m1 8h9m-5 0h9m2-6h9m3 4h9m30 2h9m85 0h9m8-3h9m-948 13h9m-4-4h9m11 3h9m-2-6h9m-9-1h9m-8 0h9m14 3h9m2 5h9m-7 0h9m4-1h9m8-7h9m-1 9h9m-3-7h9m-8-2h9m-8 9h9m-7-9h9m-6 8h9m-6-6h9m-7 5h9m-5-1h9m-8 3h9m-4 0h9m-7-2h9m-8-5h9m-3 2h9m-8 5h9m0-4h9m-8 3h9m-6 0h9m-8-4h9m-6 5h9m-7-5h9m-6 2h9m-8-5h9m-6 5h9m-8 0h9m-7 1h9m-4-4h9m-8 2h9m-8-2h9m-8-3h9m-5 4h9m2-3h9m-6-1h9m-9 8h9m-2-8h9m-5 6h9m-3-1h9m-7 0h9m-8-5h9m-2 3h9m-3-3h9m8 2h9m-9-2h9m-7 5h9m-3-4h9m-7-2h9m-8 0h9m-6 5h9m-3 2h9m0 2h9m-2-7h9m-9 1h9m-5 6h9m-6-9h9m-5 1h9m-8 5h9m14 2h9m12 0h9m-7-2h9m-3-5h9m5 6h9m1-4h9m-3 0h9m46 6h9m84-6h9m12 5h9m22-3h9m-9-3h9m-6 6h9m-6-2h9m0-4h9m-5 1h9m4-1h9m-5 7h9m-2-4h9m-9-1h9m-8 0h9m-2 0h9m8-2h9m-8 1h9m-4 4h9m-7-2h9m-4-1h9m-7 4h9m-9-3h9m-8 0h9m-8 1h9m-6 1h9m-8 2h9m-8-1h9m-5-3h9m-1-1h9m-2 0h9m-5 2h9m-3-4h9m2-1h9m-7-1h9m-3 9h9m1 1h9m-3-4h9m-7-1h9m-7 3h9m-8-2h9m-8-5h9m47 7h9m85-4h9m37 0h9m-901 15h9m-2-4h9m3 2h9m-1 3h9m1-9h9m2 6h9m-3 2h9m-7-9h9m-7 1h9m-9 8h9m-4-5h9m-8-1h9m-5 6h9m-5 0h9m3 1h9m-4-10h9m-5 5h9m-4-4h9m-1 9h9m-8-9h9m0 0h9m-8 8h9m-8-1h9m-8 1h9m-4-6h9m-7 4h9m-8 1h9m-3-4h9m-8 6h9m-2-7h9m-5 3h9m-9 3h9m-1-5h9m-4 6h9m-1-6h9m-9 0h9m-8-2h9m-6 7h9m-9-6h9m-6 6h9m-9-6h9m-5 3h9m-8-2h9m-5 3h9m-9-7h9m-8 10h9m-9-4h9m-8-5h9m-9 7h9m1-5h9m-5 1h9m-6 4h9m-7-4h9m-4 0h9m-8 6h9m3-3h9m-8-4h9m-7 7h9m-5-2h9m-8-7h9m-2 4h9m-9 1h9m0 0h9m-7-5h9m-8 9h9m0-1h9m-3-3h9m-8-6h9m-8 8h9m-6-4h9m-7 5h9m2-2h9m-7 3h9m-5-1h9m5-2h9m-3-2h9m-6 4h9m-7 0h9m28 0h9m61 0h9m9-1h9m-1 1h9m33-3h9m19-1h9m15-1h9m11-3h9m-1 7h9m-6-1h9m-9-3h9m-8-2h9m-2 8h9m-9-5h9m-9-1h9m-8-3h9m-7 6h9m-6 1h9m-5-8h9m-6 8h9m-8 1h9m-6-7h9m6-1h9m-7 1h9m-6 4h9m-4-4h9m-7 2h9m-7 3h9m-4-6h9m-1 2h9m-1 0h9m-4 6h9m-7-4h9m-9-3h9m0 7h9m-4-8h9m-4 2h9m-8 1h9m-6 1h9m-8 2h9m18-6h9m-6 1h9m5 7h9m-772 10h9m11-4h9m18 0h9m29-1h9m-6 5h9m-3-4h9m-8-1h9m-7 2h9m8-2h9m-8-2h9m-6-2h9m-3 5h9m-5-5h9m-9 5h9m-2 4h9m1 0h9m-8-7h9m-9 7h9m-8-1h9m-5-4h9m-5 4h9m-1 0h9m-1-6h9m-8 7h9m-6-1h9m-6-4h9m-9 5h9m-9-3h9m-8-4h9m-8 4h9m-7-1h9m-4 4h9m-9-9h9m-8 6h9m-7-3h9m-6 1h9m-7 1h9m-8-1h9m-8-1h9m-7 1h9m-7 0h9m-3 2h9m-7-4h9m-7 2h9m-8-1h9m-8 2h9m-9-3h9m-9 5h9m-4-3h9m-3 5h9m-8-2h9m-4 2h9m-7-7h9m-9 0h9m-7 1h9m-5 1h9m-7-1h9m-8-1h9m-8 2h9m-5 3h9m-3 1h9m-8-5h9m7 2h9m-6-4h9m-5 3h9m3 0h9m-7 4h9m-8-1h9m-5-5h9m-6 1h9m-6 0h9m0 4h9m-8-7h9m-6 4h9m2 1h9m5 1h9m2-4h9m-8 1h9m-4-1h9m8 0h9m21 0h9m62 4h9m48 1h9m-3 1h9m8-5h9m-9 3h9m29 4h9m0-7h9m2-1h9m-8 3h9m5 2h9m0-3h9m-2-1h9m-5 3h9m-5-5h9m2 5h9m1 3h9m0-5h9m-3-3h9m-7 0h9m7 7h9m-5 0h9m7-4h9m0 2h9m-8-1h9m19-3h9m-4 6h9m-7-5h9m0 5h9m2-6h9m-803 16h9m0 1h9m-1-5h9m67 2h9m-5-1h9m-9 5h9m4-1h9m-4 1h9m-9 0h9m-3-10h9m-1 8h9m-7 2h9m-5-7h9m0-2h9m-6 6h9m0-1h9m-7 0h9m-3-5h9m-5 1h9m-6 4h9m-4-1h9m-8 0h9m-5 4h9m-6 0h9m-8-1h9m-7 0h9m-5 1h9m-8-9h9m-7 1h9m-6 2h9m-8-1h9m-5 4h9m-9-6h9m-5 5h9m-7 2h9m-7-1h9m-8-5h9m-3 1h9m-8-2h9m-4 9h9m-7-4h9m-8-3h9m-6 1h9m2-3h9m-6 9h9m-6-5h9m-9 1h9m-7 2h9m0 2h9m-7 0h9m-7-7h9m-9 0h9m-4 4h9m1 1h9m-9 0h9m-5-2h9m-7 4h9m-4-2h9m-8 2h9m15-5h9m-7 6h9m-2-4h9m10-2h9m-6-4h9m-8 10h9m-8-9h9m-2 2h9m-8 1h9m12 4h9m6-3h9m11 1h9m13 2h9m37 0h9m58 1h9m59 0h9m10-8h9m2 8h9m-9-4h9m0 0h9m-4-2h9m-3-2h9m-5 1h9m34 2h9m7 1h9m-9-1h9m-5 5h9m-2-6h9m6 3h9m1-1h9m-740 7h9m32 1h9m22-1h9m-5 2h9m-7-1h9m-9 6h9m0-4h9m-2-1h9m-2 2h9m-2-5h9m-3 4h9m-5 2h9m-7-2h9m-9-3h9m-5 4h9m-3-2h9m-9-3h9m-4 3h9m-6-3h9m-3 5h9m-6 0h9m-5 3h9m-9-9h9m-6 8h9m-4 1h9m-8-5h9m-6-3h9m-6 0h9m-8 7h9m-8-6h9m-8 1h9m-7-1h9m-8 3h9m-4 4h9m-5-4h9m-4 5h9m-9-1h9m-4-5h9m-6-3h9m-9 8h9m-6-2h9m-7-1h9m-5 3h9m-9-7h9m-5-1h9m-7 7h9m-9-6h9m-7 5h9m1-5h9m12-1h9m-7 6h9m-9-2h9m-4 1h9m-5 3h9m-6-1h9m-8 1h9m-8 1h9m1-4h9m0-2h9m-8 2h9m-8-2h9m-6 4h9m-3-2h9m-8-1h9m-1-4h9m-4 3h9m-6 2h9m-1-2h9m-7 2h9m-8-5h9m-7 5h9m13 3h9m34-9h9m27 7h9m72 0h9m14 1h9m9-5h9m21-2h9m-8 9h9m-1-3h9m30-4h9m16-3h9m5 2h9m6 3h9m-1 2h9m4-1h9m-3-3h9m3-2h9m-5 8h9m54-2h9m9-7h9m5 9h9m1-5h9m-6 0h9m67 6h9m-934 7h9m3-3h9m-3 3h9m54-7h9m6 7h9m2-2h9m0-4h9m-7 2h9m-5 1h9m-4 5h9m-3-2h9m-1 0h9m-5-5h9m-4 2h9m-6 3h9m-8-1h9m-8 2h9m-5-3h9m-7 4h9m-6-2h9m2-5h9m-3 4h9m-6-4h9m-8 2h9m-9 1h9m-3 4h9m-8-9h9m2 0h9m-8 9h9m0-5h9m-6-2h9m-7 5h9m-9-6h9m-6 0h9m-9 4h9m-4-1h9m-6 6h9m-7-8h9m-8 0h9m-7 3h9m-6-3h9m-9 1h9m-9 5h9m-7 2h9m-7-6h9m1 0h9m-7-1h9m-7-2h9m-6 6h9m-4-3h9m1 2h9m-6 0h9m-5-2h9m-5 1h9m-6-3h9m-1 3h9m4-5h9m1 3h9m15 3h9m-4-5h9m15 4h9m-5-4h9m-4 5h9m32-2h9m-3-1h9m-9 3h9m8 0h9m-3 4h9m4-10h9m-2 8h9m164-5h9m2-1h9m-6 8h9m-1-1h9m-9-4h9m12 2h9m10-2h9m5 0h9m-1 4h9m-4-2h9m197-3h9m-950 16h9m8-10h9m1 2h9m-6-1h9m3 2h9m13 5h9m0-6h9m-9 0h9m-7 2h9m-8-3h9m-8 2h9m-5-1h9m0 7h9m-8 0h9m-3-3h9m-5 0h9m-8-5h9m-7 5h9m-3 0h9m-9 0h9m7-3h9m-9 5h9m4 0h9m-6 1h9m-8-3h9m-6 1h9m-8-2h9m4-5h9m-3 9h9m-7-3h9m-7-2h9m-9 1h9m-7 0h9m-7 2h9m5 0h9m-6-3h9m-6 0h9m-9 3h9m-5-5h9m-9 0h9m-8 8h9m0 0h9m-3-6h9m-9-2h9m-1 2h9m-7 1h9m-7 3h9m-7-8h9m-8 4h9m-7-3h9m-3 0h9m-2-1h9m-6 2h9m-6 5h9m-6 0h9m-7 3h9m-6-4h9m0 4h9m-5-5h9m-9-3h9m-9 8h9m-4-6h9m8-2h9m-2 0h9m4 3h9m5-4h9m-4 2h9m3 4h9m2 3h9m-8-8h9m14 1h9m6-3h9m-6 2h9m108 1h9m60 4h9m5 0h9m21 3h9m-6-9h9m-8 7h9m9 1h9m0-9h9m40 4h9m153 3h9m-877 4h9m-7 4h9m-4-4h9m-7 7h9m8-7h9m-4 0h9m4 2h9m10-1h9m-1 5h9m-6 2h9m18-9h9m-2 8h9m-7-6h9m-7 4h9m3-4h9m5 8h9m-3-1h9m7-7h9m-8 7h9m-6-3h9m-8-2h9m-8 1h9m-8-1h9m0 1h9m-6 2h9m-8 3h9m-9-5h9m0 1h9m1 3h9m-4-8h9m10 5h9m-3-1h9m-8 0h9m-4-4h9m-5 8h9m-7-9h9m-4 10h9m-8 0h9m-6-8h9m-4-1h9m-8 8h9m-8-8h9m-8 7h9m0-6h9m3 0h9m-9 7h9m-3 0h9m-8-8h9m-3 3h9m-9 5h9m-8-2h9m-1-6h9m-5 8h9m-4-6h9m-4-1h9m-3 5h9m0 3h9m0-3h9m-7-6h9m16 0h9m23 6h9m9-2h9m17 5h9m-3-3h9m-4-4h9m85 3h9m-3 3h9m41-5h9m48 1h9m34-5h9m45 4h9m19-1h9m21 3h9m-8-4h9m-806 12h9m-5 0h9m8 0h9m2 4h9m-6-5h9m1-3h9m-8 4h9m7 3h9m6-4h9m-7 4h9m-4-5h9m-8 5h9m-8-7h9m2 7h9m-7 2h9m-8-8h9m-8 0h9m-1 2h9m-7-1h9m-7 1h9m-9-1h9m-7 3h9m-9-4h9m-7 0h9m-6-1h9m3 0h9m-7 8h9m-2-6h9m-5 6h9m-5-3h9m-8 2h9m-7 0h9m-8 1h9m-7-4h9m0-2h9m-7 8h9m-9-5h9m-8 4h9m0-7h9m-2 3h9m-3 4h9m-8-5h9m-9-2h9m3 3h9m-4-4h9m-3 4h9m-7 0h9m-6 2h9m-9 1h9m-9-4h9m-7-3h9m-5 6h9m-8-5h9m-8-1h9m-7 2h9m-8-1h9m-8 0h9m-9 7h9m-7-2h9m0-2h9m-8-2h9m1-1h9m10-1h9m15 4h9m-6 0h9m-2-2h9m2 1h9m8 2h9m17 2h9m-6 1h9m14-1h9m-3-4h9m26 6h9m56-1h9m7-5h9m2 2h9m93-5h9m150 0h9m66 8h9m-863 5h9m-9 4h9m19-1h9m14 2h9m-7-9h9m-2 7h9m13 1h9m9-1h9m-6 2h9m-8-5h9m-2 2h9m8-6h9m-8 5h9m-6-2h9m-3 0h9m-4 3h9m-9-5h9m-9 5h9m-4-1h9m-8 0h9m-5 5h9m-8-5h9m-5-5h9m-9 9h9m-7-5h9m-2 4h9m-9-1h9m-2 1h9m-8 0h9m-7-4h9m-8 4h9m-5 0h9m-7 1h9m-8-6h9m-1-2h9m-5 8h9m4-4h9m-8 4h9m-6-6h9m-4 3h9m5-2h9m-1 1h9m-8 3h9m-5-5h9m4 7h9m-5-7h9m-7 3h9m0-4h9m-8 5h9m-7-7h9m-5 2h9m-7 4h9m0 1h9m-7-3h9m-7-2h9m-8 1h9m-6 6h9m-4-3h9m-5-2h9m11-1h9m-8 0h9m-8 7h9m-3-7h9m22 5h9m16-4h9m14 5h9m183-5h9m-632 11h9m17-2h9m-4 1h9m23-3h9m-8 5h9m-2-6h9m-3 3h9m1 4h9m7-3h9m-7 1h9m0 0h9m1 0h9m-7-2h9m-9 5h9m3-4h9m-9 5h9m-8-8h9m-3 8h9m-6-4h9m-5 4h9m-5-5h9m-5-2h9m7 3h9m-7-2h9m-8 1h9m-3 2h9m-7 3h9m-3-1h9m-9-7h9m-3 6h9m-3 1h9m-1-4h9m-8 4h9m-3-4h9m-8 3h9m-3-5h9m-8 0h9m-9 6h9m-8 1h9m-8-6h9m-6 4h9m-8-5h9m-8 6h9m-6-7h9m-5 5h9m-3 2h9m17-2h9m-9-2h9m-5 5h9m-8-4h9m-5 4h9m-7-4h9m-6-1h9m-4-4h9m-6 9h9m-7-1h9m-4 1h9m4 0h9m-6-5h9m-6 1h9m-1 2h9m5 0h9m-9-3h9m-4 1h9m-9-1h9m-3 5h9m10 0h9m0-3h9m-2-2h9m17 2h9m-1-4h9m-9 1h9m15 0h9m-3 2h9m51 0h9m-2 4h9m8-3h9m95 0h9m77 2h9m16 1h9m-768 1h9m9 8h9m21 1h9m13-4h9m-4 0h9m-5 0h9m-1-2h9m-3-2h9m4 2h9m-4 5h9m-8-4h9m-8 0h9m-5-1h9m0 0h9m5 1h9m-6-3h9m-8 3h9m-8-3h9m-1 8h9m2-4h9m-5-1h9m-6-3h9m-6 1h9m-5 0h9m-2 7h9m-6 1h9m-8-4h9m-2-3h9m-9 7h9m-6-5h9m-6 2h9m24-6h9m-9 5h9m-7-2h9m-5 0h9m6-1h9m-9 4h9m-7-5h9m4-1h9m-6 6h9m10-1h9m-4-2h9m-6 4h9m-7-4h9m-8 4h9m-8-7h9m-6 8h9m-1 1h9m-3-10h9m-8 8h9m-4-3h9m-7-5h9m-2 9h9m-8-1h9m-8-2h9m-6-4h9m-3 0h9m-5 2h9m13 6h9m10-10h9m8 4h9m5 4h9m3 1h9m88 0h9m220-6h9m-765 13h9m7-5h9m-9 0h9m1 2h9m17 0h9m23 4h9m-8-5h9m-5 4h9m9 0h9m-3 1h9m-6 0h9m-9-4h9m6-3h9m-4 3h9m-7 5h9m1-7h9m-8 3h9m-8 2h9m-5 2h9m-8 1h9m-8-4h9m-8 0h9m-9 2h9m-6-5h9m-1 8h9m-9-9h9m-8 5h9m-8 1h9m-4 3h9m1-3h9m-7-4h9m-6 7h9m-8-9h9m-7 8h9m-8-6h9m-6 6h9m-5-9h9m-4 2h9m-8 5h9m-6-1h9m-5-3h9m-6 0h9m-9 2h9m-6 1h9m2 0h9m-8-5h9m6 6h9m-5-1h9m-7-4h9m-9 8h9m-4-6h9m0-1h9m-9 3h9m0 2h9m-7-5h9m-8 2h9m-2 4h9m2 1h9m-2-5h9m0-2h9m13 1h9m-5-1h9m12-1h9m3 1h9m23-2h9m20 0h9m-6 5h9m7-5h9m19 8h9m68-8h9m63 7h9m22-7h9m-645 16h9m0 0h9m-7 1h9m-8 2h9m1-7h9m27 6h9m4-6h9m-5 1h9m-6 5h9m5-6h9m-8-3h9m1 3h9m-6 1h9m-2-2h9m-6 3h9m-9-4h9m-8 9h9m7-3h9m-5 3h9m0 0h9m-7-2h9m-8-5h9m-9 6h9m-6 0h9m-5-6h9m-6 6h9m-4-2h9m-5-4h9m-5-3h9m-8 2h9m-3 6h9m-8-3h9m4 0h9m-7 3h9m-6-3h9m3 0h9m-5-4h9m-8 9h9m-2-7h9m4 4h9m-3 0h9m-4 2h9m-8-8h9m-6 1h9m-7 6h9m-8-4h9m-8-3h9m-1 8h9m1-7h9m4 1h9m28 5h9m-8 0h9m15-8h9m-4 9h9m-5-3h9m-6-3h9m-6-1h9m-1 7h9m8-4h9m39 4h9m130 1h9m3-5h9m9-3h9m35 3h9m14 3h9m13-7h9m37 4h9m-778 9h9m-4-3h9m-1 0h9m0 3h9m-4 0h9m-5-3h9m17 6h9m4-3h9m3-1h9m20 1h9m9-3h9m-7 7h9m5-6h9m-9 4h9m-5-2h9m-8 0h9m-8 2h9m-7-6h9m8 7h9m0-1h9m-5-5h9m-2 9h9m-8-8h9m4 6h9m-8 2h9m-1-2h9m-9-6h9m-6 3h9m-4-2h9m-7 6h9m-3-1h9m-3 1h9m-4-3h9m8 3h9m-3-9h9m7 3h9m3 4h9m1-2h9m-4 4h9m-2-7h9m5 5h9m-8-2h9m-8-4h9m2 3h9m1 0h9m22-3h9m-9 7h9m2-2h9m3-3h9m8 1h9m10-4h9m-7 3h9m5 2h9m37 5h9m33-10h9m-543 14h9m7 2h9m-7 1h9m25 2h9m-2-3h9m1-5h9m10 5h9m-3-4h9m-8 3h9m16-2h9m-5 3h9m-1 1h9m-4 2h9m-7-4h9m-8 4h9m2-5h9m-8 3h9m0-6h9m-9 6h9m-4-4h9m-9 7h9m-8-9h9m-5 3h9m-8-3h9m0 0h9m-3 1h9m-8 5h9m-5 1h9m-4-1h9m-5 3h9m-9-9h9m-8 1h9m-6-2h9m-6 10h9m-8-2h9m-8-6h9m2 2h9m-5 3h9m-8-3h9m-8 1h9m-6 4h9m-6-3h9m-1 3h9m-3-6h9m-7 3h9m7-5h9m-9 4h9m-8-4h9m-3 8h9m0 0h9m17-3h9m3 2h9m-5-5h9m1 3h9m0-6h9m-9 9h9m-4-8h9m-5 6h9m2-7h9m13 2h9m6 1h9m-3 7h9m14-6h9m-8 6h9m-7-6h9m2-2h9m21 7h9m22-6h9m-515 12h9m7 1h9m13 3h9m1-8h9m35 6h9m2 0h9m5-4h9m0 0h9m5 6h9m-8-4h9m-5 0h9m-6 2h9m17-3h9m-5-3h9m-7 1h9m-4 2h9m2 3h9m0 3h9m-9-4h9m-6-5h9m-7 0h9m-9 1h9m-6 6h9m-3-6h9m8 5h9m-2 2h9m-5 1h9m-6-7h9m-3 7h9m-6-6h9m-8 0h9m-5 1h9m-7-3h9m1 4h9m0 3h9m1-4h9m25 4h9m24-7h9m18 4h9m57 1h9m14-1h9m6-2h9m216 6h9m-704 9h9m21 1h9m6-8h9m51 3h9m-1-2h9m9-2h9m1 8h9m3 0h9m-4-5h9m-7 4h9m-4-6h9m-3-1h9m-3 7h9m-6-2h9m4-5h9m-8 6h9m-7-6h9m-7 8h9m-8-4h9m-9-4h9m-3 4h9m-7-3h9m7 2h9m9-4h9m-5 3h9m-7-1h9m-1 5h9m-3 2h9m-4-3h9m-7-4h9m-8 8h9m-8 0h9m-7-9h9m-2 6h9m-5 1h9m-3-7h9m7 7h9m-9-3h9m2-1h9m-7 2h9m-6-6h9m3 2h9m-4 4h9m-7-1h9m28 1h9m-1-6h9m12 8h9m185-1h9m64 2h9m2-8h9m25 6h9m40-4h9m94 6h9m35 1h9m-941 6h9m65 4h9m-8-4h9m2 1h9m7 2h9m-2-5h9m-3 3h9m9-3h9m6 1h9m-5 1h9m-7-4h9m-1 1h9m-7-1h9m-8-1h9m-6 7h9m5-3h9m-6-2h9m9 6h9m-5-2h9m-2-2h9m0 5h9m-6-3h9m-4-5h9m-6 2h9m-4-3h9m-6-1h9m-5 1h9m-9 1h9m5 1h9m-3-2h9m-7 6h9m-7-5h9m-5 0h9m1 3h9m-8 0h9m-3-1h9m-1 1h9m23-2h9m-6 4h9m-2 2h9m11-3h9m-3-2h9m28 0h9m18 1h9m-4 5h9m51-7h9m30-3h9m56 8h9m58-4h9m192-1h9m-889 8h9m20 0h9m92 5h9m11-5h9m12 0h9m-7 7h9m16-2h9m27 3h9m-7-6h9m-4 1h9m-2-1h9m-5-1h9m-6 2h9m3-3h9m-4 1h9m-4 1h9m-1 2h9m6-1h9m13-3h9m4 5h9m24-5h9m-6 4h9m1-3h9m-2 6h9m-6-7h9m5 0h9m8 9h9m1-1h9m4-7h9m-3 2h9m1-3h9m18 0h9m78 6h9m127-5h9m114 7h9m-839 6h9m23-4h9m-3 4h9m19-4h9m8 4h9m17 0h9m-6-4h9m-7 7h9m3 1h9m32-6h9m-5 3h9m-9-4h9m-2 2h9m-8 5h9m2-7h9m41 1h9m-1-2h9m3 7h9m1-1h9m-3 1h9m8-6h9m-2 5h9m0-5h9m-6 0h9m-9 7h9m-6-1h9m7-3h9m-4-4h9m-6 7h9m4 2h9m14-5h9m9 3h9m19 1h9m19-5h9m-6 0h9m12-4h9m-9 1h9m117 7h9m3-6h9m27 6h9m211 0h9m-858 3h9m-6 0h9m19 7h9m9 2h9m6-3h9m-7 0h9m2 0h9m12-7h9m-2 2h9m-4 6h9m8-1h9m-8-7h9m1 5h9m0 3h9m30 0h9m-6-2h9m-5-3h9m2 7h9m6-9h9m10 0h9m-4 1h9m-5 2h9m9-2h9m-6 4h9m5-2h9m-7-3h9m-5 0h9m26 7h9m12-1h9m0-3h9m-9 0h9m63-1h9m-5 1h9m63 1h9m8-2h9m12 6h9m78-8h9m154 8h9m10-5h9m39-1h9m7 6h9m-5-5h9m10 3h9m-924 11h9m50-3h9m15-3h9m34 6h9m19 1h9m9-4h9m18 3h9m-2-4h9m13 1h9m-3 2h9m14-4h9m-1 3h9m-7 2h9m-9-7h9m0 8h9m11-8h9m-6 7h9m-4-7h9m-3 9h9m17-8h9m-4 6h9m2-1h9m35-1h9m-2 2h9m-3-1h9m76-2h9m2 1h9m1 0h9m-6-2h9m30 6h9m136-4h9m-631 11h9m91 0h9m9-4h9m-7-2h9m7 5h9m-6-2h9m10-1h9m-6 6h9m40-1h9m5-2h9m0 3h9m-3-4h9m-5-3h9m-1 4h9m-9-3h9m15-1h9m58 3h9m-5 1h9m93-5h9m58 2h9m282-1h9m-864 13h9m47 4h9m54 1h9m-3-4h9m-4 3h9m-6-9h9m7 4h9m10 0h9m-4 1h9m16-1h9m37 5h9m29-3h9m-3 2h9m-1-3h9m26-5h9m4 1h9m29 2h9m15 5h9m118-4h9m39-3h9m15 8h9m194-3h9m-807 14h9m103-6h9m-1 3h9m55 0h9m5 2h9m58-8h9m9 6h9m10-3h9m-5 0h9m10 2h9m94-3h9m-1-1h9m27 1h9m-2 4h9m100-2h9m205-5h9m22 9h9m8-1h9m-881 6h9m84 0h9m6 4h9m31-7h9m39 7h9m-6 2h9m32-2h9m21-4h9m2 3h9m27-7h9m-1 10h9m1-5h9m34 2h9m18-1h9m34 2h9m20-2h9m39-1h9m121 5h9m35-9h9m43 9h9m72-6h9m15-1h9m41 0h9m-732 8h9m58 1h9m-3 4h9m30-5h9m8 3h9m2 3h9m12 1h9m31-1h9m92-4h9m3 4h9m112 1h9m21-7h9m-669 14h9m35-3h9m13-1h9m9 8h9m-5-5h9m126-1h9m27 7h9m35-8h9m103-1h9m217 5h9m99 0h9m27 0h9m20 1h9m109-3h9" stroke="#1a1a1a" stroke-opacity="0.55" stroke-width="9" fill="none"/>
<rect x="252.7" y="626.5" width="99.90000000000003" height="91.5" fill="none" stroke="#555" stroke-width="0.9"/>
<line x1="301.8" y1="626.5" x2="301.8" y2="718" stroke="#333" stroke-width="1.3"/>
<line x1="252.7" y1="673.5" x2="352.6" y2="673.5" stroke="#333" stroke-width="1.3"/>
<rect x="244.7" y="625.8" width="4" height="1.4" fill="#bbb"/>
<line x1="250.2" y1="626.5" x2="252.7" y2="626.5" stroke="#888" stroke-width="0.6"/>
<rect x="244.7" y="648.675" width="4" height="1.4" fill="#bbb"/>
<line x1="250.2" y1="649.375" x2="252.7" y2="649.375" stroke="#888" stroke-width="0.6"/>
<rect x="244.7" y="671.55" width="4" height="1.4" fill="#bbb"/>
<line x1="250.2" y1="672.25" x2="252.7" y2="672.25" stroke="#888" stroke-width="0.6"/>
<rect x="244.7" y="694.425" width="4" height="1.4" fill="#bbb"/>
<line x1="250.2" y1="695.125" x2="252.7" y2="695.125" stroke="#888" stroke-width="0.6"/>
<rect x="275.675" y="722.3" width="4" height="1.4" fill="#c4c4c4"/>
<rect x="300.65" y="722.3" width="4" height="1.4" fill="#c4c4c4"/>
<rect x="325.625" y="722.3" width="4" height="1.4" fill="#c4c4c4"/>
<rect x="350.6" y="722.3" width="4" height="1.4" fill="#c4c4c4"/>
<path d="M251.3,626.5h1.4M251.3,629.4h1.4M251.3,632.2h1.4M251.3,635.1h1.4M251.3,637.9h1.4M251.3,640.8h1.4M251.3,643.7h1.4M251.3,646.5h1.4M251.3,649.4h1.4M251.3,652.2h1.4M251.3,655.1h1.4M251.3,658.0h1.4M251.3,660.8h1.4M251.3,663.7h1.4M251.3,666.5h1.4M251.3,669.4h1.4M251.3,672.2h1.4M251.3,675.1h1.4M251.3,678.0h1.4M251.3,680.8h1.4M251.3,683.7h1.4M251.3,686.5h1.4M251.3,689.4h1.4M251.3,692.3h1.4M251.3,695.1h1.4M251.3,698.0h1.4M251.3,700.8h1.4M251.3,703.7h1.4M251.3,706.6h1.4M251.3,709.4h1.4M251.3,712.3h1.4M251.3,715.1h1.4M251.3,718.0h1.4" stroke="#ccc" stroke-width="0.4"/>
<path d="M252.7,718v1.4M255.8,718v1.4M258.9,718v1.4M262.1,718v1.4M265.2,718v1.4M268.3,718v1.4M271.4,718v1.4M274.6,718v1.4M277.7,718v1.4M280.8,718v1.4M283.9,718v1.4M287.0,718v1.4M290.2,718v1.4M293.3,718v1.4M296.4,718v1.4M299.5,718v1.4M302.6,718v1.4M305.8,718v1.4M308.9,718v1.4M312.0,718v1.4M315.1,718v1.4M318.3,718v1.4M321.4,718v1.4M324.5,718v1.4M327.6,718v1.4M330.7,718v1.4M333.9,718v1.4M337.0,718v1.4M340.1,718v1.4M343.2,718v1.4M346.4,718v1.4M349.5,718v1.4M352.6,718v1.4" stroke="#ccc" stroke-width="0.4"/>
<rect x="254.0" y="627.9" width="3.6" height="2.4" fill="#999"/>
<rect x="303.1" y="627.9" width="3.6" height="2.4" fill="#999"/>
<rect x="254.0" y="674.9" width="3.6" height="2.4" fill="#999"/>
<rect x="303.1" y="674.9" width="3.6" height="2.4" fill="#999"/>
<text x="-1.7" y="770.5" font-family="&quot;Liberation Sans&quot;, sans-serif" font-size="18.8" font-weight="bold" stroke="#000" stroke-width="0.3" text-anchor="start" fill="#000">E</text>
<text x="62" y="769.6" font-family="&quot;Liberation Sans&quot;, sans-serif" font-size="20.2" font-weight="bold" stroke="#000" stroke-width="0.3" text-anchor="start" fill="#000">PKC-412</text>
<rect x="47.8" y="777" width="113.95" height="122" fill="#cacaca" stroke="#6a6a6a" stroke-width="1.5"/>
<line x1="47.8" y1="878.6666666666666" x2="161.75" y2="878.6666666666666" stroke="#6e6e6e" stroke-width="1.2"/>
<line x1="47.8" y1="858.3333333333334" x2="161.75" y2="858.3333333333334" stroke="#6e6e6e" stroke-width="1.2"/>
<line x1="47.8" y1="838.0" x2="161.75" y2="838.0" stroke="#6e6e6e" stroke-width="1.2"/>
<line x1="47.8" y1="817.6666666666666" x2="161.75" y2="817.6666666666666" stroke="#6e6e6e" stroke-width="1.2"/>
<line x1="47.8" y1="797.3333333333334" x2="161.75" y2="797.3333333333334" stroke="#6e6e6e" stroke-width="1.2"/>
<line x1="47.8" y1="776.3" x2="47.8" y2="899" stroke="#111" stroke-width="1.7"/>
<line x1="47.0" y1="899" x2="162.25" y2="899" stroke="#000" stroke-width="1.8"/>
<line x1="47.199999999999996" y1="896.6" x2="47.199999999999996" y2="899" stroke="#000" stroke-width="1.1"/>
<line x1="69.94999999999999" y1="896.6" x2="69.94999999999999" y2="899" stroke="#000" stroke-width="1.1"/>
<line x1="92.69999999999999" y1="896.6" x2="92.69999999999999" y2="899" stroke="#000" stroke-width="1.1"/>
<line x1="115.44999999999999" y1="896.6" x2="115.44999999999999" y2="899" stroke="#000" stroke-width="1.1"/>
<line x1="138.2" y1="896.6" x2="138.2" y2="899" stroke="#000" stroke-width="1.1"/>
<line x1="160.95" y1="896.6" x2="160.95" y2="899" stroke="#000" stroke-width="1.1"/>
<line x1="45.199999999999996" y1="899.0" x2="47.8" y2="899.0" stroke="#111" stroke-width="1.1"/>
<line x1="45.199999999999996" y1="878.6666666666666" x2="47.8" y2="878.6666666666666" stroke="#111" stroke-width="1.1"/>
<line x1="45.199999999999996" y1="858.3333333333334" x2="47.8" y2="858.3333333333334" stroke="#111" stroke-width="1.1"/>
<line x1="45.199999999999996" y1="838.0" x2="47.8" y2="838.0" stroke="#111" stroke-width="1.1"/>
<line x1="45.199999999999996" y1="817.6666666666666" x2="47.8" y2="817.6666666666666" stroke="#111" stroke-width="1.1"/>
<line x1="45.199999999999996" y1="797.3333333333334" x2="47.8" y2="797.3333333333334" stroke="#111" stroke-width="1.1"/>
<line x1="45.199999999999996" y1="777.0" x2="47.8" y2="777.0" stroke="#111" stroke-width="1.1"/>
<text x="39.0" y="904.9" font-family="&quot;Liberation Serif&quot;, serif" font-size="9" text-anchor="end" fill="#333">0</text>
<text x="39.0" y="884.5666666666666" font-family="&quot;Liberation Serif&quot;, serif" font-size="9" text-anchor="end" fill="#333">25</text>
<text x="39.0" y="864.2333333333333" font-family="&quot;Liberation Serif&quot;, serif" font-size="9" text-anchor="end" fill="#333">50</text>
<text x="39.0" y="843.9" font-family="&quot;Liberation Serif&quot;, serif" font-size="9" text-anchor="end" fill="#333">75</text>
<text x="39.0" y="823.5666666666666" font-family="&quot;Liberation Serif&quot;, serif" font-size="9" text-anchor="end" fill="#333">100</text>
<text x="39.0" y="803.2333333333333" font-family="&quot;Liberation Serif&quot;, serif" font-size="9" text-anchor="end" fill="#333">125</text>
<text x="39.0" y="782.9" font-family="&quot;Liberation Serif&quot;, serif" font-size="9" text-anchor="end" fill="#333">150</text>
<text x="18.699999999999996" y="861.7" font-family="&quot;Liberation Serif&quot;, serif" font-size="9" text-anchor="start" fill="#444" transform="rotate(-90 18.699999999999996 861.7)" textLength="54.5" lengthAdjust="spacingAndGlyphs">% of Control</text>
<text x="47.199999999999996" y="918.2" font-family="&quot;Liberation Serif&quot;, serif" font-size="9" text-anchor="middle" fill="#333">0</text>
<text x="70.54999999999998" y="918.2" font-family="&quot;Liberation Serif&quot;, serif" font-size="9" text-anchor="middle" fill="#333">0. 01</text>
<text x="93.29999999999998" y="918.2" font-family="&quot;Liberation Serif&quot;, serif" font-size="9" text-anchor="middle" fill="#333">0. 1</text>
<text x="115.44999999999999" y="918.2" font-family="&quot;Liberation Serif&quot;, serif" font-size="9" text-anchor="middle" fill="#333">1</text>
<text x="138.2" y="918.2" font-family="&quot;Liberation Serif&quot;, serif" font-size="9" text-anchor="middle" fill="#333">10</text>
<text x="160.95" y="918.2" font-family="&quot;Liberation Serif&quot;, serif" font-size="9" text-anchor="middle" fill="#333">100</text>
<text x="107.775" y="933.8" font-family="&quot;Liberation Serif&quot;, serif" font-size="9.6" text-anchor="middle" fill="#333" textLength="43" lengthAdjust="spacingAndGlyphs">(&#956;mol/L)</text>
<path d="M82.1,802.5 L93.8,816.3 L104.4,805.0 L116.1,812.0 L126.7,829.5 L138.4,824.5 L149.0,837.0" fill="none" stroke="#3a3a3a" stroke-width="1.1"/>
<path d="M82.1,798.0l4.3,4.5l-4.3,4.5l-4.3,-4.5z" fill="#4e4e4e" stroke="#2a2a2a" stroke-width="1.2"/>
<path d="M93.8,811.8l4.3,4.5l-4.3,4.5l-4.3,-4.5z" fill="#4e4e4e" stroke="#2a2a2a" stroke-width="1.2"/>
<path d="M104.4,800.5l4.3,4.5l-4.3,4.5l-4.3,-4.5z" fill="#4e4e4e" stroke="#2a2a2a" stroke-width="1.2"/>
<path d="M116.1,807.5l4.3,4.5l-4.3,4.5l-4.3,-4.5z" fill="#4e4e4e" stroke="#2a2a2a" stroke-width="1.2"/>
<path d="M126.7,825.0l4.3,4.5l-4.3,4.5l-4.3,-4.5z" fill="#4e4e4e" stroke="#2a2a2a" stroke-width="1.2"/>
<path d="M138.4,820.0l4.3,4.5l-4.3,4.5l-4.3,-4.5z" fill="#4e4e4e" stroke="#2a2a2a" stroke-width="1.2"/>
<path d="M149.0,832.5l4.3,4.5l-4.3,4.5l-4.3,-4.5z" fill="#4e4e4e" stroke="#2a2a2a" stroke-width="1.2"/>
<path d="M59.8,818.7 L71.5,818.7 L82.1,815.5 L93.8,827.5 L104.4,850.0 L116.1,891.5 L126.7,899.0" fill="none" stroke="#3a3a3a" stroke-width="1.1"/>
<path d="M59.8,814.2l4.3,4.5l-4.3,4.5l-4.3,-4.5z" fill="#fff" stroke="#333" stroke-width="1.2"/>
<path d="M71.5,814.2l4.3,4.5l-4.3,4.5l-4.3,-4.5z" fill="#fff" stroke="#333" stroke-width="1.2"/>
<path d="M82.1,811.0l4.3,4.5l-4.3,4.5l-4.3,-4.5z" fill="#fff" stroke="#333" stroke-width="1.2"/>
<path d="M93.8,823.0l4.3,4.5l-4.3,4.5l-4.3,-4.5z" fill="#fff" stroke="#333" stroke-width="1.2"/>
<path d="M104.4,845.5l4.3,4.5l-4.3,4.5l-4.3,-4.5z" fill="#fff" stroke="#333" stroke-width="1.2"/>
<path d="M116.1,887.0l4.3,4.5l-4.3,4.5l-4.3,-4.5z" fill="#fff" stroke="#333" stroke-width="1.2"/>
<path d="M126.7,894.5l4.3,4.5l-4.3,4.5l-4.3,-4.5z" fill="#fff" stroke="#333" stroke-width="1.2"/>
<text x="242.2" y="769.6" font-family="&quot;Liberation Sans&quot;, sans-serif" font-size="20.1" font-weight="bold" stroke="#000" stroke-width="0.3" text-anchor="start" fill="#000">CEP-701</text>
<rect x="228.3" y="777" width="112.89999999999998" height="121.79999999999995" fill="#cacaca" stroke="#6a6a6a" stroke-width="1.5"/>
<line x1="228.3" y1="878.5" x2="341.2" y2="878.5" stroke="#6e6e6e" stroke-width="1.2"/>
<line x1="228.3" y1="858.1999999999999" x2="341.2" y2="858.1999999999999" stroke="#6e6e6e" stroke-width="1.2"/>
<line x1="228.3" y1="837.9" x2="341.2" y2="837.9" stroke="#6e6e6e" stroke-width="1.2"/>
<line x1="228.3" y1="817.6" x2="341.2" y2="817.6" stroke="#6e6e6e" stroke-width="1.2"/>
<line x1="228.3" y1="797.3" x2="341.2" y2="797.3" stroke="#6e6e6e" stroke-width="1.2"/>
<line x1="228.3" y1="776.3" x2="228.3" y2="898.8" stroke="#111" stroke-width="1.7"/>
<line x1="227.5" y1="898.8" x2="341.7" y2="898.8" stroke="#000" stroke-width="1.8"/>
<line x1="227.70000000000002" y1="896.4" x2="227.70000000000002" y2="898.8" stroke="#000" stroke-width="1.1"/>
<line x1="250.45000000000002" y1="896.4" x2="250.45000000000002" y2="898.8" stroke="#000" stroke-width="1.1"/>
<line x1="273.20000000000005" y1="896.4" x2="273.20000000000005" y2="898.8" stroke="#000" stroke-width="1.1"/>
<line x1="295.95000000000005" y1="896.4" x2="295.95000000000005" y2="898.8" stroke="#000" stroke-width="1.1"/>
<line x1="318.70000000000005" y1="896.4" x2="318.70000000000005" y2="898.8" stroke="#000" stroke-width="1.1"/>
<line x1="341.45000000000005" y1="896.4" x2="341.45000000000005" y2="898.8" stroke="#000" stroke-width="1.1"/>
<line x1="225.70000000000002" y1="898.8" x2="228.3" y2="898.8" stroke="#111" stroke-width="1.1"/>
<line x1="225.70000000000002" y1="878.5" x2="228.3" y2="878.5" stroke="#111" stroke-width="1.1"/>
<line x1="225.70000000000002" y1="858.1999999999999" x2="228.3" y2="858.1999999999999" stroke="#111" stroke-width="1.1"/>
<line x1="225.70000000000002" y1="837.9" x2="228.3" y2="837.9" stroke="#111" stroke-width="1.1"/>
<line x1="225.70000000000002" y1="817.6" x2="228.3" y2="817.6" stroke="#111" stroke-width="1.1"/>
<line x1="225.70000000000002" y1="797.3" x2="228.3" y2="797.3" stroke="#111" stroke-width="1.1"/>
<line x1="225.70000000000002" y1="777.0" x2="228.3" y2="777.0" stroke="#111" stroke-width="1.1"/>
<text x="219.5" y="904.6999999999999" font-family="&quot;Liberation Serif&quot;, serif" font-size="9" text-anchor="end" fill="#333">0</text>
<text x="219.5" y="884.4" font-family="&quot;Liberation Serif&quot;, serif" font-size="9" text-anchor="end" fill="#333">25</text>
<text x="219.5" y="864.0999999999999" font-family="&quot;Liberation Serif&quot;, serif" font-size="9" text-anchor="end" fill="#333">50</text>
<text x="219.5" y="843.8" font-family="&quot;Liberation Serif&quot;, serif" font-size="9" text-anchor="end" fill="#333">75</text>
<text x="219.5" y="823.5" font-family="&quot;Liberation Serif&quot;, serif" font-size="9" text-anchor="end" fill="#333">100</text>
<text x="219.5" y="803.1999999999999" font-family="&quot;Liberation Serif&quot;, serif" font-size="9" text-anchor="end" fill="#333">125</text>
<text x="219.5" y="782.9" font-family="&quot;Liberation Serif&quot;, serif" font-size="9" text-anchor="end" fill="#333">150</text>
<text x="199.20000000000002" y="861.7" font-family="&quot;Liberation Serif&quot;, serif" font-size="9" text-anchor="start" fill="#444" transform="rotate(-90 199.20000000000002 861.7)" textLength="54.5" lengthAdjust="spacingAndGlyphs">% of Control</text>
<text x="227.70000000000002" y="918.0" font-family="&quot;Liberation Serif&quot;, serif" font-size="9" text-anchor="middle" fill="#333">0</text>
<text x="251.05" y="918.0" font-family="&quot;Liberation Serif&quot;, serif" font-size="9" text-anchor="middle" fill="#333">0. 01</text>
<text x="273.80000000000007" y="918.0" font-family="&quot;Liberation Serif&quot;, serif" font-size="9" text-anchor="middle" fill="#333">0. 1</text>
<text x="295.95000000000005" y="918.0" font-family="&quot;Liberation Serif&quot;, serif" font-size="9" text-anchor="middle" fill="#333">1</text>
<text x="318.70000000000005" y="918.0" font-family="&quot;Liberation Serif&quot;, serif" font-size="9" text-anchor="middle" fill="#333">10</text>
<text x="341.45000000000005" y="918.0" font-family="&quot;Liberation Serif&quot;, serif" font-size="9" text-anchor="middle" fill="#333">100</text>
<text x="287.75" y="933.5999999999999" font-family="&quot;Liberation Serif&quot;, serif" font-size="9.6" text-anchor="middle" fill="#333" textLength="43" lengthAdjust="spacingAndGlyphs">(&#956;mol/L)</text>
<path d="M262.6,808.0 L274.3,822.0 L284.9,823.0 L296.6,830.0 L307.2,868.8 L318.9,898.8 L329.5,898.8" fill="none" stroke="#3a3a3a" stroke-width="1.1"/>
<circle cx="262.6" cy="808.0" r="4.2" fill="#4e4e4e" stroke="#2a2a2a" stroke-width="1.2"/>
<circle cx="274.3" cy="822.0" r="4.2" fill="#4e4e4e" stroke="#2a2a2a" stroke-width="1.2"/>
<circle cx="284.9" cy="823.0" r="4.2" fill="#4e4e4e" stroke="#2a2a2a" stroke-width="1.2"/>
<circle cx="296.6" cy="830.0" r="4.2" fill="#4e4e4e" stroke="#2a2a2a" stroke-width="1.2"/>
<circle cx="307.2" cy="868.8" r="4.2" fill="#4e4e4e" stroke="#2a2a2a" stroke-width="1.2"/>
<circle cx="318.9" cy="898.8" r="4.2" fill="#4e4e4e" stroke="#2a2a2a" stroke-width="1.2"/>
<circle cx="329.5" cy="898.8" r="4.2" fill="#4e4e4e" stroke="#2a2a2a" stroke-width="1.2"/>
<path d="M240.3,882.6 L252.0,893.3 L262.6,896.3 L274.3,898.8 L284.9,898.8 L296.6,898.8 L307.2,898.8" fill="none" stroke="#3a3a3a" stroke-width="1.1"/>
<circle cx="240.3" cy="882.6" r="4.2" fill="#fff" stroke="#333" stroke-width="1.2"/>
<circle cx="252.0" cy="893.3" r="4.2" fill="#fff" stroke="#333" stroke-width="1.2"/>
<circle cx="262.6" cy="896.3" r="4.2" fill="#fff" stroke="#333" stroke-width="1.2"/>
<circle cx="274.3" cy="898.8" r="4.2" fill="#fff" stroke="#333" stroke-width="1.2"/>
<circle cx="284.9" cy="898.8" r="4.2" fill="#fff" stroke="#333" stroke-width="1.2"/>
<circle cx="296.6" cy="898.8" r="4.2" fill="#fff" stroke="#333" stroke-width="1.2"/>
<circle cx="307.2" cy="898.8" r="4.2" fill="#fff" stroke="#333" stroke-width="1.2"/>
<text x="412.9" y="768.7" font-family="&quot;Liberation Sans&quot;, sans-serif" font-size="21" font-weight="bold" stroke="#000" stroke-width="0.3" text-anchor="start" fill="#000">KW-2449</text>
<rect x="402.6" y="776.4" width="111.19999999999993" height="122.39999999999998" fill="#cacaca" stroke="#6a6a6a" stroke-width="1.5"/>
<line x1="402.6" y1="878.4" x2="513.8" y2="878.4" stroke="#6e6e6e" stroke-width="1.2"/>
<line x1="402.6" y1="858.0" x2="513.8" y2="858.0" stroke="#6e6e6e" stroke-width="1.2"/>
<line x1="402.6" y1="837.5999999999999" x2="513.8" y2="837.5999999999999" stroke="#6e6e6e" stroke-width="1.2"/>
<line x1="402.6" y1="817.1999999999999" x2="513.8" y2="817.1999999999999" stroke="#6e6e6e" stroke-width="1.2"/>
<line x1="402.6" y1="796.8" x2="513.8" y2="796.8" stroke="#6e6e6e" stroke-width="1.2"/>
<line x1="402.6" y1="775.6999999999999" x2="402.6" y2="898.8" stroke="#111" stroke-width="1.7"/>
<line x1="401.8" y1="898.8" x2="514.3" y2="898.8" stroke="#000" stroke-width="1.8"/>
<line x1="402.0" y1="896.4" x2="402.0" y2="898.8" stroke="#000" stroke-width="1.1"/>
<line x1="424.75" y1="896.4" x2="424.75" y2="898.8" stroke="#000" stroke-width="1.1"/>
<line x1="447.5" y1="896.4" x2="447.5" y2="898.8" stroke="#000" stroke-width="1.1"/>
<line x1="470.25" y1="896.4" x2="470.25" y2="898.8" stroke="#000" stroke-width="1.1"/>
<line x1="493.0" y1="896.4" x2="493.0" y2="898.8" stroke="#000" stroke-width="1.1"/>
<line x1="515.75" y1="896.4" x2="515.75" y2="898.8" stroke="#000" stroke-width="1.1"/>
<line x1="400.0" y1="898.8" x2="402.6" y2="898.8" stroke="#111" stroke-width="1.1"/>
<line x1="400.0" y1="878.4" x2="402.6" y2="878.4" stroke="#111" stroke-width="1.1"/>
<line x1="400.0" y1="858.0" x2="402.6" y2="858.0" stroke="#111" stroke-width="1.1"/>
<line x1="400.0" y1="837.5999999999999" x2="402.6" y2="837.5999999999999" stroke="#111" stroke-width="1.1"/>
<line x1="400.0" y1="817.1999999999999" x2="402.6" y2="817.1999999999999" stroke="#111" stroke-width="1.1"/>
<line x1="400.0" y1="796.8" x2="402.6" y2="796.8" stroke="#111" stroke-width="1.1"/>
<line x1="400.0" y1="776.4" x2="402.6" y2="776.4" stroke="#111" stroke-width="1.1"/>
<text x="393.8" y="904.6999999999999" font-family="&quot;Liberation Serif&quot;, serif" font-size="9" text-anchor="end" fill="#333">0</text>
<text x="393.8" y="884.3" font-family="&quot;Liberation Serif&quot;, serif" font-size="9" text-anchor="end" fill="#333">25</text>
<text x="393.8" y="863.9" font-family="&quot;Liberation Serif&quot;, serif" font-size="9" text-anchor="end" fill="#333">50</text>
<text x="393.8" y="843.4999999999999" font-family="&quot;Liberation Serif&quot;, serif" font-size="9" text-anchor="end" fill="#333">75</text>
<text x="393.8" y="823.0999999999999" font-family="&quot;Liberation Serif&quot;, serif" font-size="9" text-anchor="end" fill="#333">100</text>
<text x="393.8" y="802.6999999999999" font-family="&quot;Liberation Serif&quot;, serif" font-size="9" text-anchor="end" fill="#333">125</text>
<text x="393.8" y="782.3" font-family="&quot;Liberation Serif&quot;, serif" font-size="9" text-anchor="end" fill="#333">150</text>
<text x="373.5" y="861.1" font-family="&quot;Liberation Serif&quot;, serif" font-size="9" text-anchor="start" fill="#444" transform="rotate(-90 373.5 861.1)" textLength="54.5" lengthAdjust="spacingAndGlyphs">% of Control</text>
<text x="402.0" y="918.0" font-family="&quot;Liberation Serif&quot;, serif" font-size="9" text-anchor="middle" fill="#333">0</text>
<text x="425.35" y="918.0" font-family="&quot;Liberation Serif&quot;, serif" font-size="9" text-anchor="middle" fill="#333">0. 01</text>
<text x="448.1" y="918.0" font-family="&quot;Liberation Serif&quot;, serif" font-size="9" text-anchor="middle" fill="#333">0. 1</text>
<text x="470.25" y="918.0" font-family="&quot;Liberation Serif&quot;, serif" font-size="9" text-anchor="middle" fill="#333">1</text>
<text x="493.0" y="918.0" font-family="&quot;Liberation Serif&quot;, serif" font-size="9" text-anchor="middle" fill="#333">10</text>
<text x="515.75" y="918.0" font-family="&quot;Liberation Serif&quot;, serif" font-size="9" text-anchor="middle" fill="#333">100</text>
<text x="461.2" y="933.5999999999999" font-family="&quot;Liberation Serif&quot;, serif" font-size="9.6" text-anchor="middle" fill="#333" textLength="43" lengthAdjust="spacingAndGlyphs">(&#956;mol/L)</text>
<path d="M414.6,817.0 L426.3,830.5 L436.9,853.8 L448.6,887.5 L459.2,898.8 L470.9,898.8 L481.5,898.8 L493.2,897.5 L503.8,893.0" fill="none" stroke="#444" stroke-width="1.8"/>
<path d="M414.6,812.2l4.4,7.8h-8.8z" fill="#fff" stroke="#333" stroke-width="1.2"/>
<path d="M426.3,825.7l4.4,7.8h-8.8z" fill="#fff" stroke="#333" stroke-width="1.2"/>
<path d="M436.9,849.0l4.4,7.8h-8.8z" fill="#fff" stroke="#333" stroke-width="1.2"/>
<path d="M448.6,882.7l4.4,7.8h-8.8z" fill="#fff" stroke="#333" stroke-width="1.2"/>
<path d="M459.2,894.0l4.4,7.8h-8.8z" fill="#fff" stroke="#333" stroke-width="1.2"/>
<path d="M470.9,894.0l4.4,7.8h-8.8z" fill="#fff" stroke="#333" stroke-width="1.2"/>
<path d="M481.5,894.0l4.4,7.8h-8.8z" fill="#fff" stroke="#333" stroke-width="1.2"/>
<path d="M493.2,892.7l4.4,7.8h-8.8z" fill="#fff" stroke="#333" stroke-width="1.2"/>
<path d="M503.8,888.2l4.4,7.8h-8.8z" fill="#fff" stroke="#333" stroke-width="1.2"/>
<path d="M436.9,853.8 L448.6,887.5 L459.2,898.8 L470.9,898.8 L481.5,898.8 L493.2,897.5 L503.8,893.0" fill="none" stroke="#4a4a4a" stroke-width="2.2"/>
<path d="M436.9,849.0l4.4,7.8h-8.8z" fill="#4e4e4e" stroke="#2a2a2a" stroke-width="1.2"/>
<path d="M448.6,882.7l4.4,7.8h-8.8z" fill="#4e4e4e" stroke="#2a2a2a" stroke-width="1.2"/>
<path d="M459.2,894.0l4.4,7.8h-8.8z" fill="#4e4e4e" stroke="#2a2a2a" stroke-width="1.2"/>
<path d="M470.9,894.0l4.4,7.8h-8.8z" fill="#4e4e4e" stroke="#2a2a2a" stroke-width="1.2"/>
<path d="M481.5,894.0l4.4,7.8h-8.8z" fill="#4e4e4e" stroke="#2a2a2a" stroke-width="1.2"/>
<path d="M493.2,892.7l4.4,7.8h-8.8z" fill="#4e4e4e" stroke="#2a2a2a" stroke-width="1.2"/>
<path d="M503.8,888.2l4.4,7.8h-8.8z" fill="#4e4e4e" stroke="#2a2a2a" stroke-width="1.2"/>
</svg></body></html>
